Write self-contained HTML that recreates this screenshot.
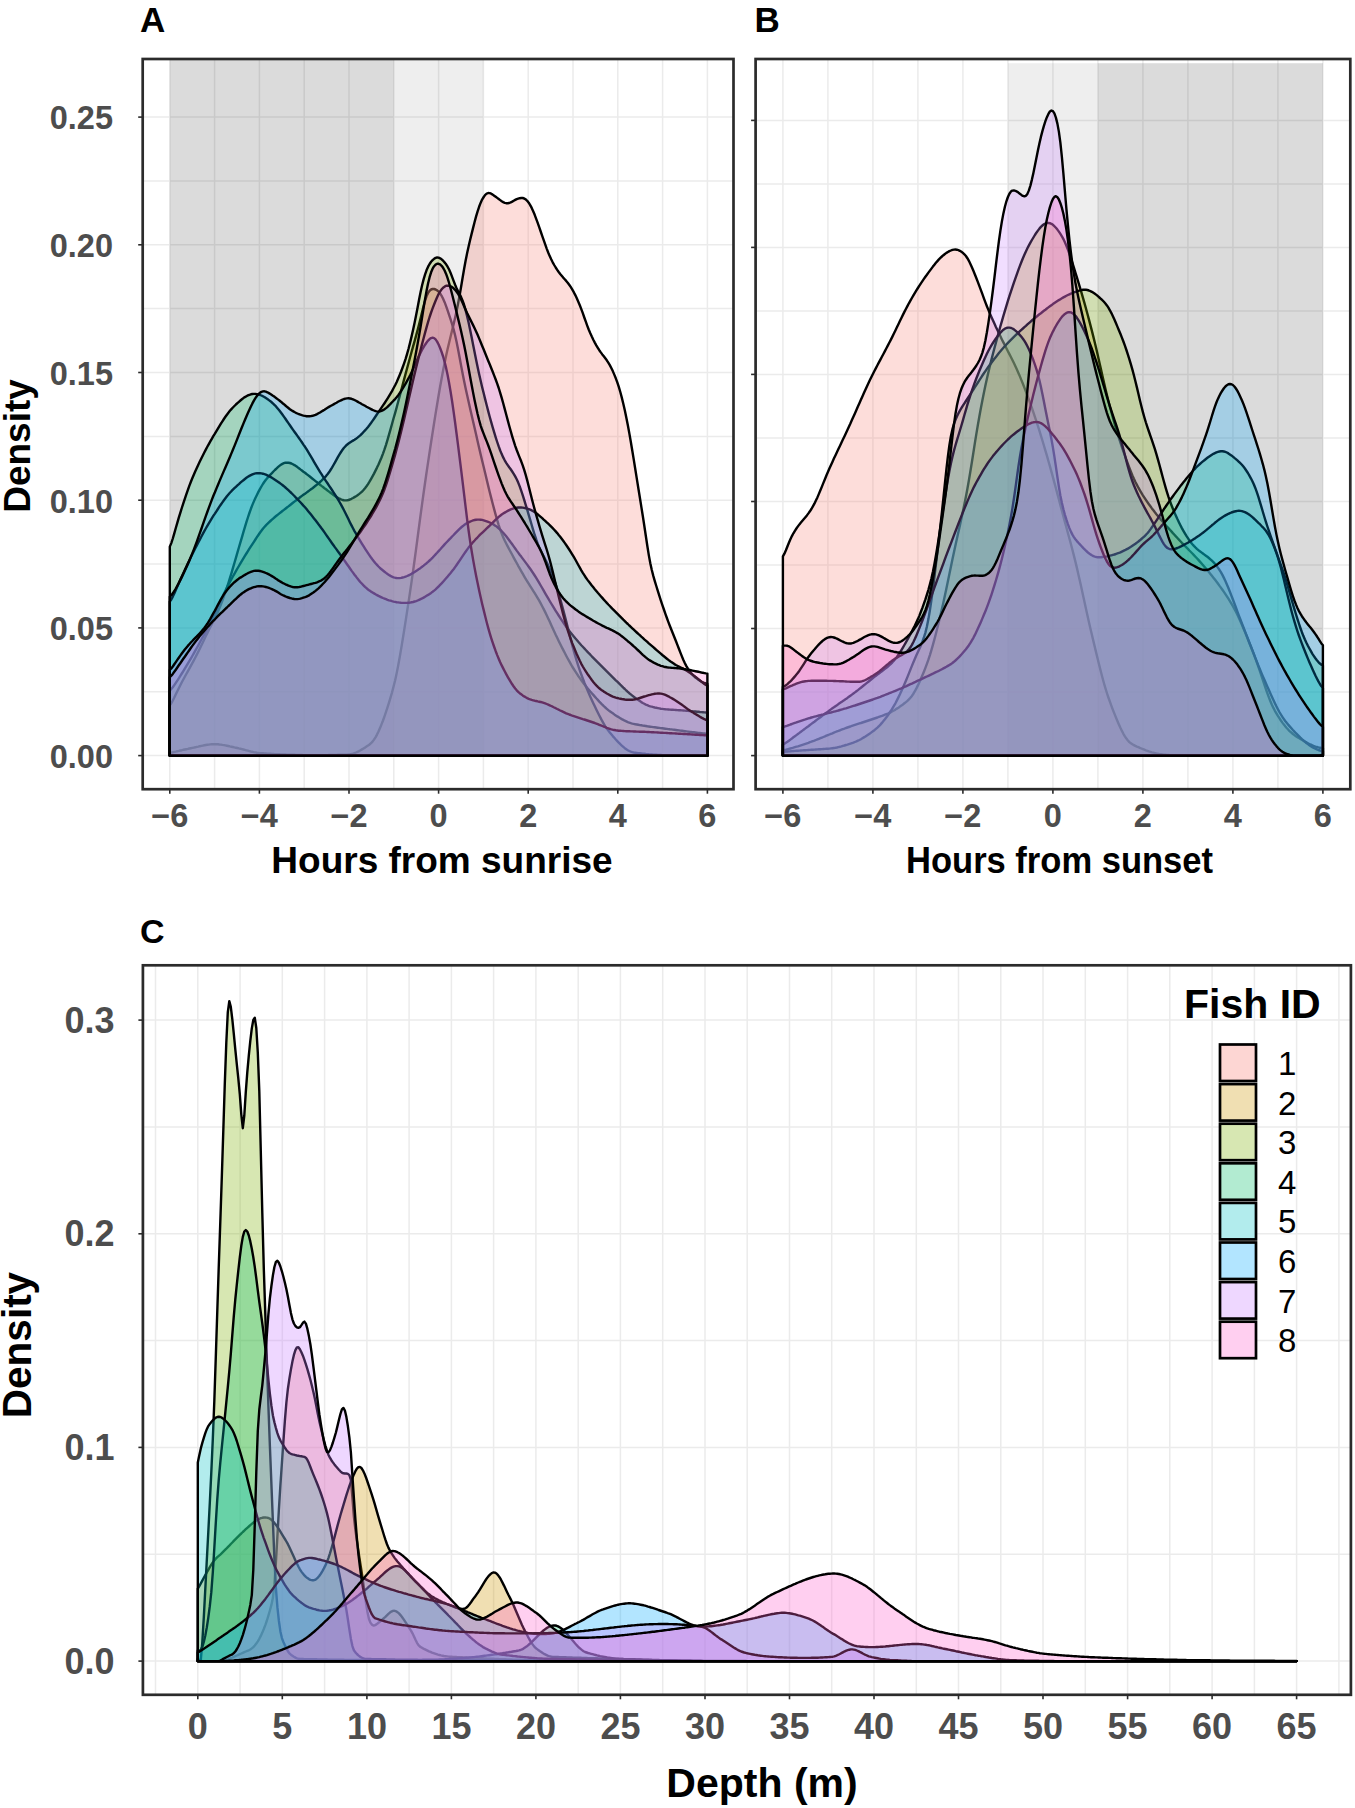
<!DOCTYPE html><html><head><meta charset="utf-8"><style>html,body{margin:0;padding:0;background:#fff;width:1355px;height:1808px;overflow:hidden}</style></head><body><svg xmlns="http://www.w3.org/2000/svg" width="1355" height="1808" viewBox="0 0 1355 1808" style="position:absolute;left:0;top:0">
<rect width="100%" height="100%" fill="#fff"/>
<g font-family='"Liberation Sans", sans-serif'>
<line x1="169.8" y1="59.0" x2="169.8" y2="789.2" stroke="#ebebeb" stroke-width="1.5"/>
<line x1="214.6" y1="59.0" x2="214.6" y2="789.2" stroke="#ebebeb" stroke-width="1.5"/>
<line x1="259.4" y1="59.0" x2="259.4" y2="789.2" stroke="#ebebeb" stroke-width="1.5"/>
<line x1="304.2" y1="59.0" x2="304.2" y2="789.2" stroke="#ebebeb" stroke-width="1.5"/>
<line x1="349.0" y1="59.0" x2="349.0" y2="789.2" stroke="#ebebeb" stroke-width="1.5"/>
<line x1="393.8" y1="59.0" x2="393.8" y2="789.2" stroke="#ebebeb" stroke-width="1.5"/>
<line x1="438.6" y1="59.0" x2="438.6" y2="789.2" stroke="#ebebeb" stroke-width="1.5"/>
<line x1="483.4" y1="59.0" x2="483.4" y2="789.2" stroke="#ebebeb" stroke-width="1.5"/>
<line x1="528.2" y1="59.0" x2="528.2" y2="789.2" stroke="#ebebeb" stroke-width="1.5"/>
<line x1="573.0" y1="59.0" x2="573.0" y2="789.2" stroke="#ebebeb" stroke-width="1.5"/>
<line x1="617.8" y1="59.0" x2="617.8" y2="789.2" stroke="#ebebeb" stroke-width="1.5"/>
<line x1="662.6" y1="59.0" x2="662.6" y2="789.2" stroke="#ebebeb" stroke-width="1.5"/>
<line x1="707.4" y1="59.0" x2="707.4" y2="789.2" stroke="#ebebeb" stroke-width="1.5"/>
<line x1="142.7" y1="755.6" x2="733.4" y2="755.6" stroke="#ebebeb" stroke-width="1.5"/>
<line x1="142.7" y1="691.8" x2="733.4" y2="691.8" stroke="#ebebeb" stroke-width="1.5"/>
<line x1="142.7" y1="627.9" x2="733.4" y2="627.9" stroke="#ebebeb" stroke-width="1.5"/>
<line x1="142.7" y1="564.0" x2="733.4" y2="564.0" stroke="#ebebeb" stroke-width="1.5"/>
<line x1="142.7" y1="500.2" x2="733.4" y2="500.2" stroke="#ebebeb" stroke-width="1.5"/>
<line x1="142.7" y1="436.4" x2="733.4" y2="436.4" stroke="#ebebeb" stroke-width="1.5"/>
<line x1="142.7" y1="372.5" x2="733.4" y2="372.5" stroke="#ebebeb" stroke-width="1.5"/>
<line x1="142.7" y1="308.6" x2="733.4" y2="308.6" stroke="#ebebeb" stroke-width="1.5"/>
<line x1="142.7" y1="244.8" x2="733.4" y2="244.8" stroke="#ebebeb" stroke-width="1.5"/>
<line x1="142.7" y1="181.0" x2="733.4" y2="181.0" stroke="#ebebeb" stroke-width="1.5"/>
<line x1="142.7" y1="117.1" x2="733.4" y2="117.1" stroke="#ebebeb" stroke-width="1.5"/>
<rect x="169.8" y="59.6" width="224.0" height="696.0" fill="#000" fill-opacity="0.140"/>
<rect x="393.8" y="59.6" width="89.6" height="696.0" fill="#000" fill-opacity="0.065"/>
<path d="M169.8,755.6 L169.8,752.8 L171.3,752.6 L172.8,752.3 L174.3,751.9 L175.8,751.6 L177.3,751.2 L178.8,750.9 L180.3,750.5 L181.8,750.2 L183.3,749.8 L184.8,749.5 L186.3,749.2 L187.8,748.9 L189.3,748.5 L190.8,748.2 L192.3,747.9 L193.8,747.6 L195.3,747.3 L196.8,746.9 L198.3,746.6 L199.8,746.2 L201.3,745.9 L202.8,745.6 L204.3,745.3 L205.8,745.0 L207.3,744.8 L208.8,744.6 L210.3,744.4 L211.8,744.3 L213.3,744.2 L214.9,744.2 L216.4,744.2 L217.9,744.3 L219.4,744.5 L220.9,744.6 L222.4,744.9 L223.9,745.1 L225.4,745.4 L226.9,745.7 L228.4,746.0 L229.9,746.4 L231.4,746.7 L232.9,747.0 L234.4,747.4 L235.9,747.7 L237.4,748.0 L238.9,748.4 L240.4,748.7 L241.9,749.1 L243.4,749.5 L244.9,749.9 L246.4,750.3 L247.9,750.7 L249.4,751.1 L250.9,751.5 L252.4,751.8 L253.9,752.2 L255.4,752.4 L256.9,752.7 L258.4,752.9 L259.9,753.1 L261.4,753.2 L262.9,753.3 L264.4,753.4 L265.9,753.5 L267.4,753.6 L268.9,753.7 L270.4,753.8 L271.9,753.9 L273.4,754.0 L274.9,754.1 L276.4,754.2 L277.9,754.2 L279.4,754.3 L280.9,754.4 L282.4,754.4 L283.9,754.5 L285.4,754.5 L286.9,754.6 L288.4,754.6 L289.9,754.7 L291.4,754.7 L292.9,754.8 L294.4,754.8 L295.9,754.9 L297.4,754.9 L298.9,754.9 L300.4,755.0 L301.9,755.0 L303.4,755.1 L305.0,755.1 L306.5,755.1 L308.0,755.2 L309.5,755.2 L311.0,755.2 L312.5,755.2 L314.0,755.2 L315.5,755.2 L317.0,755.2 L318.5,755.2 L320.0,755.2 L321.5,755.2 L323.0,755.2 L324.5,755.1 L326.0,755.1 L327.5,755.1 L329.0,755.0 L330.5,755.0 L332.0,755.0 L333.5,754.9 L335.0,754.9 L336.5,754.9 L338.0,754.8 L339.5,754.8 L341.0,754.8 L342.5,754.7 L344.0,754.7 L345.5,754.6 L347.0,754.6 L348.5,754.4 L350.0,754.3 L351.5,754.0 L353.0,753.6 L354.5,753.1 L356.0,752.5 L357.5,751.8 L359.0,751.1 L360.5,750.3 L362.0,749.4 L363.5,748.5 L365.0,747.6 L366.5,746.6 L368.0,745.6 L369.5,744.5 L371.0,743.2 L372.5,741.6 L374.0,739.6 L375.5,737.3 L377.0,734.6 L378.5,731.5 L380.0,728.1 L381.5,724.4 L383.0,720.5 L384.5,716.3 L386.0,711.9 L387.5,707.4 L389.0,702.6 L390.5,697.7 L392.0,692.5 L393.5,686.8 L395.1,680.5 L396.6,673.5 L398.1,665.9 L399.6,657.8 L401.1,649.1 L402.6,640.0 L404.1,630.7 L405.6,621.1 L407.1,611.4 L408.6,601.6 L410.1,591.6 L411.6,581.4 L413.1,570.8 L414.6,560.0 L416.1,548.8 L417.6,537.5 L419.1,526.2 L420.6,514.9 L422.1,503.8 L423.6,493.0 L425.1,482.5 L426.6,472.2 L428.1,462.1 L429.6,452.1 L431.1,442.3 L432.6,432.6 L434.1,423.0 L435.6,413.6 L437.1,404.5 L438.6,395.5 L440.1,386.8 L441.6,378.5 L443.1,370.5 L444.6,362.9 L446.1,355.8 L447.6,349.1 L449.1,342.7 L450.6,336.5 L452.1,330.4 L453.6,324.2 L455.1,317.8 L456.6,311.0 L458.1,303.6 L459.6,295.5 L461.1,286.8 L462.6,277.8 L464.1,269.0 L465.6,260.8 L467.1,253.3 L468.6,246.5 L470.1,240.0 L471.6,233.9 L473.1,227.9 L474.6,222.0 L476.1,216.4 L477.6,211.3 L479.1,206.8 L480.6,202.9 L482.1,199.6 L483.7,197.0 L485.2,194.9 L486.7,193.6 L488.2,193.0 L489.7,193.1 L491.2,193.7 L492.7,194.6 L494.2,195.7 L495.7,196.8 L497.2,197.9 L498.7,199.0 L500.2,200.1 L501.7,201.2 L503.2,202.1 L504.7,202.8 L506.2,203.2 L507.7,203.3 L509.2,203.0 L510.7,202.4 L512.2,201.6 L513.7,200.7 L515.2,199.9 L516.7,199.1 L518.2,198.6 L519.7,198.2 L521.2,198.0 L522.7,198.0 L524.2,198.5 L525.7,199.4 L527.2,200.8 L528.7,202.7 L530.2,205.1 L531.7,207.9 L533.2,211.2 L534.7,214.8 L536.2,218.8 L537.7,222.9 L539.2,227.2 L540.7,231.5 L542.2,235.8 L543.7,240.1 L545.2,244.4 L546.7,248.6 L548.2,252.5 L549.7,256.1 L551.2,259.3 L552.7,262.3 L554.2,265.0 L555.7,267.5 L557.2,269.8 L558.7,272.0 L560.2,274.0 L561.7,275.8 L563.2,277.6 L564.7,279.2 L566.2,280.9 L567.7,282.7 L569.2,284.7 L570.7,286.9 L572.2,289.4 L573.8,292.2 L575.3,295.1 L576.8,298.3 L578.3,301.7 L579.8,305.3 L581.3,309.1 L582.8,313.2 L584.3,317.5 L585.8,321.7 L587.3,325.8 L588.8,329.7 L590.3,333.3 L591.8,336.6 L593.3,339.7 L594.8,342.6 L596.3,345.3 L597.8,347.8 L599.3,350.2 L600.8,352.4 L602.3,354.4 L603.8,356.3 L605.3,358.3 L606.8,360.3 L608.3,362.6 L609.8,365.1 L611.3,368.0 L612.8,371.1 L614.3,374.6 L615.8,378.3 L617.3,382.4 L618.8,386.9 L620.3,392.0 L621.8,397.6 L623.3,403.7 L624.8,410.3 L626.3,417.4 L627.8,425.0 L629.3,433.1 L630.8,441.7 L632.3,450.7 L633.8,459.9 L635.3,469.3 L636.8,478.6 L638.3,488.0 L639.8,497.3 L641.3,506.6 L642.8,516.0 L644.3,525.7 L645.8,535.8 L647.3,545.8 L648.8,555.1 L650.3,563.2 L651.8,570.0 L653.3,575.9 L654.8,581.1 L656.3,586.0 L657.8,590.8 L659.3,595.6 L660.8,600.3 L662.3,604.9 L663.9,609.5 L665.4,613.8 L666.9,618.0 L668.4,622.1 L669.9,626.0 L671.4,629.8 L672.9,633.5 L674.4,637.3 L675.9,641.0 L677.4,644.9 L678.9,648.8 L680.4,652.6 L681.9,656.4 L683.4,660.0 L684.9,663.2 L686.4,666.1 L687.9,668.6 L689.4,670.8 L690.9,672.8 L692.4,674.6 L693.9,676.1 L695.4,677.5 L696.9,678.6 L698.4,679.7 L699.9,680.7 L701.4,681.6 L702.9,682.4 L704.4,683.0 L705.9,683.5 L707.4,683.8 L707.4,755.6Z" fill="#F8766D" fill-opacity="0.25" stroke="#000" stroke-width="2.4" stroke-linejoin="round"/>
<path d="M169.8,755.6 L169.8,705.2 L171.3,703.2 L172.8,700.5 L174.3,697.5 L175.8,694.3 L177.3,691.2 L178.8,688.2 L180.3,685.2 L181.8,682.3 L183.3,679.5 L184.8,676.7 L186.3,674.0 L187.8,671.3 L189.3,668.6 L190.8,665.9 L192.3,663.2 L193.8,660.4 L195.3,657.5 L196.8,654.6 L198.3,651.6 L199.8,648.6 L201.3,645.5 L202.8,642.4 L204.3,639.2 L205.8,636.1 L207.3,633.1 L208.8,630.0 L210.3,627.0 L211.8,624.1 L213.3,621.1 L214.9,618.1 L216.4,615.0 L217.9,611.7 L219.4,608.2 L220.9,604.5 L222.4,600.6 L223.9,596.4 L225.4,592.1 L226.9,587.6 L228.4,583.0 L229.9,578.2 L231.4,573.3 L232.9,568.2 L234.4,563.0 L235.9,557.8 L237.4,552.6 L238.9,547.5 L240.4,542.4 L241.9,537.3 L243.4,532.2 L244.9,527.2 L246.4,522.2 L247.9,517.5 L249.4,513.0 L250.9,508.8 L252.4,504.9 L253.9,501.4 L255.4,498.0 L256.9,494.9 L258.4,491.9 L259.9,489.1 L261.4,486.5 L262.9,484.0 L264.4,481.8 L265.9,479.7 L267.4,477.9 L268.9,476.2 L270.4,474.6 L271.9,473.1 L273.4,471.5 L274.9,470.0 L276.4,468.6 L277.9,467.2 L279.4,465.9 L280.9,464.8 L282.4,463.9 L283.9,463.2 L285.4,462.7 L286.9,462.6 L288.4,462.7 L289.9,463.0 L291.4,463.5 L292.9,464.3 L294.4,465.1 L295.9,466.1 L297.4,467.1 L298.9,468.2 L300.4,469.4 L301.9,470.5 L303.4,471.7 L305.0,472.8 L306.5,474.0 L308.0,475.1 L309.5,476.3 L311.0,477.5 L312.5,478.7 L314.0,479.9 L315.5,481.1 L317.0,482.3 L318.5,483.5 L320.0,484.7 L321.5,485.9 L323.0,487.0 L324.5,488.2 L326.0,489.3 L327.5,490.5 L329.0,491.6 L330.5,492.7 L332.0,493.9 L333.5,495.0 L335.0,496.0 L336.5,497.0 L338.0,497.9 L339.5,498.7 L341.0,499.4 L342.5,500.0 L344.0,500.3 L345.5,500.4 L347.0,500.3 L348.5,500.0 L350.0,499.5 L351.5,498.8 L353.0,498.0 L354.5,497.1 L356.0,496.2 L357.5,495.2 L359.0,494.1 L360.5,492.9 L362.0,491.6 L363.5,490.0 L365.0,488.2 L366.5,486.3 L368.0,484.1 L369.5,481.7 L371.0,479.1 L372.5,476.4 L374.0,473.6 L375.5,470.6 L377.0,467.6 L378.5,464.4 L380.0,461.0 L381.5,457.5 L383.0,453.6 L384.5,449.4 L386.0,444.8 L387.5,439.8 L389.0,434.7 L390.5,429.4 L392.0,424.0 L393.5,418.5 L395.1,413.1 L396.6,407.6 L398.1,402.0 L399.6,396.4 L401.1,390.7 L402.6,385.1 L404.1,379.4 L405.6,373.7 L407.1,368.2 L408.6,362.7 L410.1,357.2 L411.6,351.8 L413.1,346.4 L414.6,341.1 L416.1,335.6 L417.6,330.1 L419.1,324.3 L420.6,318.3 L422.1,312.1 L423.6,306.0 L425.1,300.6 L426.6,296.1 L428.1,292.9 L429.6,290.7 L431.1,289.5 L432.6,289.0 L434.1,289.0 L435.6,289.5 L437.1,290.4 L438.6,291.6 L440.1,293.4 L441.6,295.8 L443.1,298.7 L444.6,302.2 L446.1,306.2 L447.6,310.4 L449.1,314.9 L450.6,319.4 L452.1,324.2 L453.6,329.4 L455.1,335.3 L456.6,342.0 L458.1,349.5 L459.6,357.5 L461.1,365.6 L462.6,373.5 L464.1,381.0 L465.6,388.2 L467.1,395.1 L468.6,401.8 L470.1,408.4 L471.6,415.0 L473.1,421.5 L474.6,428.1 L476.1,434.6 L477.6,441.2 L479.1,447.7 L480.6,454.2 L482.1,460.6 L483.7,467.0 L485.2,473.3 L486.7,479.6 L488.2,485.9 L489.7,492.0 L491.2,497.9 L492.7,503.7 L494.2,509.4 L495.7,514.9 L497.2,520.2 L498.7,525.1 L500.2,529.6 L501.7,533.6 L503.2,537.2 L504.7,540.5 L506.2,543.5 L507.7,546.4 L509.2,549.2 L510.7,552.0 L512.2,554.8 L513.7,557.6 L515.2,560.3 L516.7,563.0 L518.2,565.8 L519.7,568.4 L521.2,571.1 L522.7,573.7 L524.2,576.3 L525.7,578.8 L527.2,581.3 L528.7,583.7 L530.2,586.1 L531.7,588.4 L533.2,590.8 L534.7,593.2 L536.2,595.6 L537.7,598.1 L539.2,600.7 L540.7,603.4 L542.2,606.2 L543.7,609.1 L545.2,612.1 L546.7,615.2 L548.2,618.4 L549.7,621.6 L551.2,624.9 L552.7,628.2 L554.2,631.4 L555.7,634.7 L557.2,637.8 L558.7,640.9 L560.2,644.0 L561.7,647.0 L563.2,649.9 L564.7,652.8 L566.2,655.7 L567.7,658.5 L569.2,661.2 L570.7,663.9 L572.2,666.5 L573.8,669.0 L575.3,671.4 L576.8,673.7 L578.3,676.0 L579.8,678.1 L581.3,680.2 L582.8,682.2 L584.3,684.2 L585.8,686.1 L587.3,687.9 L588.8,689.7 L590.3,691.5 L591.8,693.2 L593.3,694.9 L594.8,696.6 L596.3,698.3 L597.8,699.9 L599.3,701.6 L600.8,703.1 L602.3,704.7 L603.8,706.2 L605.3,707.5 L606.8,708.8 L608.3,710.1 L609.8,711.2 L611.3,712.3 L612.8,713.3 L614.3,714.4 L615.8,715.4 L617.3,716.4 L618.8,717.3 L620.3,718.2 L621.8,719.1 L623.3,719.9 L624.8,720.7 L626.3,721.4 L627.8,722.1 L629.3,722.7 L630.8,723.2 L632.3,723.6 L633.8,723.9 L635.3,724.3 L636.8,724.5 L638.3,724.8 L639.8,725.1 L641.3,725.3 L642.8,725.6 L644.3,725.8 L645.8,726.0 L647.3,726.3 L648.8,726.5 L650.3,726.7 L651.8,726.9 L653.3,727.1 L654.8,727.3 L656.3,727.5 L657.8,727.7 L659.3,727.9 L660.8,728.1 L662.3,728.3 L663.9,728.5 L665.4,728.7 L666.9,728.9 L668.4,729.1 L669.9,729.3 L671.4,729.4 L672.9,729.6 L674.4,729.8 L675.9,730.0 L677.4,730.2 L678.9,730.4 L680.4,730.6 L681.9,730.8 L683.4,731.0 L684.9,731.2 L686.4,731.4 L687.9,731.6 L689.4,731.8 L690.9,731.9 L692.4,732.1 L693.9,732.3 L695.4,732.5 L696.9,732.7 L698.4,732.9 L699.9,733.0 L701.4,733.2 L702.9,733.4 L704.4,733.5 L705.9,733.7 L707.4,733.8 L707.4,755.6Z" fill="#CD9600" fill-opacity="0.25" stroke="#000" stroke-width="2.4" stroke-linejoin="round"/>
<path d="M169.8,755.6 L169.8,690.4 L171.3,689.0 L172.8,687.2 L174.3,685.1 L175.8,682.9 L177.3,680.6 L178.8,678.3 L180.3,675.9 L181.8,673.5 L183.3,671.1 L184.8,668.6 L186.3,666.1 L187.8,663.6 L189.3,661.1 L190.8,658.6 L192.3,656.0 L193.8,653.4 L195.3,650.7 L196.8,648.0 L198.3,645.3 L199.8,642.5 L201.3,639.7 L202.8,636.9 L204.3,634.1 L205.8,631.2 L207.3,628.3 L208.8,625.4 L210.3,622.4 L211.8,619.4 L213.3,616.3 L214.9,613.1 L216.4,609.9 L217.9,606.6 L219.4,603.4 L220.9,600.1 L222.4,596.9 L223.9,593.7 L225.4,590.7 L226.9,587.7 L228.4,584.8 L229.9,582.0 L231.4,579.2 L232.9,576.5 L234.4,573.8 L235.9,571.2 L237.4,568.5 L238.9,566.0 L240.4,563.4 L241.9,560.9 L243.4,558.4 L244.9,555.9 L246.4,553.5 L247.9,551.1 L249.4,548.7 L250.9,546.4 L252.4,544.1 L253.9,541.8 L255.4,539.5 L256.9,537.2 L258.4,535.0 L259.9,532.8 L261.4,530.8 L262.9,528.8 L264.4,527.0 L265.9,525.4 L267.4,523.8 L268.9,522.4 L270.4,521.0 L271.9,519.6 L273.4,518.3 L274.9,517.0 L276.4,515.8 L277.9,514.6 L279.4,513.4 L280.9,512.2 L282.4,511.0 L283.9,509.9 L285.4,508.7 L286.9,507.5 L288.4,506.4 L289.9,505.2 L291.4,504.0 L292.9,502.8 L294.4,501.6 L295.9,500.5 L297.4,499.3 L298.9,498.2 L300.4,497.0 L301.9,495.9 L303.4,494.8 L305.0,493.7 L306.5,492.6 L308.0,491.5 L309.5,490.4 L311.0,489.3 L312.5,488.2 L314.0,487.0 L315.5,485.8 L317.0,484.6 L318.5,483.3 L320.0,482.0 L321.5,480.7 L323.0,479.2 L324.5,477.7 L326.0,476.1 L327.5,474.3 L329.0,472.3 L330.5,470.0 L332.0,467.6 L333.5,465.0 L335.0,462.3 L336.5,459.6 L338.0,456.9 L339.5,454.4 L341.0,452.0 L342.5,449.8 L344.0,447.8 L345.5,446.2 L347.0,444.7 L348.5,443.5 L350.0,442.5 L351.5,441.5 L353.0,440.6 L354.5,439.7 L356.0,438.7 L357.5,437.6 L359.0,436.4 L360.5,435.1 L362.0,433.6 L363.5,432.0 L365.0,430.4 L366.5,428.7 L368.0,426.9 L369.5,425.0 L371.0,423.0 L372.5,420.9 L374.0,418.7 L375.5,416.5 L377.0,414.3 L378.5,412.1 L380.0,409.8 L381.5,407.6 L383.0,405.4 L384.5,403.2 L386.0,400.9 L387.5,398.6 L389.0,396.2 L390.5,393.7 L392.0,391.1 L393.5,388.3 L395.1,385.3 L396.6,382.2 L398.1,378.8 L399.6,375.2 L401.1,371.5 L402.6,367.5 L404.1,363.3 L405.6,358.8 L407.1,353.8 L408.6,348.5 L410.1,342.6 L411.6,336.4 L413.1,329.7 L414.6,322.7 L416.1,315.2 L417.6,307.4 L419.1,299.6 L420.6,292.1 L422.1,285.3 L423.6,279.4 L425.1,274.4 L426.6,270.1 L428.1,266.7 L429.6,264.0 L431.1,261.8 L432.6,260.1 L434.1,258.8 L435.6,257.9 L437.1,257.5 L438.6,257.6 L440.1,258.3 L441.6,259.3 L443.1,260.7 L444.6,262.4 L446.1,264.3 L447.6,266.7 L449.1,269.5 L450.6,272.9 L452.1,276.9 L453.6,280.9 L455.1,284.8 L456.6,288.2 L458.1,291.2 L459.6,294.0 L461.1,297.1 L462.6,300.6 L464.1,305.0 L465.6,310.1 L467.1,316.1 L468.6,322.6 L470.1,329.7 L471.6,337.1 L473.1,344.7 L474.6,352.2 L476.1,359.7 L477.6,367.0 L479.1,373.9 L480.6,380.6 L482.1,387.0 L483.7,393.3 L485.2,399.4 L486.7,405.3 L488.2,411.1 L489.7,416.7 L491.2,422.1 L492.7,427.3 L494.2,432.4 L495.7,437.3 L497.2,442.0 L498.7,446.4 L500.2,450.5 L501.7,454.1 L503.2,457.4 L504.7,460.3 L506.2,462.8 L507.7,465.1 L509.2,467.3 L510.7,469.3 L512.2,471.5 L513.7,473.8 L515.2,476.4 L516.7,479.3 L518.2,482.6 L519.7,486.4 L521.2,490.6 L522.7,495.1 L524.2,499.9 L525.7,504.8 L527.2,509.7 L528.7,514.8 L530.2,519.9 L531.7,525.0 L533.2,530.1 L534.7,535.0 L536.2,539.5 L537.7,543.6 L539.2,547.2 L540.7,550.5 L542.2,553.5 L543.7,556.4 L545.2,559.3 L546.7,562.3 L548.2,565.5 L549.7,568.9 L551.2,572.4 L552.7,576.1 L554.2,580.1 L555.7,584.3 L557.2,588.9 L558.7,593.8 L560.2,598.9 L561.7,604.3 L563.2,609.8 L564.7,615.5 L566.2,621.3 L567.7,627.2 L569.2,633.3 L570.7,639.3 L572.2,645.2 L573.8,650.8 L575.3,656.2 L576.8,661.2 L578.3,665.8 L579.8,670.3 L581.3,674.5 L582.8,678.5 L584.3,682.5 L585.8,686.2 L587.3,689.8 L588.8,693.3 L590.3,696.7 L591.8,700.0 L593.3,703.2 L594.8,706.3 L596.3,709.4 L597.8,712.5 L599.3,715.5 L600.8,718.4 L602.3,721.2 L603.8,723.8 L605.3,726.3 L606.8,728.6 L608.3,730.6 L609.8,732.5 L611.3,734.3 L612.8,736.1 L614.3,737.8 L615.8,739.5 L617.3,741.1 L618.8,742.7 L620.3,744.2 L621.8,745.6 L623.3,746.9 L624.8,748.2 L626.3,749.3 L627.8,750.2 L629.3,751.0 L630.8,751.6 L632.3,752.1 L633.8,752.5 L635.3,752.7 L636.8,752.9 L638.3,753.1 L639.8,753.3 L641.3,753.5 L642.8,753.7 L644.3,753.8 L645.8,754.0 L647.3,754.1 L648.8,754.3 L650.3,754.4 L651.8,754.5 L653.3,754.6 L654.8,754.7 L656.3,754.8 L657.8,754.9 L659.3,755.0 L660.8,755.0 L662.3,755.1 L663.9,755.1 L665.4,755.1 L666.9,755.2 L668.4,755.2 L669.9,755.2 L671.4,755.3 L672.9,755.3 L674.4,755.3 L675.9,755.4 L677.4,755.4 L678.9,755.4 L680.4,755.5 L681.9,755.5 L683.4,755.5 L684.9,755.5 L686.4,755.6 L687.9,755.6 L689.4,755.6 L690.9,755.6 L692.4,755.6 L693.9,755.6 L695.4,755.6 L696.9,755.6 L698.4,755.6 L699.9,755.6 L701.4,755.6 L702.9,755.6 L704.4,755.6 L705.9,755.6 L707.4,755.6 L707.4,755.6Z" fill="#7CAE00" fill-opacity="0.25" stroke="#000" stroke-width="2.4" stroke-linejoin="round"/>
<path d="M169.8,755.6 L169.8,546.6 L171.3,543.1 L172.8,538.5 L174.3,533.3 L175.8,528.0 L177.3,522.8 L178.8,517.7 L180.3,512.8 L181.8,508.0 L183.3,503.3 L184.8,498.8 L186.3,494.4 L187.8,490.1 L189.3,485.9 L190.8,482.0 L192.3,478.3 L193.8,474.7 L195.3,471.3 L196.8,468.0 L198.3,464.7 L199.8,461.6 L201.3,458.5 L202.8,455.5 L204.3,452.5 L205.8,449.6 L207.3,446.8 L208.8,444.1 L210.3,441.4 L211.8,438.8 L213.3,436.2 L214.9,433.7 L216.4,431.2 L217.9,428.7 L219.4,426.2 L220.9,423.7 L222.4,421.4 L223.9,419.0 L225.4,416.8 L226.9,414.7 L228.4,412.7 L229.9,410.8 L231.4,409.1 L232.9,407.5 L234.4,406.0 L235.9,404.5 L237.4,403.1 L238.9,401.8 L240.4,400.5 L241.9,399.3 L243.4,398.1 L244.9,397.1 L246.4,396.2 L247.9,395.4 L249.4,394.8 L250.9,394.3 L252.4,394.0 L253.9,393.9 L255.4,393.9 L256.9,394.1 L258.4,394.5 L259.9,394.9 L261.4,395.5 L262.9,396.2 L264.4,397.0 L265.9,398.0 L267.4,399.0 L268.9,400.1 L270.4,401.2 L271.9,402.5 L273.4,403.8 L274.9,405.3 L276.4,406.9 L277.9,408.7 L279.4,410.5 L280.9,412.5 L282.4,414.5 L283.9,416.6 L285.4,418.8 L286.9,421.0 L288.4,423.1 L289.9,425.3 L291.4,427.5 L292.9,429.6 L294.4,431.7 L295.9,433.8 L297.4,435.9 L298.9,438.0 L300.4,440.1 L301.9,442.3 L303.4,444.6 L305.0,446.8 L306.5,449.2 L308.0,451.6 L309.5,454.1 L311.0,456.6 L312.5,459.2 L314.0,461.8 L315.5,464.4 L317.0,466.9 L318.5,469.4 L320.0,471.9 L321.5,474.2 L323.0,476.6 L324.5,478.9 L326.0,481.1 L327.5,483.3 L329.0,485.6 L330.5,487.8 L332.0,490.0 L333.5,492.3 L335.0,494.6 L336.5,497.0 L338.0,499.4 L339.5,502.0 L341.0,504.6 L342.5,507.4 L344.0,510.3 L345.5,513.2 L347.0,516.3 L348.5,519.3 L350.0,522.4 L351.5,525.4 L353.0,528.3 L354.5,531.1 L356.0,533.7 L357.5,536.3 L359.0,538.8 L360.5,541.3 L362.0,543.8 L363.5,546.2 L365.0,548.6 L366.5,550.9 L368.0,553.2 L369.5,555.4 L371.0,557.5 L372.5,559.5 L374.0,561.4 L375.5,563.3 L377.0,564.9 L378.5,566.5 L380.0,568.0 L381.5,569.3 L383.0,570.5 L384.5,571.7 L386.0,572.9 L387.5,574.0 L389.0,575.0 L390.5,575.9 L392.0,576.7 L393.5,577.3 L395.1,577.7 L396.6,578.0 L398.1,578.1 L399.6,578.1 L401.1,577.9 L402.6,577.5 L404.1,577.1 L405.6,576.6 L407.1,576.0 L408.6,575.3 L410.1,574.6 L411.6,573.8 L413.1,572.9 L414.6,572.0 L416.1,571.0 L417.6,570.0 L419.1,568.9 L420.6,567.9 L422.1,566.7 L423.6,565.6 L425.1,564.4 L426.6,563.2 L428.1,561.9 L429.6,560.5 L431.1,559.1 L432.6,557.6 L434.1,556.0 L435.6,554.4 L437.1,552.8 L438.6,551.1 L440.1,549.5 L441.6,547.8 L443.1,546.1 L444.6,544.4 L446.1,542.8 L447.6,541.2 L449.1,539.6 L450.6,538.1 L452.1,536.5 L453.6,535.0 L455.1,533.4 L456.6,531.9 L458.1,530.4 L459.6,528.9 L461.1,527.5 L462.6,526.3 L464.1,525.1 L465.6,524.1 L467.1,523.1 L468.6,522.3 L470.1,521.6 L471.6,521.0 L473.1,520.4 L474.6,520.0 L476.1,519.7 L477.6,519.6 L479.1,519.6 L480.6,519.7 L482.1,519.9 L483.7,520.3 L485.2,520.8 L486.7,521.3 L488.2,521.9 L489.7,522.5 L491.2,523.2 L492.7,524.0 L494.2,524.9 L495.7,525.9 L497.2,527.0 L498.7,528.3 L500.2,529.7 L501.7,531.2 L503.2,532.8 L504.7,534.5 L506.2,536.3 L507.7,538.2 L509.2,540.2 L510.7,542.3 L512.2,544.3 L513.7,546.4 L515.2,548.5 L516.7,550.6 L518.2,552.6 L519.7,554.7 L521.2,556.6 L522.7,558.6 L524.2,560.6 L525.7,562.6 L527.2,564.6 L528.7,566.7 L530.2,568.8 L531.7,571.0 L533.2,573.2 L534.7,575.5 L536.2,577.9 L537.7,580.4 L539.2,582.9 L540.7,585.5 L542.2,588.0 L543.7,590.7 L545.2,593.3 L546.7,595.9 L548.2,598.4 L549.7,601.0 L551.2,603.5 L552.7,605.9 L554.2,608.4 L555.7,610.8 L557.2,613.2 L558.7,615.5 L560.2,617.9 L561.7,620.2 L563.2,622.4 L564.7,624.6 L566.2,626.7 L567.7,628.8 L569.2,630.8 L570.7,632.7 L572.2,634.6 L573.8,636.5 L575.3,638.3 L576.8,640.0 L578.3,641.8 L579.8,643.5 L581.3,645.2 L582.8,646.8 L584.3,648.4 L585.8,650.0 L587.3,651.6 L588.8,653.2 L590.3,654.7 L591.8,656.3 L593.3,657.8 L594.8,659.3 L596.3,660.8 L597.8,662.3 L599.3,663.8 L600.8,665.3 L602.3,666.8 L603.8,668.3 L605.3,669.8 L606.8,671.3 L608.3,672.8 L609.8,674.3 L611.3,675.8 L612.8,677.3 L614.3,678.8 L615.8,680.3 L617.3,681.7 L618.8,683.2 L620.3,684.7 L621.8,686.1 L623.3,687.6 L624.8,689.0 L626.3,690.5 L627.8,691.8 L629.3,693.2 L630.8,694.4 L632.3,695.6 L633.8,696.8 L635.3,697.9 L636.8,699.0 L638.3,700.1 L639.8,701.1 L641.3,702.1 L642.8,703.0 L644.3,703.8 L645.8,704.6 L647.3,705.2 L648.8,705.8 L650.3,706.3 L651.8,706.7 L653.3,707.1 L654.8,707.5 L656.3,707.8 L657.8,708.1 L659.3,708.4 L660.8,708.7 L662.3,708.9 L663.9,709.1 L665.4,709.3 L666.9,709.4 L668.4,709.5 L669.9,709.6 L671.4,709.7 L672.9,709.8 L674.4,709.9 L675.9,710.0 L677.4,710.1 L678.9,710.2 L680.4,710.3 L681.9,710.4 L683.4,710.5 L684.9,710.6 L686.4,710.7 L687.9,710.9 L689.4,711.0 L690.9,711.1 L692.4,711.3 L693.9,711.4 L695.4,711.5 L696.9,711.7 L698.4,711.8 L699.9,712.0 L701.4,712.1 L702.9,712.2 L704.4,712.4 L705.9,712.5 L707.4,712.6 L707.4,755.6Z" fill="#00BE67" fill-opacity="0.25" stroke="#000" stroke-width="2.4" stroke-linejoin="round"/>
<path d="M169.8,755.6 L169.8,601.6 L171.3,599.5 L172.8,596.6 L174.3,593.4 L175.8,590.0 L177.3,586.6 L178.8,583.2 L180.3,579.8 L181.8,576.5 L183.3,573.2 L184.8,569.9 L186.3,566.7 L187.8,563.5 L189.3,560.4 L190.8,557.3 L192.3,554.3 L193.8,551.3 L195.3,548.3 L196.8,545.4 L198.3,542.5 L199.8,539.6 L201.3,536.7 L202.8,533.9 L204.3,531.2 L205.8,528.5 L207.3,525.9 L208.8,523.3 L210.3,520.8 L211.8,518.3 L213.3,515.9 L214.9,513.6 L216.4,511.3 L217.9,509.0 L219.4,506.7 L220.9,504.5 L222.4,502.4 L223.9,500.3 L225.4,498.3 L226.9,496.3 L228.4,494.5 L229.9,492.8 L231.4,491.2 L232.9,489.7 L234.4,488.2 L235.9,486.8 L237.4,485.4 L238.9,484.1 L240.4,482.7 L241.9,481.4 L243.4,480.2 L244.9,479.0 L246.4,477.8 L247.9,476.8 L249.4,475.9 L250.9,475.1 L252.4,474.4 L253.9,473.8 L255.4,473.4 L256.9,473.2 L258.4,473.1 L259.9,473.2 L261.4,473.4 L262.9,473.7 L264.4,474.2 L265.9,474.7 L267.4,475.4 L268.9,476.1 L270.4,476.9 L271.9,477.8 L273.4,478.7 L274.9,479.7 L276.4,480.7 L277.9,481.7 L279.4,482.8 L280.9,483.9 L282.4,485.0 L283.9,486.2 L285.4,487.5 L286.9,488.8 L288.4,490.2 L289.9,491.6 L291.4,493.0 L292.9,494.5 L294.4,496.0 L295.9,497.6 L297.4,499.1 L298.9,500.7 L300.4,502.3 L301.9,503.9 L303.4,505.6 L305.0,507.3 L306.5,509.1 L308.0,510.9 L309.5,512.7 L311.0,514.6 L312.5,516.5 L314.0,518.4 L315.5,520.3 L317.0,522.3 L318.5,524.3 L320.0,526.2 L321.5,528.3 L323.0,530.3 L324.5,532.4 L326.0,534.6 L327.5,536.7 L329.0,538.9 L330.5,541.0 L332.0,543.2 L333.5,545.3 L335.0,547.4 L336.5,549.4 L338.0,551.5 L339.5,553.5 L341.0,555.6 L342.5,557.7 L344.0,559.9 L345.5,562.0 L347.0,564.2 L348.5,566.3 L350.0,568.5 L351.5,570.6 L353.0,572.6 L354.5,574.7 L356.0,576.6 L357.5,578.6 L359.0,580.4 L360.5,582.2 L362.0,583.8 L363.5,585.4 L365.0,586.9 L366.5,588.2 L368.0,589.5 L369.5,590.6 L371.0,591.6 L372.5,592.5 L374.0,593.4 L375.5,594.3 L377.0,595.1 L378.5,595.9 L380.0,596.6 L381.5,597.3 L383.0,598.0 L384.5,598.6 L386.0,599.2 L387.5,599.8 L389.0,600.3 L390.5,600.7 L392.0,601.2 L393.5,601.6 L395.1,601.9 L396.6,602.2 L398.1,602.4 L399.6,602.6 L401.1,602.8 L402.6,602.9 L404.1,602.9 L405.6,602.9 L407.1,602.9 L408.6,602.7 L410.1,602.6 L411.6,602.3 L413.1,602.0 L414.6,601.5 L416.1,601.1 L417.6,600.5 L419.1,599.8 L420.6,599.1 L422.1,598.4 L423.6,597.6 L425.1,596.7 L426.6,595.8 L428.1,594.9 L429.6,593.9 L431.1,592.9 L432.6,591.8 L434.1,590.6 L435.6,589.3 L437.1,587.9 L438.6,586.5 L440.1,584.9 L441.6,583.4 L443.1,581.7 L444.6,580.0 L446.1,578.3 L447.6,576.6 L449.1,574.8 L450.6,573.0 L452.1,571.1 L453.6,569.2 L455.1,567.1 L456.6,565.0 L458.1,562.8 L459.6,560.6 L461.1,558.3 L462.6,556.1 L464.1,553.9 L465.6,551.7 L467.1,549.6 L468.6,547.6 L470.1,545.7 L471.6,543.9 L473.1,542.1 L474.6,540.5 L476.1,538.8 L477.6,537.3 L479.1,535.7 L480.6,534.2 L482.1,532.8 L483.7,531.3 L485.2,529.9 L486.7,528.4 L488.2,527.0 L489.7,525.6 L491.2,524.1 L492.7,522.7 L494.2,521.2 L495.7,519.7 L497.2,518.3 L498.7,516.9 L500.2,515.7 L501.7,514.5 L503.2,513.5 L504.7,512.6 L506.2,511.7 L507.7,510.9 L509.2,510.1 L510.7,509.4 L512.2,508.8 L513.7,508.3 L515.2,508.0 L516.7,507.7 L518.2,507.5 L519.7,507.4 L521.2,507.5 L522.7,507.6 L524.2,507.9 L525.7,508.2 L527.2,508.6 L528.7,509.1 L530.2,509.7 L531.7,510.4 L533.2,511.2 L534.7,512.1 L536.2,513.1 L537.7,514.3 L539.2,515.6 L540.7,516.9 L542.2,518.2 L543.7,519.6 L545.2,520.9 L546.7,522.3 L548.2,523.7 L549.7,525.1 L551.2,526.6 L552.7,528.1 L554.2,529.7 L555.7,531.4 L557.2,533.1 L558.7,535.0 L560.2,536.8 L561.7,538.8 L563.2,540.8 L564.7,542.9 L566.2,545.0 L567.7,547.2 L569.2,549.5 L570.7,551.8 L572.2,554.3 L573.8,556.9 L575.3,559.5 L576.8,562.3 L578.3,565.0 L579.8,567.7 L581.3,570.4 L582.8,572.9 L584.3,575.2 L585.8,577.5 L587.3,579.6 L588.8,581.6 L590.3,583.5 L591.8,585.5 L593.3,587.3 L594.8,589.2 L596.3,591.0 L597.8,592.8 L599.3,594.5 L600.8,596.2 L602.3,597.9 L603.8,599.6 L605.3,601.2 L606.8,602.9 L608.3,604.5 L609.8,606.0 L611.3,607.6 L612.8,609.2 L614.3,610.7 L615.8,612.2 L617.3,613.7 L618.8,615.2 L620.3,616.7 L621.8,618.2 L623.3,619.7 L624.8,621.1 L626.3,622.6 L627.8,624.0 L629.3,625.5 L630.8,626.9 L632.3,628.3 L633.8,629.7 L635.3,631.1 L636.8,632.5 L638.3,633.9 L639.8,635.2 L641.3,636.6 L642.8,637.9 L644.3,639.3 L645.8,640.6 L647.3,641.9 L648.8,643.3 L650.3,644.6 L651.8,645.9 L653.3,647.2 L654.8,648.5 L656.3,649.8 L657.8,651.1 L659.3,652.4 L660.8,653.7 L662.3,655.0 L663.9,656.3 L665.4,657.5 L666.9,658.7 L668.4,659.9 L669.9,661.0 L671.4,662.1 L672.9,663.1 L674.4,664.1 L675.9,665.0 L677.4,665.8 L678.9,666.5 L680.4,667.3 L681.9,668.0 L683.4,668.7 L684.9,669.6 L686.4,670.5 L687.9,671.4 L689.4,672.4 L690.9,673.5 L692.4,674.5 L693.9,675.6 L695.4,676.8 L696.9,677.9 L698.4,679.1 L699.9,680.3 L701.4,681.6 L702.9,682.8 L704.4,684.0 L705.9,685.0 L707.4,685.8 L707.4,755.6Z" fill="#00BFC4" fill-opacity="0.25" stroke="#000" stroke-width="2.4" stroke-linejoin="round"/>
<path d="M169.8,755.6 L169.8,596.6 L171.3,595.2 L172.8,593.3 L174.3,591.0 L175.8,588.5 L177.3,585.8 L178.8,583.0 L180.3,580.1 L181.8,577.1 L183.3,574.0 L184.8,570.8 L186.3,567.5 L187.8,564.2 L189.3,560.7 L190.8,557.1 L192.3,553.4 L193.8,549.6 L195.3,545.6 L196.8,541.6 L198.3,537.4 L199.8,533.2 L201.3,529.0 L202.8,524.7 L204.3,520.4 L205.8,516.2 L207.3,512.0 L208.8,507.9 L210.3,503.8 L211.8,499.9 L213.3,496.0 L214.9,492.3 L216.4,488.6 L217.9,485.0 L219.4,481.4 L220.9,477.9 L222.4,474.4 L223.9,470.9 L225.4,467.5 L226.9,464.0 L228.4,460.5 L229.9,457.0 L231.4,453.4 L232.9,449.8 L234.4,446.1 L235.9,442.4 L237.4,438.6 L238.9,434.8 L240.4,431.0 L241.9,427.3 L243.4,423.6 L244.9,420.0 L246.4,416.5 L247.9,413.1 L249.4,409.8 L250.9,406.5 L252.4,403.4 L253.9,400.6 L255.4,398.1 L256.9,396.0 L258.4,394.2 L259.9,392.8 L261.4,391.9 L262.9,391.4 L264.4,391.3 L265.9,391.7 L267.4,392.3 L268.9,393.1 L270.4,394.0 L271.9,395.0 L273.4,396.1 L274.9,397.1 L276.4,398.3 L277.9,399.4 L279.4,400.5 L280.9,401.7 L282.4,403.0 L283.9,404.2 L285.4,405.5 L286.9,406.8 L288.4,408.0 L289.9,409.2 L291.4,410.2 L292.9,411.1 L294.4,412.0 L295.9,412.8 L297.4,413.5 L298.9,414.1 L300.4,414.7 L301.9,415.2 L303.4,415.6 L305.0,415.9 L306.5,416.2 L308.0,416.3 L309.5,416.2 L311.0,416.1 L312.5,415.8 L314.0,415.3 L315.5,414.8 L317.0,414.1 L318.5,413.3 L320.0,412.5 L321.5,411.5 L323.0,410.6 L324.5,409.7 L326.0,408.7 L327.5,407.8 L329.0,406.9 L330.5,406.0 L332.0,405.2 L333.5,404.4 L335.0,403.5 L336.5,402.7 L338.0,401.8 L339.5,401.0 L341.0,400.3 L342.5,399.6 L344.0,399.0 L345.5,398.6 L347.0,398.4 L348.5,398.3 L350.0,398.5 L351.5,398.8 L353.0,399.3 L354.5,400.0 L356.0,400.8 L357.5,401.6 L359.0,402.5 L360.5,403.3 L362.0,404.2 L363.5,405.0 L365.0,405.8 L366.5,406.7 L368.0,407.5 L369.5,408.3 L371.0,409.1 L372.5,409.9 L374.0,410.5 L375.5,411.1 L377.0,411.4 L378.5,411.6 L380.0,411.4 L381.5,410.9 L383.0,410.2 L384.5,409.2 L386.0,408.1 L387.5,406.8 L389.0,405.3 L390.5,403.9 L392.0,402.3 L393.5,400.7 L395.1,399.1 L396.6,397.3 L398.1,395.4 L399.6,393.3 L401.1,391.0 L402.6,388.7 L404.1,386.2 L405.6,383.6 L407.1,380.9 L408.6,378.2 L410.1,375.3 L411.6,372.2 L413.1,369.0 L414.6,365.6 L416.1,362.2 L417.6,358.8 L419.1,355.6 L420.6,352.6 L422.1,349.8 L423.6,347.1 L425.1,344.7 L426.6,342.5 L428.1,340.6 L429.6,339.1 L431.1,338.1 L432.6,337.7 L434.1,338.1 L435.6,339.4 L437.1,341.6 L438.6,344.5 L440.1,348.0 L441.6,352.0 L443.1,356.5 L444.6,361.8 L446.1,367.9 L447.6,375.0 L449.1,383.0 L450.6,391.8 L452.1,401.3 L453.6,411.6 L455.1,422.5 L456.6,434.0 L458.1,445.7 L459.6,457.6 L461.1,469.6 L462.6,481.8 L464.1,494.3 L465.6,506.8 L467.1,519.1 L468.6,530.5 L470.1,541.1 L471.6,550.7 L473.1,559.6 L474.6,567.9 L476.1,575.7 L477.6,583.1 L479.1,590.3 L480.6,597.1 L482.1,603.7 L483.7,610.1 L485.2,616.3 L486.7,622.2 L488.2,627.9 L489.7,633.2 L491.2,638.1 L492.7,642.7 L494.2,647.0 L495.7,651.2 L497.2,655.1 L498.7,658.7 L500.2,662.2 L501.7,665.4 L503.2,668.4 L504.7,671.3 L506.2,674.1 L507.7,676.8 L509.2,679.4 L510.7,681.9 L512.2,684.3 L513.7,686.5 L515.2,688.5 L516.7,690.3 L518.2,691.8 L519.7,693.2 L521.2,694.3 L522.7,695.4 L524.2,696.4 L525.7,697.3 L527.2,698.1 L528.7,698.8 L530.2,699.4 L531.7,699.9 L533.2,700.3 L534.7,700.7 L536.2,701.0 L537.7,701.4 L539.2,701.7 L540.7,702.0 L542.2,702.4 L543.7,702.9 L545.2,703.4 L546.7,704.0 L548.2,704.6 L549.7,705.3 L551.2,706.0 L552.7,706.7 L554.2,707.5 L555.7,708.2 L557.2,709.0 L558.7,709.7 L560.2,710.5 L561.7,711.2 L563.2,711.9 L564.7,712.6 L566.2,713.3 L567.7,713.9 L569.2,714.5 L570.7,715.0 L572.2,715.6 L573.8,716.1 L575.3,716.6 L576.8,717.1 L578.3,717.6 L579.8,718.1 L581.3,718.6 L582.8,719.1 L584.3,719.5 L585.8,720.0 L587.3,720.5 L588.8,721.0 L590.3,721.5 L591.8,722.0 L593.3,722.5 L594.8,723.0 L596.3,723.6 L597.8,724.2 L599.3,724.8 L600.8,725.4 L602.3,726.0 L603.8,726.6 L605.3,727.2 L606.8,727.8 L608.3,728.3 L609.8,728.8 L611.3,729.3 L612.8,729.7 L614.3,730.0 L615.8,730.3 L617.3,730.5 L618.8,730.7 L620.3,730.8 L621.8,730.9 L623.3,731.0 L624.8,731.1 L626.3,731.2 L627.8,731.2 L629.3,731.3 L630.8,731.4 L632.3,731.4 L633.8,731.5 L635.3,731.5 L636.8,731.6 L638.3,731.6 L639.8,731.7 L641.3,731.7 L642.8,731.8 L644.3,731.8 L645.8,731.9 L647.3,732.0 L648.8,732.0 L650.3,732.1 L651.8,732.2 L653.3,732.3 L654.8,732.4 L656.3,732.4 L657.8,732.5 L659.3,732.6 L660.8,732.7 L662.3,732.8 L663.9,732.9 L665.4,732.9 L666.9,733.0 L668.4,733.1 L669.9,733.2 L671.4,733.3 L672.9,733.4 L674.4,733.4 L675.9,733.5 L677.4,733.6 L678.9,733.7 L680.4,733.8 L681.9,733.9 L683.4,734.0 L684.9,734.0 L686.4,734.1 L687.9,734.2 L689.4,734.3 L690.9,734.4 L692.4,734.5 L693.9,734.6 L695.4,734.7 L696.9,734.8 L698.4,734.9 L699.9,735.0 L701.4,735.0 L702.9,735.1 L704.4,735.2 L705.9,735.3 L707.4,735.4 L707.4,755.6Z" fill="#00A9FF" fill-opacity="0.25" stroke="#000" stroke-width="2.4" stroke-linejoin="round"/>
<path d="M169.8,755.6 L169.8,669.8 L171.3,668.4 L172.8,666.5 L174.3,664.3 L175.8,662.1 L177.3,659.9 L178.8,657.7 L180.3,655.6 L181.8,653.5 L183.3,651.5 L184.8,649.5 L186.3,647.7 L187.8,645.9 L189.3,644.2 L190.8,642.5 L192.3,641.0 L193.8,639.4 L195.3,637.9 L196.8,636.4 L198.3,634.8 L199.8,633.2 L201.3,631.6 L202.8,629.8 L204.3,628.0 L205.8,625.9 L207.3,623.8 L208.8,621.4 L210.3,618.9 L211.8,616.2 L213.3,613.4 L214.9,610.6 L216.4,607.7 L217.9,604.9 L219.4,602.1 L220.9,599.4 L222.4,596.8 L223.9,594.4 L225.4,592.2 L226.9,590.2 L228.4,588.4 L229.9,586.7 L231.4,585.1 L232.9,583.6 L234.4,582.2 L235.9,581.0 L237.4,579.8 L238.9,578.6 L240.4,577.6 L241.9,576.7 L243.4,575.7 L244.9,574.9 L246.4,574.0 L247.9,573.2 L249.4,572.5 L250.9,571.8 L252.4,571.3 L253.9,570.9 L255.4,570.7 L256.9,570.7 L258.4,570.8 L259.9,571.0 L261.4,571.4 L262.9,571.9 L264.4,572.4 L265.9,573.0 L267.4,573.7 L268.9,574.4 L270.4,575.2 L271.9,576.1 L273.4,577.0 L274.9,578.0 L276.4,579.1 L277.9,580.1 L279.4,581.0 L280.9,581.9 L282.4,582.8 L283.9,583.5 L285.4,584.3 L286.9,584.9 L288.4,585.6 L289.9,586.1 L291.4,586.6 L292.9,587.0 L294.4,587.2 L295.9,587.3 L297.4,587.3 L298.9,587.1 L300.4,586.8 L301.9,586.4 L303.4,586.0 L305.0,585.6 L306.5,585.2 L308.0,584.8 L309.5,584.4 L311.0,584.0 L312.5,583.6 L314.0,583.2 L315.5,582.8 L317.0,582.3 L318.5,581.7 L320.0,581.0 L321.5,580.3 L323.0,579.3 L324.5,578.2 L326.0,576.8 L327.5,575.2 L329.0,573.4 L330.5,571.5 L332.0,569.5 L333.5,567.4 L335.0,565.3 L336.5,563.1 L338.0,561.0 L339.5,559.0 L341.0,557.0 L342.5,555.0 L344.0,553.1 L345.5,551.3 L347.0,549.4 L348.5,547.5 L350.0,545.6 L351.5,543.7 L353.0,541.7 L354.5,539.8 L356.0,537.8 L357.5,535.8 L359.0,533.8 L360.5,531.7 L362.0,529.6 L363.5,527.4 L365.0,525.3 L366.5,523.0 L368.0,520.7 L369.5,518.4 L371.0,516.0 L372.5,513.5 L374.0,511.0 L375.5,508.4 L377.0,505.6 L378.5,502.8 L380.0,499.8 L381.5,496.6 L383.0,493.1 L384.5,489.2 L386.0,485.0 L387.5,480.5 L389.0,475.7 L390.5,470.7 L392.0,465.6 L393.5,460.4 L395.1,455.0 L396.6,449.3 L398.1,443.6 L399.6,437.6 L401.1,431.6 L402.6,425.4 L404.1,419.2 L405.6,412.8 L407.1,406.3 L408.6,399.8 L410.1,393.2 L411.6,386.7 L413.1,380.2 L414.6,373.9 L416.1,367.7 L417.6,361.6 L419.1,355.6 L420.6,349.7 L422.1,343.9 L423.6,338.2 L425.1,332.6 L426.6,327.1 L428.1,321.9 L429.6,317.0 L431.1,312.5 L432.6,308.4 L434.1,304.5 L435.6,300.8 L437.1,297.3 L438.6,294.1 L440.1,291.5 L441.6,289.4 L443.1,287.8 L444.6,286.6 L446.1,285.8 L447.6,285.6 L449.1,285.7 L450.6,286.2 L452.1,287.1 L453.6,288.3 L455.1,289.8 L456.6,291.7 L458.1,293.9 L459.6,296.5 L461.1,299.4 L462.6,302.7 L464.1,306.2 L465.6,309.7 L467.1,313.0 L468.6,316.1 L470.1,319.1 L471.6,322.1 L473.1,325.1 L474.6,328.2 L476.1,331.4 L477.6,334.8 L479.1,338.4 L480.6,342.0 L482.1,345.7 L483.7,349.5 L485.2,353.2 L486.7,357.0 L488.2,360.7 L489.7,364.3 L491.2,368.0 L492.7,371.7 L494.2,375.6 L495.7,379.5 L497.2,383.6 L498.7,388.0 L500.2,392.8 L501.7,397.9 L503.2,403.3 L504.7,408.9 L506.2,414.5 L507.7,420.1 L509.2,425.7 L510.7,431.0 L512.2,436.3 L513.7,441.2 L515.2,445.8 L516.7,450.0 L518.2,453.9 L519.7,457.6 L521.2,461.3 L522.7,465.3 L524.2,469.8 L525.7,474.9 L527.2,480.4 L528.7,486.2 L530.2,492.2 L531.7,498.2 L533.2,504.0 L534.7,509.6 L536.2,515.0 L537.7,520.2 L539.2,525.4 L540.7,530.4 L542.2,535.3 L543.7,540.1 L545.2,544.8 L546.7,549.5 L548.2,554.5 L549.7,559.8 L551.2,565.6 L552.7,571.6 L554.2,577.8 L555.7,584.0 L557.2,590.2 L558.7,596.4 L560.2,602.5 L561.7,608.5 L563.2,614.4 L564.7,620.0 L566.2,625.2 L567.7,630.1 L569.2,634.7 L570.7,639.0 L572.2,643.1 L573.8,647.0 L575.3,650.7 L576.8,654.3 L578.3,657.6 L579.8,660.8 L581.3,663.8 L582.8,666.5 L584.3,669.0 L585.8,671.4 L587.3,673.7 L588.8,675.8 L590.3,677.9 L591.8,680.0 L593.3,681.9 L594.8,683.7 L596.3,685.4 L597.8,686.9 L599.3,688.3 L600.8,689.5 L602.3,690.6 L603.8,691.6 L605.3,692.5 L606.8,693.5 L608.3,694.3 L609.8,695.1 L611.3,695.9 L612.8,696.6 L614.3,697.1 L615.8,697.6 L617.3,698.0 L618.8,698.4 L620.3,698.7 L621.8,699.0 L623.3,699.2 L624.8,699.5 L626.3,699.7 L627.8,699.8 L629.3,699.8 L630.8,699.8 L632.3,699.7 L633.8,699.5 L635.3,699.2 L636.8,698.9 L638.3,698.5 L639.8,698.0 L641.3,697.5 L642.8,697.0 L644.3,696.5 L645.8,696.1 L647.3,695.6 L648.8,695.2 L650.3,694.8 L651.8,694.4 L653.3,694.1 L654.8,693.8 L656.3,693.6 L657.8,693.5 L659.3,693.5 L660.8,693.6 L662.3,693.9 L663.9,694.3 L665.4,694.9 L666.9,695.6 L668.4,696.3 L669.9,697.2 L671.4,698.0 L672.9,698.9 L674.4,699.8 L675.9,700.7 L677.4,701.7 L678.9,702.7 L680.4,703.7 L681.9,704.8 L683.4,705.9 L684.9,707.0 L686.4,708.1 L687.9,709.2 L689.4,710.2 L690.9,711.2 L692.4,712.1 L693.9,713.1 L695.4,714.0 L696.9,714.9 L698.4,715.8 L699.9,716.7 L701.4,717.6 L702.9,718.4 L704.4,719.2 L705.9,719.8 L707.4,720.3 L707.4,755.6Z" fill="#C77CFF" fill-opacity="0.25" stroke="#000" stroke-width="2.4" stroke-linejoin="round"/>
<path d="M169.8,755.6 L169.8,677.1 L171.3,675.7 L172.8,673.9 L174.3,671.8 L175.8,669.7 L177.3,667.5 L178.8,665.3 L180.3,663.2 L181.8,661.0 L183.3,658.8 L184.8,656.7 L186.3,654.5 L187.8,652.4 L189.3,650.2 L190.8,648.0 L192.3,645.9 L193.8,643.9 L195.3,641.9 L196.8,639.9 L198.3,638.0 L199.8,636.1 L201.3,634.3 L202.8,632.5 L204.3,630.8 L205.8,629.0 L207.3,627.3 L208.8,625.7 L210.3,624.0 L211.8,622.4 L213.3,620.8 L214.9,619.3 L216.4,617.7 L217.9,616.2 L219.4,614.7 L220.9,613.2 L222.4,611.8 L223.9,610.3 L225.4,608.9 L226.9,607.5 L228.4,606.0 L229.9,604.6 L231.4,603.1 L232.9,601.7 L234.4,600.2 L235.9,598.8 L237.4,597.4 L238.9,596.0 L240.4,594.7 L241.9,593.5 L243.4,592.4 L244.9,591.4 L246.4,590.5 L247.9,589.6 L249.4,588.9 L250.9,588.3 L252.4,587.7 L253.9,587.2 L255.4,586.8 L256.9,586.4 L258.4,586.2 L259.9,586.2 L261.4,586.2 L262.9,586.4 L264.4,586.6 L265.9,587.0 L267.4,587.4 L268.9,587.9 L270.4,588.5 L271.9,589.1 L273.4,589.8 L274.9,590.6 L276.4,591.4 L277.9,592.3 L279.4,593.3 L280.9,594.2 L282.4,595.0 L283.9,595.7 L285.4,596.4 L286.9,597.0 L288.4,597.5 L289.9,598.0 L291.4,598.4 L292.9,598.8 L294.4,599.0 L295.9,599.1 L297.4,599.1 L298.9,598.9 L300.4,598.6 L301.9,598.2 L303.4,597.7 L305.0,597.2 L306.5,596.6 L308.0,595.9 L309.5,595.1 L311.0,594.1 L312.5,593.1 L314.0,592.0 L315.5,590.9 L317.0,589.6 L318.5,588.3 L320.0,586.9 L321.5,585.4 L323.0,583.8 L324.5,582.2 L326.0,580.4 L327.5,578.7 L329.0,576.9 L330.5,575.0 L332.0,573.1 L333.5,571.1 L335.0,569.1 L336.5,567.1 L338.0,565.1 L339.5,563.0 L341.0,561.0 L342.5,558.8 L344.0,556.6 L345.5,554.4 L347.0,552.0 L348.5,549.6 L350.0,547.2 L351.5,544.7 L353.0,542.2 L354.5,539.7 L356.0,537.1 L357.5,534.6 L359.0,532.1 L360.5,529.7 L362.0,527.3 L363.5,524.9 L365.0,522.5 L366.5,520.1 L368.0,517.8 L369.5,515.3 L371.0,512.9 L372.5,510.4 L374.0,507.8 L375.5,505.1 L377.0,502.3 L378.5,499.4 L380.0,496.3 L381.5,492.9 L383.0,489.1 L384.5,485.0 L386.0,480.4 L387.5,475.6 L389.0,470.5 L390.5,465.3 L392.0,459.9 L393.5,454.5 L395.1,449.0 L396.6,443.3 L398.1,437.5 L399.6,431.5 L401.1,425.3 L402.6,418.8 L404.1,412.2 L405.6,405.2 L407.1,398.0 L408.6,390.6 L410.1,383.0 L411.6,375.3 L413.1,367.6 L414.6,359.9 L416.1,352.0 L417.6,343.9 L419.1,335.4 L420.6,326.5 L422.1,317.2 L423.6,307.9 L425.1,298.9 L426.6,290.6 L428.1,283.3 L429.6,277.2 L431.1,272.3 L432.6,268.7 L434.1,266.2 L435.6,264.6 L437.1,263.8 L438.6,263.8 L440.1,264.4 L441.6,265.8 L443.1,267.8 L444.6,270.5 L446.1,273.9 L447.6,278.2 L449.1,283.0 L450.6,288.5 L452.1,294.2 L453.6,300.2 L455.1,306.3 L456.6,312.4 L458.1,318.6 L459.6,324.8 L461.1,331.2 L462.6,337.9 L464.1,345.1 L465.6,352.6 L467.1,360.5 L468.6,368.5 L470.1,376.7 L471.6,384.7 L473.1,392.6 L474.6,400.2 L476.1,407.3 L477.6,414.0 L479.1,420.0 L480.6,425.3 L482.1,429.8 L483.7,433.9 L485.2,437.7 L486.7,441.4 L488.2,445.3 L489.7,449.4 L491.2,453.7 L492.7,458.2 L494.2,462.6 L495.7,467.0 L497.2,471.4 L498.7,475.6 L500.2,479.6 L501.7,483.6 L503.2,487.3 L504.7,490.7 L506.2,493.8 L507.7,496.6 L509.2,499.0 L510.7,501.3 L512.2,503.5 L513.7,505.7 L515.2,507.9 L516.7,510.2 L518.2,512.5 L519.7,514.8 L521.2,517.2 L522.7,519.6 L524.2,522.0 L525.7,524.5 L527.2,526.9 L528.7,529.5 L530.2,532.0 L531.7,534.5 L533.2,537.1 L534.7,539.6 L536.2,542.2 L537.7,544.8 L539.2,547.5 L540.7,550.5 L542.2,553.7 L543.7,557.3 L545.2,561.2 L546.7,565.4 L548.2,569.6 L549.7,573.7 L551.2,577.4 L552.7,580.8 L554.2,583.9 L555.7,586.8 L557.2,589.4 L558.7,591.9 L560.2,594.2 L561.7,596.3 L563.2,598.2 L564.7,599.9 L566.2,601.5 L567.7,602.9 L569.2,604.3 L570.7,605.6 L572.2,606.8 L573.8,608.0 L575.3,609.2 L576.8,610.3 L578.3,611.4 L579.8,612.4 L581.3,613.4 L582.8,614.4 L584.3,615.3 L585.8,616.2 L587.3,617.1 L588.8,618.0 L590.3,618.9 L591.8,619.8 L593.3,620.7 L594.8,621.5 L596.3,622.4 L597.8,623.2 L599.3,624.0 L600.8,624.8 L602.3,625.6 L603.8,626.3 L605.3,627.1 L606.8,627.8 L608.3,628.4 L609.8,629.1 L611.3,629.8 L612.8,630.6 L614.3,631.4 L615.8,632.2 L617.3,633.1 L618.8,634.1 L620.3,635.1 L621.8,636.2 L623.3,637.4 L624.8,638.6 L626.3,639.9 L627.8,641.2 L629.3,642.4 L630.8,643.7 L632.3,645.0 L633.8,646.4 L635.3,647.7 L636.8,649.1 L638.3,650.5 L639.8,651.9 L641.3,653.4 L642.8,654.8 L644.3,656.1 L645.8,657.4 L647.3,658.6 L648.8,659.7 L650.3,660.6 L651.8,661.5 L653.3,662.4 L654.8,663.2 L656.3,663.9 L657.8,664.6 L659.3,665.2 L660.8,665.8 L662.3,666.2 L663.9,666.7 L665.4,667.0 L666.9,667.3 L668.4,667.5 L669.9,667.6 L671.4,667.8 L672.9,667.9 L674.4,668.0 L675.9,668.1 L677.4,668.2 L678.9,668.4 L680.4,668.5 L681.9,668.7 L683.4,669.0 L684.9,669.2 L686.4,669.5 L687.9,669.7 L689.4,670.0 L690.9,670.3 L692.4,670.6 L693.9,670.9 L695.4,671.2 L696.9,671.5 L698.4,671.8 L699.9,672.1 L701.4,672.5 L702.9,672.8 L704.4,673.1 L705.9,673.4 L707.4,673.6 L707.4,755.6Z" fill="#FF61CC" fill-opacity="0.25" stroke="#000" stroke-width="2.4" stroke-linejoin="round"/>
<rect x="142.7" y="59.0" width="590.8" height="730.2" fill="none" stroke="#2b2b2b" stroke-width="2.7"/>
<line x1="169.8" y1="789.2" x2="169.8" y2="793.7" stroke="#2b2b2b" stroke-width="1.6"/>
<text x="169.8" y="826.7" text-anchor="middle" font-size="32.5" font-weight="bold" fill="#4d4d4d">−6</text>
<line x1="259.4" y1="789.2" x2="259.4" y2="793.7" stroke="#2b2b2b" stroke-width="1.6"/>
<text x="259.4" y="826.7" text-anchor="middle" font-size="32.5" font-weight="bold" fill="#4d4d4d">−4</text>
<line x1="349.0" y1="789.2" x2="349.0" y2="793.7" stroke="#2b2b2b" stroke-width="1.6"/>
<text x="349.0" y="826.7" text-anchor="middle" font-size="32.5" font-weight="bold" fill="#4d4d4d">−2</text>
<line x1="438.6" y1="789.2" x2="438.6" y2="793.7" stroke="#2b2b2b" stroke-width="1.6"/>
<text x="438.6" y="826.7" text-anchor="middle" font-size="32.5" font-weight="bold" fill="#4d4d4d">0</text>
<line x1="528.2" y1="789.2" x2="528.2" y2="793.7" stroke="#2b2b2b" stroke-width="1.6"/>
<text x="528.2" y="826.7" text-anchor="middle" font-size="32.5" font-weight="bold" fill="#4d4d4d">2</text>
<line x1="617.8" y1="789.2" x2="617.8" y2="793.7" stroke="#2b2b2b" stroke-width="1.6"/>
<text x="617.8" y="826.7" text-anchor="middle" font-size="32.5" font-weight="bold" fill="#4d4d4d">4</text>
<line x1="707.4" y1="789.2" x2="707.4" y2="793.7" stroke="#2b2b2b" stroke-width="1.6"/>
<text x="707.4" y="826.7" text-anchor="middle" font-size="32.5" font-weight="bold" fill="#4d4d4d">6</text>
<line x1="138.2" y1="755.6" x2="142.7" y2="755.6" stroke="#2b2b2b" stroke-width="1.6"/>
<text x="113.0" y="767.9" text-anchor="end" font-size="32.5" font-weight="bold" fill="#4d4d4d">0.00</text>
<line x1="138.2" y1="627.9" x2="142.7" y2="627.9" stroke="#2b2b2b" stroke-width="1.6"/>
<text x="113.0" y="640.2" text-anchor="end" font-size="32.5" font-weight="bold" fill="#4d4d4d">0.05</text>
<line x1="138.2" y1="500.2" x2="142.7" y2="500.2" stroke="#2b2b2b" stroke-width="1.6"/>
<text x="113.0" y="512.5" text-anchor="end" font-size="32.5" font-weight="bold" fill="#4d4d4d">0.10</text>
<line x1="138.2" y1="372.5" x2="142.7" y2="372.5" stroke="#2b2b2b" stroke-width="1.6"/>
<text x="113.0" y="384.8" text-anchor="end" font-size="32.5" font-weight="bold" fill="#4d4d4d">0.15</text>
<line x1="138.2" y1="244.8" x2="142.7" y2="244.8" stroke="#2b2b2b" stroke-width="1.6"/>
<text x="113.0" y="257.1" text-anchor="end" font-size="32.5" font-weight="bold" fill="#4d4d4d">0.20</text>
<line x1="138.2" y1="117.1" x2="142.7" y2="117.1" stroke="#2b2b2b" stroke-width="1.6"/>
<text x="113.0" y="129.4" text-anchor="end" font-size="32.5" font-weight="bold" fill="#4d4d4d">0.25</text>
<line x1="782.9" y1="59.0" x2="782.9" y2="789.2" stroke="#ebebeb" stroke-width="1.5"/>
<line x1="827.9" y1="59.0" x2="827.9" y2="789.2" stroke="#ebebeb" stroke-width="1.5"/>
<line x1="872.9" y1="59.0" x2="872.9" y2="789.2" stroke="#ebebeb" stroke-width="1.5"/>
<line x1="917.9" y1="59.0" x2="917.9" y2="789.2" stroke="#ebebeb" stroke-width="1.5"/>
<line x1="962.9" y1="59.0" x2="962.9" y2="789.2" stroke="#ebebeb" stroke-width="1.5"/>
<line x1="1007.9" y1="59.0" x2="1007.9" y2="789.2" stroke="#ebebeb" stroke-width="1.5"/>
<line x1="1052.9" y1="59.0" x2="1052.9" y2="789.2" stroke="#ebebeb" stroke-width="1.5"/>
<line x1="1097.9" y1="59.0" x2="1097.9" y2="789.2" stroke="#ebebeb" stroke-width="1.5"/>
<line x1="1142.9" y1="59.0" x2="1142.9" y2="789.2" stroke="#ebebeb" stroke-width="1.5"/>
<line x1="1187.9" y1="59.0" x2="1187.9" y2="789.2" stroke="#ebebeb" stroke-width="1.5"/>
<line x1="1232.9" y1="59.0" x2="1232.9" y2="789.2" stroke="#ebebeb" stroke-width="1.5"/>
<line x1="1277.9" y1="59.0" x2="1277.9" y2="789.2" stroke="#ebebeb" stroke-width="1.5"/>
<line x1="1322.9" y1="59.0" x2="1322.9" y2="789.2" stroke="#ebebeb" stroke-width="1.5"/>
<line x1="755.6" y1="755.6" x2="1350.3" y2="755.6" stroke="#ebebeb" stroke-width="1.5"/>
<line x1="755.6" y1="692.1" x2="1350.3" y2="692.1" stroke="#ebebeb" stroke-width="1.5"/>
<line x1="755.6" y1="628.5" x2="1350.3" y2="628.5" stroke="#ebebeb" stroke-width="1.5"/>
<line x1="755.6" y1="565.0" x2="1350.3" y2="565.0" stroke="#ebebeb" stroke-width="1.5"/>
<line x1="755.6" y1="501.5" x2="1350.3" y2="501.5" stroke="#ebebeb" stroke-width="1.5"/>
<line x1="755.6" y1="438.0" x2="1350.3" y2="438.0" stroke="#ebebeb" stroke-width="1.5"/>
<line x1="755.6" y1="374.4" x2="1350.3" y2="374.4" stroke="#ebebeb" stroke-width="1.5"/>
<line x1="755.6" y1="310.9" x2="1350.3" y2="310.9" stroke="#ebebeb" stroke-width="1.5"/>
<line x1="755.6" y1="247.4" x2="1350.3" y2="247.4" stroke="#ebebeb" stroke-width="1.5"/>
<line x1="755.6" y1="183.9" x2="1350.3" y2="183.9" stroke="#ebebeb" stroke-width="1.5"/>
<line x1="755.6" y1="120.4" x2="1350.3" y2="120.4" stroke="#ebebeb" stroke-width="1.5"/>
<rect x="1007.9" y="63.2" width="90.0" height="692.4" fill="#000" fill-opacity="0.065"/>
<rect x="1097.9" y="63.2" width="225.0" height="692.4" fill="#000" fill-opacity="0.140"/>
<path d="M782.9,755.6 L782.9,556.4 L784.4,553.7 L785.9,550.3 L787.4,546.5 L788.9,542.8 L790.4,539.3 L791.9,536.1 L793.4,533.3 L794.9,530.8 L796.4,528.5 L797.9,526.4 L799.4,524.4 L800.9,522.6 L802.4,520.8 L803.9,519.0 L805.4,517.2 L806.9,515.4 L808.4,513.4 L809.9,511.3 L811.4,509.0 L812.9,506.4 L814.4,503.7 L815.9,500.6 L817.4,497.4 L818.9,493.9 L820.4,490.3 L821.9,486.6 L823.4,482.9 L824.9,479.2 L826.4,475.5 L827.9,472.0 L829.4,468.5 L830.9,465.2 L832.4,461.9 L833.9,458.6 L835.4,455.4 L836.9,452.2 L838.4,449.0 L839.9,445.9 L841.4,442.7 L842.9,439.6 L844.4,436.4 L845.9,433.2 L847.4,430.0 L848.9,426.7 L850.4,423.5 L851.9,420.1 L853.4,416.8 L854.9,413.4 L856.4,410.0 L857.9,406.6 L859.4,403.2 L860.9,399.7 L862.4,396.4 L863.9,393.0 L865.4,389.7 L866.9,386.4 L868.4,383.2 L869.9,380.1 L871.4,377.0 L872.9,374.0 L874.4,371.0 L875.9,368.1 L877.4,365.3 L878.9,362.4 L880.4,359.6 L881.9,356.8 L883.4,354.0 L884.9,351.1 L886.4,348.3 L887.9,345.4 L889.4,342.5 L890.9,339.6 L892.4,336.6 L893.9,333.5 L895.4,330.4 L896.9,327.3 L898.4,324.2 L899.9,321.0 L901.4,317.9 L902.9,314.9 L904.4,311.9 L905.9,309.0 L907.4,306.1 L908.9,303.3 L910.4,300.7 L911.9,298.0 L913.4,295.4 L914.9,292.9 L916.4,290.4 L917.9,288.0 L919.4,285.6 L920.9,283.3 L922.4,281.1 L923.9,278.9 L925.4,276.7 L926.9,274.7 L928.4,272.6 L929.9,270.6 L931.4,268.6 L932.9,266.6 L934.4,264.7 L935.9,262.8 L937.4,261.1 L938.9,259.4 L940.4,257.9 L941.9,256.5 L943.4,255.2 L944.9,254.0 L946.4,252.9 L947.9,252.0 L949.4,251.1 L950.9,250.5 L952.4,249.9 L953.9,249.6 L955.4,249.5 L956.9,249.7 L958.4,250.1 L959.9,250.8 L961.4,251.7 L962.9,252.9 L964.4,254.3 L965.9,256.0 L967.4,258.2 L968.9,260.8 L970.4,263.9 L971.9,267.3 L973.4,270.8 L974.9,274.5 L976.4,278.2 L977.9,282.1 L979.4,286.1 L980.9,290.1 L982.4,294.2 L983.9,298.3 L985.4,302.3 L986.9,306.2 L988.4,309.9 L989.9,313.5 L991.4,316.9 L992.9,320.3 L994.4,323.6 L995.9,326.9 L997.4,330.0 L998.9,333.2 L1000.4,336.3 L1001.9,339.4 L1003.4,342.4 L1004.9,345.3 L1006.4,348.3 L1007.9,351.2 L1009.4,354.1 L1010.9,357.0 L1012.4,360.0 L1013.9,363.1 L1015.4,366.3 L1016.9,369.5 L1018.4,372.9 L1019.9,376.4 L1021.4,380.1 L1022.9,383.8 L1024.4,387.6 L1025.9,391.5 L1027.4,395.5 L1028.9,399.6 L1030.4,403.8 L1031.9,408.0 L1033.4,412.3 L1034.9,416.8 L1036.4,421.3 L1037.9,426.0 L1039.4,430.7 L1040.9,435.6 L1042.4,440.5 L1043.9,445.5 L1045.4,450.6 L1046.9,455.7 L1048.4,461.0 L1049.9,466.2 L1051.4,471.6 L1052.9,477.1 L1054.4,482.6 L1055.9,488.2 L1057.4,493.9 L1058.9,499.5 L1060.4,505.2 L1061.9,510.8 L1063.4,516.4 L1064.9,522.0 L1066.4,527.5 L1067.9,533.0 L1069.4,538.5 L1070.9,544.0 L1072.4,549.7 L1073.9,555.6 L1075.4,561.6 L1076.9,567.9 L1078.4,574.4 L1079.9,581.0 L1081.4,587.8 L1082.9,594.7 L1084.4,601.6 L1085.9,608.4 L1087.4,615.2 L1088.9,621.9 L1090.4,628.4 L1091.9,634.8 L1093.4,641.1 L1094.9,647.4 L1096.4,653.6 L1097.9,659.8 L1099.4,665.9 L1100.9,671.8 L1102.4,677.5 L1103.9,683.0 L1105.4,688.2 L1106.9,693.0 L1108.4,697.5 L1109.9,701.7 L1111.4,705.8 L1112.9,709.8 L1114.4,713.6 L1115.9,717.4 L1117.4,721.0 L1118.9,724.5 L1120.4,727.8 L1121.9,730.9 L1123.4,733.8 L1124.9,736.4 L1126.4,738.6 L1127.9,740.5 L1129.4,742.1 L1130.9,743.3 L1132.4,744.3 L1133.9,745.1 L1135.4,745.9 L1136.9,746.6 L1138.4,747.2 L1139.9,747.9 L1141.4,748.5 L1142.9,749.1 L1144.4,749.7 L1145.9,750.3 L1147.4,750.8 L1148.9,751.4 L1150.4,751.8 L1151.9,752.3 L1153.4,752.7 L1154.9,753.1 L1156.4,753.5 L1157.9,753.8 L1159.4,754.1 L1160.9,754.3 L1162.4,754.5 L1163.9,754.7 L1165.4,754.8 L1166.9,754.9 L1168.4,755.0 L1169.9,755.1 L1171.4,755.1 L1172.9,755.2 L1174.4,755.3 L1175.9,755.4 L1177.4,755.4 L1178.9,755.5 L1180.4,755.6 L1181.9,755.6 L1183.4,755.6 L1184.9,755.6 L1186.4,755.6 L1187.9,755.6 L1189.4,755.6 L1190.9,755.6 L1192.4,755.6 L1193.9,755.6 L1195.4,755.6 L1196.9,755.6 L1198.4,755.6 L1199.9,755.6 L1201.4,755.6 L1202.9,755.6 L1204.4,755.6 L1205.9,755.6 L1207.4,755.6 L1208.9,755.6 L1210.4,755.6 L1211.9,755.6 L1213.4,755.6 L1214.9,755.6 L1216.4,755.6 L1217.9,755.6 L1219.4,755.6 L1220.9,755.6 L1222.4,755.6 L1223.9,755.6 L1225.4,755.6 L1226.9,755.6 L1228.4,755.6 L1229.9,755.6 L1231.4,755.6 L1232.9,755.6 L1234.4,755.6 L1235.9,755.6 L1237.4,755.6 L1238.9,755.6 L1240.4,755.6 L1241.9,755.6 L1243.4,755.6 L1244.9,755.6 L1246.4,755.6 L1247.9,755.6 L1249.4,755.6 L1250.9,755.6 L1252.4,755.6 L1253.9,755.6 L1255.4,755.6 L1256.9,755.6 L1258.4,755.6 L1259.9,755.6 L1261.4,755.6 L1262.9,755.6 L1264.4,755.6 L1265.9,755.6 L1267.4,755.6 L1268.9,755.6 L1270.4,755.6 L1271.9,755.6 L1273.4,755.6 L1274.9,755.6 L1276.4,755.6 L1277.9,755.6 L1279.4,755.6 L1280.9,755.6 L1282.4,755.6 L1283.9,755.6 L1285.4,755.6 L1286.9,755.6 L1288.4,755.6 L1289.9,755.6 L1291.4,755.6 L1292.9,755.6 L1294.4,755.6 L1295.9,755.6 L1297.4,755.6 L1298.9,755.6 L1300.4,755.6 L1301.9,755.6 L1303.4,755.6 L1304.9,755.6 L1306.4,755.6 L1307.9,755.6 L1309.4,755.6 L1310.9,755.6 L1312.4,755.6 L1313.9,755.6 L1315.4,755.6 L1316.9,755.6 L1318.4,755.6 L1319.9,755.6 L1321.4,755.6 L1322.9,755.6 L1322.9,755.6Z" fill="#F8766D" fill-opacity="0.25" stroke="#000" stroke-width="2.4" stroke-linejoin="round"/>
<path d="M782.9,755.6 L782.9,750.3 L784.4,750.0 L785.9,749.7 L787.4,749.3 L788.9,748.9 L790.4,748.5 L791.9,748.1 L793.4,747.7 L794.9,747.2 L796.4,746.7 L797.9,746.3 L799.4,745.8 L800.9,745.3 L802.4,744.8 L803.9,744.3 L805.4,743.8 L806.9,743.3 L808.4,742.8 L809.9,742.2 L811.4,741.7 L812.9,741.1 L814.4,740.6 L815.9,740.0 L817.4,739.4 L818.9,738.8 L820.4,738.2 L821.9,737.6 L823.4,737.0 L824.9,736.4 L826.4,735.7 L827.9,735.1 L829.4,734.5 L830.9,733.9 L832.4,733.3 L833.9,732.6 L835.4,732.0 L836.9,731.4 L838.4,730.9 L839.9,730.3 L841.4,729.7 L842.9,729.1 L844.4,728.6 L845.9,728.0 L847.4,727.5 L848.9,727.0 L850.4,726.5 L851.9,725.9 L853.4,725.4 L854.9,724.9 L856.4,724.4 L857.9,723.9 L859.4,723.4 L860.9,723.0 L862.4,722.5 L863.9,722.0 L865.4,721.5 L866.9,721.0 L868.4,720.5 L869.9,720.0 L871.4,719.5 L872.9,719.0 L874.4,718.5 L875.9,718.0 L877.4,717.5 L878.9,716.9 L880.4,716.4 L881.9,715.9 L883.4,715.3 L884.9,714.7 L886.4,714.1 L887.9,713.5 L889.4,712.8 L890.9,712.1 L892.4,711.3 L893.9,710.5 L895.4,709.6 L896.9,708.6 L898.4,707.7 L899.9,706.6 L901.4,705.6 L902.9,704.5 L904.4,703.3 L905.9,702.1 L907.4,700.8 L908.9,699.4 L910.4,697.8 L911.9,695.9 L913.4,693.7 L914.9,691.2 L916.4,688.4 L917.9,685.4 L919.4,682.2 L920.9,678.8 L922.4,675.3 L923.9,671.7 L925.4,667.9 L926.9,663.9 L928.4,659.7 L929.9,655.1 L931.4,650.1 L932.9,644.9 L934.4,639.4 L935.9,633.7 L937.4,627.8 L938.9,621.8 L940.4,615.6 L941.9,609.1 L943.4,602.5 L944.9,595.6 L946.4,588.5 L947.9,581.3 L949.4,574.0 L950.9,566.8 L952.4,559.6 L953.9,552.6 L955.4,545.6 L956.9,538.8 L958.4,532.1 L959.9,525.4 L961.4,518.6 L962.9,511.6 L964.4,504.3 L965.9,496.8 L967.4,488.7 L968.9,480.3 L970.4,471.3 L971.9,462.0 L973.4,452.5 L974.9,442.9 L976.4,433.6 L977.9,424.7 L979.4,416.2 L980.9,408.0 L982.4,400.2 L983.9,392.7 L985.4,385.6 L986.9,378.8 L988.4,372.3 L989.9,366.0 L991.4,359.9 L992.9,354.0 L994.4,348.2 L995.9,342.6 L997.4,337.1 L998.9,331.7 L1000.4,326.3 L1001.9,321.1 L1003.4,315.9 L1004.9,310.8 L1006.4,305.8 L1007.9,300.9 L1009.4,296.2 L1010.9,291.6 L1012.4,287.1 L1013.9,282.7 L1015.4,278.4 L1016.9,274.1 L1018.4,269.9 L1019.9,265.9 L1021.4,262.0 L1022.9,258.2 L1024.4,254.7 L1025.9,251.4 L1027.4,248.3 L1028.9,245.4 L1030.4,242.7 L1031.9,240.0 L1033.4,237.5 L1034.9,235.0 L1036.4,232.7 L1037.9,230.6 L1039.4,228.6 L1040.9,226.9 L1042.4,225.5 L1043.9,224.3 L1045.4,223.5 L1046.9,223.0 L1048.4,222.9 L1049.9,223.2 L1051.4,223.8 L1052.9,224.8 L1054.4,226.2 L1055.9,227.8 L1057.4,229.6 L1058.9,231.6 L1060.4,233.9 L1061.9,236.3 L1063.4,239.1 L1064.9,242.2 L1066.4,245.7 L1067.9,249.6 L1069.4,253.8 L1070.9,258.3 L1072.4,262.9 L1073.9,267.7 L1075.4,272.5 L1076.9,277.4 L1078.4,282.3 L1079.9,287.3 L1081.4,292.4 L1082.9,297.6 L1084.4,302.9 L1085.9,308.3 L1087.4,313.8 L1088.9,319.4 L1090.4,325.1 L1091.9,330.9 L1093.4,336.9 L1094.9,343.0 L1096.4,349.3 L1097.9,355.8 L1099.4,362.4 L1100.9,369.1 L1102.4,375.7 L1103.9,382.3 L1105.4,388.7 L1106.9,395.0 L1108.4,401.0 L1109.9,406.7 L1111.4,412.3 L1112.9,417.7 L1114.4,423.0 L1115.9,428.1 L1117.4,433.1 L1118.9,437.9 L1120.4,442.5 L1121.9,447.0 L1123.4,451.4 L1124.9,455.7 L1126.4,459.8 L1127.9,463.9 L1129.4,467.9 L1130.9,471.7 L1132.4,475.4 L1133.9,478.8 L1135.4,482.0 L1136.9,484.9 L1138.4,487.7 L1139.9,490.3 L1141.4,492.8 L1142.9,495.3 L1144.4,497.6 L1145.9,499.9 L1147.4,502.1 L1148.9,504.3 L1150.4,506.3 L1151.9,508.4 L1153.4,510.3 L1154.9,512.3 L1156.4,514.2 L1157.9,516.0 L1159.4,517.8 L1160.9,519.6 L1162.4,521.3 L1163.9,523.1 L1165.4,524.8 L1166.9,526.5 L1168.4,528.1 L1169.9,529.8 L1171.4,531.4 L1172.9,533.1 L1174.4,534.7 L1175.9,536.4 L1177.4,538.0 L1178.9,539.6 L1180.4,541.2 L1181.9,542.8 L1183.4,544.3 L1184.9,545.9 L1186.4,547.4 L1187.9,548.9 L1189.4,550.5 L1190.9,552.0 L1192.4,553.5 L1193.9,555.1 L1195.4,556.7 L1196.9,558.3 L1198.4,559.9 L1199.9,561.6 L1201.4,563.3 L1202.9,565.0 L1204.4,566.7 L1205.9,568.5 L1207.4,570.3 L1208.9,572.1 L1210.4,573.9 L1211.9,575.8 L1213.4,577.7 L1214.9,579.6 L1216.4,581.5 L1217.9,583.5 L1219.4,585.6 L1220.9,587.6 L1222.4,589.8 L1223.9,591.9 L1225.4,594.1 L1226.9,596.4 L1228.4,598.7 L1229.9,601.1 L1231.4,603.6 L1232.9,606.2 L1234.4,608.9 L1235.9,611.8 L1237.4,614.8 L1238.9,618.0 L1240.4,621.3 L1241.9,624.7 L1243.4,628.3 L1244.9,631.9 L1246.4,635.5 L1247.9,639.2 L1249.4,643.0 L1250.9,646.7 L1252.4,650.5 L1253.9,654.4 L1255.4,658.4 L1256.9,662.5 L1258.4,666.8 L1259.9,671.2 L1261.4,675.7 L1262.9,680.2 L1264.4,684.7 L1265.9,689.1 L1267.4,693.3 L1268.9,697.4 L1270.4,701.2 L1271.9,704.7 L1273.4,707.9 L1274.9,710.8 L1276.4,713.4 L1277.9,715.9 L1279.4,718.2 L1280.9,720.5 L1282.4,722.6 L1283.9,724.6 L1285.4,726.4 L1286.9,728.2 L1288.4,729.8 L1289.9,731.3 L1291.4,732.7 L1292.9,734.0 L1294.4,735.1 L1295.9,736.2 L1297.4,737.1 L1298.9,738.0 L1300.4,738.9 L1301.9,739.8 L1303.4,740.7 L1304.9,741.6 L1306.4,742.4 L1307.9,743.2 L1309.4,744.0 L1310.9,744.7 L1312.4,745.4 L1313.9,746.0 L1315.4,746.6 L1316.9,747.0 L1318.4,747.4 L1319.9,747.7 L1321.4,748.0 L1322.9,748.1 L1322.9,755.6Z" fill="#CD9600" fill-opacity="0.25" stroke="#000" stroke-width="2.4" stroke-linejoin="round"/>
<path d="M782.9,755.6 L782.9,751.7 L784.4,751.7 L785.9,751.6 L787.4,751.5 L788.9,751.4 L790.4,751.3 L791.9,751.1 L793.4,751.0 L794.9,750.9 L796.4,750.8 L797.9,750.7 L799.4,750.6 L800.9,750.5 L802.4,750.4 L803.9,750.3 L805.4,750.2 L806.9,750.1 L808.4,750.0 L809.9,749.9 L811.4,749.8 L812.9,749.7 L814.4,749.6 L815.9,749.5 L817.4,749.4 L818.9,749.3 L820.4,749.2 L821.9,749.1 L823.4,749.0 L824.9,748.9 L826.4,748.8 L827.9,748.7 L829.4,748.6 L830.9,748.4 L832.4,748.2 L833.9,748.0 L835.4,747.8 L836.9,747.5 L838.4,747.1 L839.9,746.8 L841.4,746.4 L842.9,745.9 L844.4,745.5 L845.9,745.0 L847.4,744.6 L848.9,744.1 L850.4,743.6 L851.9,743.1 L853.4,742.6 L854.9,742.0 L856.4,741.4 L857.9,740.7 L859.4,740.0 L860.9,739.2 L862.4,738.3 L863.9,737.4 L865.4,736.5 L866.9,735.5 L868.4,734.5 L869.9,733.5 L871.4,732.4 L872.9,731.3 L874.4,730.2 L875.9,728.9 L877.4,727.6 L878.9,726.2 L880.4,724.6 L881.9,722.9 L883.4,721.1 L884.9,719.2 L886.4,717.2 L887.9,715.2 L889.4,713.0 L890.9,710.8 L892.4,708.4 L893.9,705.9 L895.4,703.3 L896.9,700.4 L898.4,697.4 L899.9,694.3 L901.4,691.0 L902.9,687.7 L904.4,684.3 L905.9,680.7 L907.4,677.1 L908.9,673.4 L910.4,669.6 L911.9,665.9 L913.4,662.2 L914.9,658.7 L916.4,655.3 L917.9,652.0 L919.4,648.8 L920.9,645.4 L922.4,641.7 L923.9,637.5 L925.4,632.6 L926.9,626.5 L928.4,619.1 L929.9,610.2 L931.4,600.1 L932.9,589.0 L934.4,577.0 L935.9,564.6 L937.4,551.9 L938.9,539.1 L940.4,526.0 L941.9,512.3 L943.4,498.1 L944.9,483.5 L946.4,469.4 L947.9,456.3 L949.4,445.2 L950.9,436.2 L952.4,429.4 L953.9,424.2 L955.4,420.1 L956.9,416.5 L958.4,413.4 L959.9,410.6 L961.4,408.0 L962.9,405.6 L964.4,403.3 L965.9,401.0 L967.4,398.8 L968.9,396.5 L970.4,394.2 L971.9,391.9 L973.4,389.5 L974.9,387.2 L976.4,384.8 L977.9,382.5 L979.4,380.1 L980.9,377.8 L982.4,375.5 L983.9,373.3 L985.4,371.1 L986.9,368.9 L988.4,366.8 L989.9,364.8 L991.4,362.8 L992.9,360.8 L994.4,358.8 L995.9,356.9 L997.4,355.0 L998.9,353.1 L1000.4,351.3 L1001.9,349.5 L1003.4,347.8 L1004.9,346.1 L1006.4,344.5 L1007.9,342.9 L1009.4,341.4 L1010.9,339.9 L1012.4,338.4 L1013.9,336.9 L1015.4,335.4 L1016.9,334.0 L1018.4,332.6 L1019.9,331.2 L1021.4,329.8 L1022.9,328.5 L1024.4,327.1 L1025.9,325.8 L1027.4,324.4 L1028.9,323.1 L1030.4,321.8 L1031.9,320.5 L1033.4,319.2 L1034.9,318.0 L1036.4,316.8 L1037.9,315.5 L1039.4,314.3 L1040.9,313.2 L1042.4,312.0 L1043.9,310.8 L1045.4,309.7 L1046.9,308.5 L1048.4,307.4 L1049.9,306.3 L1051.4,305.2 L1052.9,304.1 L1054.4,303.1 L1055.9,302.1 L1057.4,301.1 L1058.9,300.1 L1060.4,299.2 L1061.9,298.3 L1063.4,297.4 L1064.9,296.6 L1066.4,295.8 L1067.9,295.0 L1069.4,294.3 L1070.9,293.6 L1072.4,293.0 L1073.9,292.3 L1075.4,291.8 L1076.9,291.3 L1078.4,290.8 L1079.9,290.4 L1081.4,290.1 L1082.9,289.8 L1084.4,289.7 L1085.9,289.8 L1087.4,290.0 L1088.9,290.5 L1090.4,291.1 L1091.9,291.8 L1093.4,292.8 L1094.9,293.8 L1096.4,294.9 L1097.9,296.2 L1099.4,297.5 L1100.9,298.8 L1102.4,300.2 L1103.9,301.8 L1105.4,303.5 L1106.9,305.4 L1108.4,307.7 L1109.9,310.3 L1111.4,313.1 L1112.9,316.3 L1114.4,319.6 L1115.9,323.0 L1117.4,326.6 L1118.9,330.2 L1120.4,333.8 L1121.9,337.6 L1123.4,341.5 L1124.9,345.7 L1126.4,350.0 L1127.9,354.6 L1129.4,359.3 L1130.9,364.3 L1132.4,369.6 L1133.9,375.2 L1135.4,381.2 L1136.9,387.4 L1138.4,393.8 L1139.9,400.2 L1141.4,406.3 L1142.9,412.1 L1144.4,417.5 L1145.9,422.5 L1147.4,427.1 L1148.9,431.5 L1150.4,435.8 L1151.9,440.1 L1153.4,444.6 L1154.9,449.2 L1156.4,454.1 L1157.9,459.4 L1159.4,464.8 L1160.9,470.4 L1162.4,476.0 L1163.9,481.5 L1165.4,486.9 L1166.9,491.9 L1168.4,496.7 L1169.9,501.0 L1171.4,505.0 L1172.9,508.8 L1174.4,512.4 L1175.9,515.8 L1177.4,519.1 L1178.9,522.2 L1180.4,525.2 L1181.9,528.1 L1183.4,530.8 L1184.9,533.4 L1186.4,535.9 L1187.9,538.2 L1189.4,540.4 L1190.9,542.4 L1192.4,544.2 L1193.9,545.9 L1195.4,547.4 L1196.9,548.8 L1198.4,550.1 L1199.9,551.3 L1201.4,552.4 L1202.9,553.5 L1204.4,554.6 L1205.9,555.7 L1207.4,556.8 L1208.9,558.0 L1210.4,559.3 L1211.9,560.7 L1213.4,562.1 L1214.9,563.8 L1216.4,565.6 L1217.9,567.6 L1219.4,569.8 L1220.9,572.2 L1222.4,574.9 L1223.9,577.9 L1225.4,581.0 L1226.9,584.4 L1228.4,588.0 L1229.9,591.7 L1231.4,595.6 L1232.9,599.5 L1234.4,603.5 L1235.9,607.5 L1237.4,611.6 L1238.9,615.6 L1240.4,619.5 L1241.9,623.4 L1243.4,627.2 L1244.9,631.1 L1246.4,634.9 L1247.9,638.8 L1249.4,642.7 L1250.9,646.5 L1252.4,650.4 L1253.9,654.3 L1255.4,658.1 L1256.9,661.9 L1258.4,665.6 L1259.9,669.3 L1261.4,672.9 L1262.9,676.4 L1264.4,679.8 L1265.9,683.3 L1267.4,686.7 L1268.9,690.1 L1270.4,693.5 L1271.9,696.8 L1273.4,700.0 L1274.9,703.2 L1276.4,706.3 L1277.9,709.2 L1279.4,712.0 L1280.9,714.5 L1282.4,716.9 L1283.9,719.1 L1285.4,721.2 L1286.9,723.1 L1288.4,724.9 L1289.9,726.6 L1291.4,728.3 L1292.9,730.0 L1294.4,731.6 L1295.9,733.2 L1297.4,734.7 L1298.9,736.2 L1300.4,737.7 L1301.9,739.1 L1303.4,740.4 L1304.9,741.7 L1306.4,743.0 L1307.9,744.1 L1309.4,745.2 L1310.9,746.2 L1312.4,747.1 L1313.9,748.0 L1315.4,748.7 L1316.9,749.4 L1318.4,750.0 L1319.9,750.5 L1321.4,750.8 L1322.9,751.1 L1322.9,755.6Z" fill="#7CAE00" fill-opacity="0.25" stroke="#000" stroke-width="2.4" stroke-linejoin="round"/>
<path d="M782.9,755.6 L782.9,744.5 L784.4,743.8 L785.9,742.8 L787.4,741.8 L788.9,740.7 L790.4,739.6 L791.9,738.5 L793.4,737.3 L794.9,736.2 L796.4,735.1 L797.9,734.0 L799.4,732.9 L800.9,731.7 L802.4,730.6 L803.9,729.5 L805.4,728.4 L806.9,727.3 L808.4,726.2 L809.9,725.0 L811.4,723.9 L812.9,722.8 L814.4,721.7 L815.9,720.5 L817.4,719.4 L818.9,718.3 L820.4,717.2 L821.9,716.0 L823.4,714.9 L824.9,713.8 L826.4,712.7 L827.9,711.6 L829.4,710.5 L830.9,709.4 L832.4,708.3 L833.9,707.3 L835.4,706.2 L836.9,705.2 L838.4,704.1 L839.9,703.1 L841.4,702.1 L842.9,701.0 L844.4,700.0 L845.9,698.9 L847.4,697.9 L848.9,696.8 L850.4,695.7 L851.9,694.6 L853.4,693.5 L854.9,692.4 L856.4,691.2 L857.9,690.1 L859.4,688.9 L860.9,687.7 L862.4,686.5 L863.9,685.3 L865.4,684.1 L866.9,682.9 L868.4,681.7 L869.9,680.5 L871.4,679.3 L872.9,678.1 L874.4,676.9 L875.9,675.8 L877.4,674.6 L878.9,673.5 L880.4,672.3 L881.9,671.2 L883.4,670.1 L884.9,668.9 L886.4,667.7 L887.9,666.5 L889.4,665.2 L890.9,663.8 L892.4,662.3 L893.9,660.7 L895.4,658.8 L896.9,656.9 L898.4,654.8 L899.9,652.5 L901.4,650.1 L902.9,647.6 L904.4,645.0 L905.9,642.3 L907.4,639.6 L908.9,636.9 L910.4,634.1 L911.9,631.3 L913.4,628.4 L914.9,625.5 L916.4,622.3 L917.9,619.1 L919.4,615.6 L920.9,611.8 L922.4,607.9 L923.9,603.7 L925.4,599.4 L926.9,594.7 L928.4,589.8 L929.9,584.4 L931.4,578.5 L932.9,571.8 L934.4,564.2 L935.9,555.8 L937.4,546.7 L938.9,537.2 L940.4,527.4 L941.9,517.5 L943.4,507.6 L944.9,497.8 L946.4,488.4 L947.9,479.4 L949.4,471.1 L950.9,463.6 L952.4,456.9 L953.9,450.9 L955.4,445.5 L956.9,440.4 L958.4,435.5 L959.9,430.5 L961.4,425.5 L962.9,420.3 L964.4,415.0 L965.9,409.8 L967.4,404.7 L968.9,399.8 L970.4,395.1 L971.9,390.6 L973.4,386.4 L974.9,382.2 L976.4,378.3 L977.9,374.5 L979.4,370.8 L980.9,367.2 L982.4,363.7 L983.9,360.2 L985.4,356.9 L986.9,353.8 L988.4,350.8 L989.9,348.0 L991.4,345.4 L992.9,343.0 L994.4,340.7 L995.9,338.5 L997.4,336.4 L998.9,334.5 L1000.4,332.7 L1001.9,331.1 L1003.4,329.7 L1004.9,328.7 L1006.4,328.0 L1007.9,327.6 L1009.4,327.6 L1010.9,327.9 L1012.4,328.5 L1013.9,329.4 L1015.4,330.6 L1016.9,331.9 L1018.4,333.4 L1019.9,335.1 L1021.4,336.8 L1022.9,338.7 L1024.4,340.9 L1025.9,343.4 L1027.4,346.2 L1028.9,349.3 L1030.4,352.7 L1031.9,356.4 L1033.4,360.3 L1034.9,364.6 L1036.4,369.2 L1037.9,374.5 L1039.4,380.3 L1040.9,386.8 L1042.4,393.9 L1043.9,401.5 L1045.4,409.2 L1046.9,416.8 L1048.4,424.2 L1049.9,431.5 L1051.4,439.1 L1052.9,447.4 L1054.4,456.6 L1055.9,466.6 L1057.4,477.0 L1058.9,486.9 L1060.4,495.7 L1061.9,503.0 L1063.4,509.3 L1064.9,514.8 L1066.4,519.7 L1067.9,524.1 L1069.4,528.1 L1070.9,531.6 L1072.4,534.6 L1073.9,537.1 L1075.4,539.2 L1076.9,541.1 L1078.4,542.8 L1079.9,544.4 L1081.4,546.0 L1082.9,547.6 L1084.4,549.2 L1085.9,550.6 L1087.4,552.0 L1088.9,553.3 L1090.4,554.4 L1091.9,555.3 L1093.4,556.1 L1094.9,556.6 L1096.4,557.0 L1097.9,557.2 L1099.4,557.2 L1100.9,557.2 L1102.4,557.0 L1103.9,556.9 L1105.4,556.6 L1106.9,556.4 L1108.4,556.1 L1109.9,555.7 L1111.4,555.3 L1112.9,554.9 L1114.4,554.5 L1115.9,554.0 L1117.4,553.4 L1118.9,552.9 L1120.4,552.3 L1121.9,551.6 L1123.4,550.9 L1124.9,550.2 L1126.4,549.4 L1127.9,548.6 L1129.4,547.7 L1130.9,546.8 L1132.4,545.8 L1133.9,544.8 L1135.4,543.8 L1136.9,542.6 L1138.4,541.5 L1139.9,540.3 L1141.4,539.0 L1142.9,537.7 L1144.4,536.3 L1145.9,534.8 L1147.4,533.2 L1148.9,531.4 L1150.4,529.4 L1151.9,527.3 L1153.4,525.1 L1154.9,522.9 L1156.4,520.6 L1157.9,518.3 L1159.4,516.0 L1160.9,513.7 L1162.4,511.5 L1163.9,509.2 L1165.4,507.0 L1166.9,504.8 L1168.4,502.6 L1169.9,500.4 L1171.4,498.3 L1172.9,496.2 L1174.4,494.1 L1175.9,492.1 L1177.4,490.1 L1178.9,488.1 L1180.4,486.1 L1181.9,484.2 L1183.4,482.3 L1184.9,480.5 L1186.4,478.6 L1187.9,476.8 L1189.4,475.0 L1190.9,473.2 L1192.4,471.5 L1193.9,469.8 L1195.4,468.3 L1196.9,466.7 L1198.4,465.3 L1199.9,464.0 L1201.4,462.7 L1202.9,461.4 L1204.4,460.2 L1205.9,459.0 L1207.4,457.8 L1208.9,456.7 L1210.4,455.7 L1211.9,454.7 L1213.4,453.8 L1214.9,453.1 L1216.4,452.4 L1217.9,451.9 L1219.4,451.5 L1220.9,451.3 L1222.4,451.2 L1223.9,451.5 L1225.4,451.9 L1226.9,452.5 L1228.4,453.4 L1229.9,454.4 L1231.4,455.4 L1232.9,456.6 L1234.4,457.9 L1235.9,459.1 L1237.4,460.4 L1238.9,461.8 L1240.4,463.2 L1241.9,464.8 L1243.4,466.6 L1244.9,468.5 L1246.4,470.7 L1247.9,473.0 L1249.4,475.6 L1250.9,478.3 L1252.4,481.2 L1253.9,484.5 L1255.4,488.2 L1256.9,492.3 L1258.4,496.9 L1259.9,501.8 L1261.4,506.8 L1262.9,512.0 L1264.4,517.0 L1265.9,521.8 L1267.4,526.5 L1268.9,530.9 L1270.4,535.3 L1271.9,539.6 L1273.4,543.9 L1274.9,548.1 L1276.4,552.4 L1277.9,556.6 L1279.4,560.8 L1280.9,565.1 L1282.4,569.4 L1283.9,573.9 L1285.4,578.6 L1286.9,583.4 L1288.4,588.5 L1289.9,593.7 L1291.4,598.9 L1292.9,604.0 L1294.4,609.1 L1295.9,614.0 L1297.4,618.8 L1298.9,623.5 L1300.4,628.0 L1301.9,632.2 L1303.4,636.1 L1304.9,639.5 L1306.4,642.7 L1307.9,645.7 L1309.4,648.5 L1310.9,651.2 L1312.4,653.8 L1313.9,656.1 L1315.4,658.3 L1316.9,660.3 L1318.4,662.1 L1319.9,663.5 L1321.4,664.7 L1322.9,665.4 L1322.9,755.6Z" fill="#00BE67" fill-opacity="0.25" stroke="#000" stroke-width="2.4" stroke-linejoin="round"/>
<path d="M782.9,755.6 L782.9,727.0 L784.4,726.7 L785.9,726.2 L787.4,725.7 L788.9,725.1 L790.4,724.5 L791.9,724.0 L793.4,723.4 L794.9,722.9 L796.4,722.4 L797.9,721.8 L799.4,721.3 L800.9,720.8 L802.4,720.3 L803.9,719.8 L805.4,719.4 L806.9,718.9 L808.4,718.4 L809.9,718.0 L811.4,717.5 L812.9,717.1 L814.4,716.7 L815.9,716.3 L817.4,715.9 L818.9,715.5 L820.4,715.1 L821.9,714.7 L823.4,714.4 L824.9,714.0 L826.4,713.6 L827.9,713.2 L829.4,712.8 L830.9,712.5 L832.4,712.1 L833.9,711.7 L835.4,711.3 L836.9,710.9 L838.4,710.5 L839.9,710.0 L841.4,709.6 L842.9,709.2 L844.4,708.7 L845.9,708.3 L847.4,707.8 L848.9,707.3 L850.4,706.9 L851.9,706.4 L853.4,705.9 L854.9,705.5 L856.4,705.0 L857.9,704.5 L859.4,704.0 L860.9,703.5 L862.4,703.0 L863.9,702.5 L865.4,702.0 L866.9,701.5 L868.4,701.0 L869.9,700.5 L871.4,700.0 L872.9,699.5 L874.4,698.9 L875.9,698.4 L877.4,697.9 L878.9,697.3 L880.4,696.8 L881.9,696.2 L883.4,695.6 L884.9,695.0 L886.4,694.4 L887.9,693.8 L889.4,693.2 L890.9,692.6 L892.4,692.0 L893.9,691.4 L895.4,690.8 L896.9,690.2 L898.4,689.5 L899.9,688.9 L901.4,688.3 L902.9,687.6 L904.4,686.9 L905.9,686.3 L907.4,685.6 L908.9,684.9 L910.4,684.2 L911.9,683.6 L913.4,682.9 L914.9,682.2 L916.4,681.4 L917.9,680.7 L919.4,680.0 L920.9,679.3 L922.4,678.6 L923.9,677.9 L925.4,677.2 L926.9,676.5 L928.4,675.8 L929.9,675.1 L931.4,674.4 L932.9,673.7 L934.4,672.9 L935.9,672.2 L937.4,671.5 L938.9,670.8 L940.4,670.0 L941.9,669.2 L943.4,668.4 L944.9,667.6 L946.4,666.8 L947.9,665.9 L949.4,665.0 L950.9,664.1 L952.4,663.0 L953.9,661.8 L955.4,660.5 L956.9,659.1 L958.4,657.7 L959.9,656.1 L961.4,654.5 L962.9,652.8 L964.4,651.0 L965.9,649.2 L967.4,647.2 L968.9,645.2 L970.4,642.9 L971.9,640.4 L973.4,637.8 L974.9,634.9 L976.4,631.8 L977.9,628.6 L979.4,625.3 L980.9,621.9 L982.4,618.4 L983.9,614.8 L985.4,611.2 L986.9,607.4 L988.4,603.4 L989.9,599.2 L991.4,594.8 L992.9,590.2 L994.4,585.4 L995.9,580.5 L997.4,575.4 L998.9,570.1 L1000.4,564.5 L1001.9,558.7 L1003.4,552.5 L1004.9,546.1 L1006.4,539.4 L1007.9,532.4 L1009.4,525.0 L1010.9,517.0 L1012.4,508.4 L1013.9,498.8 L1015.4,488.3 L1016.9,477.4 L1018.4,466.7 L1019.9,457.0 L1021.4,448.3 L1022.9,440.4 L1024.4,433.1 L1025.9,426.2 L1027.4,419.5 L1028.9,413.1 L1030.4,406.7 L1031.9,400.5 L1033.4,394.3 L1034.9,388.4 L1036.4,382.5 L1037.9,376.9 L1039.4,371.4 L1040.9,366.0 L1042.4,360.7 L1043.9,355.6 L1045.4,350.7 L1046.9,346.1 L1048.4,341.9 L1049.9,338.1 L1051.4,334.7 L1052.9,331.6 L1054.4,328.7 L1055.9,326.0 L1057.4,323.4 L1058.9,321.1 L1060.4,318.9 L1061.9,316.9 L1063.4,315.3 L1064.9,313.9 L1066.4,312.9 L1067.9,312.3 L1069.4,312.1 L1070.9,312.4 L1072.4,313.1 L1073.9,314.3 L1075.4,315.8 L1076.9,317.8 L1078.4,320.1 L1079.9,322.6 L1081.4,325.4 L1082.9,328.2 L1084.4,331.3 L1085.9,334.4 L1087.4,337.7 L1088.9,341.3 L1090.4,345.0 L1091.9,349.0 L1093.4,353.2 L1094.9,357.6 L1096.4,362.0 L1097.9,366.7 L1099.4,371.4 L1100.9,376.3 L1102.4,381.3 L1103.9,386.4 L1105.4,391.5 L1106.9,396.6 L1108.4,401.5 L1109.9,406.3 L1111.4,410.9 L1112.9,415.4 L1114.4,419.8 L1115.9,424.2 L1117.4,428.7 L1118.9,433.4 L1120.4,438.3 L1121.9,443.6 L1123.4,449.2 L1124.9,455.0 L1126.4,460.9 L1127.9,466.7 L1129.4,472.0 L1130.9,476.9 L1132.4,481.3 L1133.9,485.2 L1135.4,488.8 L1136.9,492.2 L1138.4,495.5 L1139.9,498.6 L1141.4,501.6 L1142.9,504.5 L1144.4,507.4 L1145.9,510.1 L1147.4,512.9 L1148.9,515.5 L1150.4,518.2 L1151.9,521.0 L1153.4,523.7 L1154.9,526.6 L1156.4,529.7 L1157.9,532.7 L1159.4,535.9 L1160.9,538.8 L1162.4,541.6 L1163.9,544.1 L1165.4,546.1 L1166.9,547.6 L1168.4,548.5 L1169.9,549.1 L1171.4,549.3 L1172.9,549.2 L1174.4,548.9 L1175.9,548.5 L1177.4,548.0 L1178.9,547.4 L1180.4,546.7 L1181.9,545.9 L1183.4,545.2 L1184.9,544.3 L1186.4,543.5 L1187.9,542.7 L1189.4,541.8 L1190.9,540.9 L1192.4,540.0 L1193.9,539.0 L1195.4,538.1 L1196.9,537.1 L1198.4,536.1 L1199.9,535.0 L1201.4,533.9 L1202.9,532.8 L1204.4,531.6 L1205.9,530.4 L1207.4,529.1 L1208.9,527.9 L1210.4,526.6 L1211.9,525.3 L1213.4,524.1 L1214.9,522.8 L1216.4,521.6 L1217.9,520.4 L1219.4,519.3 L1220.9,518.2 L1222.4,517.2 L1223.9,516.3 L1225.4,515.4 L1226.9,514.6 L1228.4,513.8 L1229.9,513.1 L1231.4,512.5 L1232.9,512.0 L1234.4,511.5 L1235.9,511.2 L1237.4,510.9 L1238.9,510.8 L1240.4,510.9 L1241.9,511.1 L1243.4,511.6 L1244.9,512.1 L1246.4,512.9 L1247.9,513.8 L1249.4,514.8 L1250.9,515.9 L1252.4,517.2 L1253.9,518.5 L1255.4,519.8 L1256.9,521.3 L1258.4,522.8 L1259.9,524.2 L1261.4,525.8 L1262.9,527.3 L1264.4,529.0 L1265.9,530.8 L1267.4,533.0 L1268.9,535.4 L1270.4,538.3 L1271.9,541.5 L1273.4,545.0 L1274.9,548.8 L1276.4,552.9 L1277.9,557.5 L1279.4,562.4 L1280.9,567.8 L1282.4,573.7 L1283.9,579.8 L1285.4,586.1 L1286.9,592.5 L1288.4,598.7 L1289.9,604.8 L1291.4,610.7 L1292.9,616.2 L1294.4,621.4 L1295.9,626.4 L1297.4,631.1 L1298.9,635.5 L1300.4,639.7 L1301.9,643.7 L1303.4,647.5 L1304.9,651.3 L1306.4,655.0 L1307.9,658.6 L1309.4,662.2 L1310.9,665.6 L1312.4,669.0 L1313.9,672.3 L1315.4,675.5 L1316.9,678.5 L1318.4,681.4 L1319.9,684.0 L1321.4,686.3 L1322.9,687.9 L1322.9,755.6Z" fill="#00BFC4" fill-opacity="0.25" stroke="#000" stroke-width="2.4" stroke-linejoin="round"/>
<path d="M782.9,755.6 L782.9,689.3 L784.4,688.9 L785.9,688.3 L787.4,687.6 L788.9,686.9 L790.4,686.2 L791.9,685.6 L793.4,684.9 L794.9,684.3 L796.4,683.7 L797.9,683.1 L799.4,682.6 L800.9,682.1 L802.4,681.8 L803.9,681.5 L805.4,681.2 L806.9,681.1 L808.4,680.9 L809.9,680.9 L811.4,680.8 L812.9,680.8 L814.4,680.8 L815.9,680.8 L817.4,680.8 L818.9,680.8 L820.4,680.8 L821.9,680.8 L823.4,680.8 L824.9,680.8 L826.4,680.8 L827.9,680.9 L829.4,680.9 L830.9,680.9 L832.4,680.9 L833.9,681.0 L835.4,681.0 L836.9,681.1 L838.4,681.1 L839.9,681.2 L841.4,681.3 L842.9,681.3 L844.4,681.4 L845.9,681.5 L847.4,681.6 L848.9,681.6 L850.4,681.7 L851.9,681.7 L853.4,681.8 L854.9,681.8 L856.4,681.8 L857.9,681.8 L859.4,681.7 L860.9,681.5 L862.4,681.1 L863.9,680.6 L865.4,680.0 L866.9,679.2 L868.4,678.4 L869.9,677.6 L871.4,676.6 L872.9,675.7 L874.4,674.7 L875.9,673.7 L877.4,672.7 L878.9,671.6 L880.4,670.4 L881.9,669.2 L883.4,667.9 L884.9,666.6 L886.4,665.3 L887.9,664.1 L889.4,662.8 L890.9,661.6 L892.4,660.5 L893.9,659.5 L895.4,658.5 L896.9,657.7 L898.4,656.8 L899.9,656.0 L901.4,655.2 L902.9,654.3 L904.4,653.3 L905.9,652.2 L907.4,650.9 L908.9,649.3 L910.4,647.3 L911.9,644.9 L913.4,642.0 L914.9,638.8 L916.4,635.4 L917.9,631.8 L919.4,628.1 L920.9,624.4 L922.4,620.5 L923.9,616.6 L925.4,612.6 L926.9,608.5 L928.4,604.4 L929.9,600.2 L931.4,596.0 L932.9,591.8 L934.4,587.6 L935.9,583.5 L937.4,579.4 L938.9,575.3 L940.4,571.3 L941.9,567.3 L943.4,563.3 L944.9,559.2 L946.4,555.2 L947.9,551.2 L949.4,547.3 L950.9,543.3 L952.4,539.3 L953.9,535.4 L955.4,531.5 L956.9,527.6 L958.4,523.8 L959.9,519.9 L961.4,516.1 L962.9,512.3 L964.4,508.6 L965.9,505.0 L967.4,501.4 L968.9,497.9 L970.4,494.5 L971.9,491.2 L973.4,488.1 L974.9,485.1 L976.4,482.3 L977.9,479.6 L979.4,476.9 L980.9,474.3 L982.4,471.7 L983.9,469.2 L985.4,466.8 L986.9,464.5 L988.4,462.2 L989.9,460.1 L991.4,458.1 L992.9,456.1 L994.4,454.2 L995.9,452.4 L997.4,450.7 L998.9,449.0 L1000.4,447.3 L1001.9,445.6 L1003.4,444.0 L1004.9,442.5 L1006.4,441.0 L1007.9,439.5 L1009.4,438.1 L1010.9,436.7 L1012.4,435.4 L1013.9,434.2 L1015.4,433.0 L1016.9,431.8 L1018.4,430.7 L1019.9,429.6 L1021.4,428.5 L1022.9,427.5 L1024.4,426.5 L1025.9,425.6 L1027.4,424.7 L1028.9,423.9 L1030.4,423.3 L1031.9,422.7 L1033.4,422.3 L1034.9,422.1 L1036.4,422.0 L1037.9,422.1 L1039.4,422.5 L1040.9,423.1 L1042.4,424.0 L1043.9,425.1 L1045.4,426.4 L1046.9,427.8 L1048.4,429.4 L1049.9,431.1 L1051.4,432.9 L1052.9,434.8 L1054.4,436.6 L1055.9,438.5 L1057.4,440.5 L1058.9,442.4 L1060.4,444.5 L1061.9,446.6 L1063.4,448.9 L1064.9,451.4 L1066.4,453.9 L1067.9,456.6 L1069.4,459.4 L1070.9,462.2 L1072.4,465.2 L1073.9,468.2 L1075.4,471.3 L1076.9,474.6 L1078.4,478.1 L1079.9,481.8 L1081.4,485.7 L1082.9,489.8 L1084.4,494.0 L1085.9,498.5 L1087.4,503.3 L1088.9,508.3 L1090.4,513.6 L1091.9,519.1 L1093.4,524.5 L1094.9,529.7 L1096.4,534.6 L1097.9,539.2 L1099.4,543.5 L1100.9,547.6 L1102.4,551.5 L1103.9,555.2 L1105.4,558.5 L1106.9,561.5 L1108.4,563.9 L1109.9,565.7 L1111.4,566.9 L1112.9,567.5 L1114.4,567.7 L1115.9,567.5 L1117.4,567.1 L1118.9,566.6 L1120.4,565.8 L1121.9,565.0 L1123.4,564.0 L1124.9,562.9 L1126.4,561.7 L1127.9,560.4 L1129.4,559.0 L1130.9,557.5 L1132.4,555.9 L1133.9,554.3 L1135.4,552.6 L1136.9,550.9 L1138.4,549.2 L1139.9,547.5 L1141.4,545.9 L1142.9,544.4 L1144.4,543.0 L1145.9,541.7 L1147.4,540.4 L1148.9,539.1 L1150.4,537.8 L1151.9,536.5 L1153.4,535.0 L1154.9,533.4 L1156.4,531.8 L1157.9,530.1 L1159.4,528.4 L1160.9,526.6 L1162.4,524.9 L1163.9,523.1 L1165.4,521.4 L1166.9,519.7 L1168.4,518.0 L1169.9,516.4 L1171.4,514.6 L1172.9,512.7 L1174.4,510.6 L1175.9,508.3 L1177.4,505.7 L1178.9,503.0 L1180.4,500.1 L1181.9,497.1 L1183.4,493.9 L1184.9,490.6 L1186.4,487.1 L1187.9,483.5 L1189.4,479.7 L1190.9,475.8 L1192.4,471.9 L1193.9,467.9 L1195.4,463.9 L1196.9,459.9 L1198.4,455.9 L1199.9,451.9 L1201.4,447.8 L1202.9,443.6 L1204.4,439.4 L1205.9,435.1 L1207.4,430.6 L1208.9,425.9 L1210.4,421.0 L1211.9,416.0 L1213.4,411.1 L1214.9,406.6 L1216.4,402.5 L1217.9,398.9 L1219.4,395.7 L1220.9,392.9 L1222.4,390.5 L1223.9,388.3 L1225.4,386.5 L1226.9,385.2 L1228.4,384.3 L1229.9,384.0 L1231.4,384.2 L1232.9,385.0 L1234.4,386.5 L1235.9,388.5 L1237.4,390.9 L1238.9,393.7 L1240.4,396.9 L1241.9,400.2 L1243.4,403.9 L1244.9,407.9 L1246.4,412.1 L1247.9,416.6 L1249.4,421.2 L1250.9,425.8 L1252.4,430.5 L1253.9,435.1 L1255.4,439.7 L1256.9,444.3 L1258.4,449.0 L1259.9,453.9 L1261.4,459.0 L1262.9,464.3 L1264.4,470.1 L1265.9,476.5 L1267.4,483.6 L1268.9,491.5 L1270.4,500.0 L1271.9,509.0 L1273.4,517.9 L1274.9,526.5 L1276.4,534.4 L1277.9,541.6 L1279.4,548.2 L1280.9,554.2 L1282.4,559.9 L1283.9,565.3 L1285.4,570.7 L1286.9,575.9 L1288.4,581.2 L1289.9,586.4 L1291.4,591.4 L1292.9,596.1 L1294.4,600.5 L1295.9,604.4 L1297.4,607.9 L1298.9,611.0 L1300.4,613.7 L1301.9,616.2 L1303.4,618.4 L1304.9,620.5 L1306.4,622.5 L1307.9,624.4 L1309.4,626.3 L1310.9,628.1 L1312.4,630.0 L1313.9,632.0 L1315.4,634.1 L1316.9,636.3 L1318.4,638.7 L1319.9,641.1 L1321.4,643.4 L1322.9,645.2 L1322.9,755.6Z" fill="#00A9FF" fill-opacity="0.25" stroke="#000" stroke-width="2.4" stroke-linejoin="round"/>
<path d="M782.9,755.6 L782.9,686.8 L784.4,686.2 L785.9,685.2 L787.4,684.1 L788.9,682.7 L790.4,681.3 L791.9,679.8 L793.4,678.1 L794.9,676.4 L796.4,674.6 L797.9,672.7 L799.4,670.7 L800.9,668.4 L802.4,666.1 L803.9,663.8 L805.4,661.4 L806.9,659.1 L808.4,657.0 L809.9,655.0 L811.4,653.1 L812.9,651.2 L814.4,649.5 L815.9,647.7 L817.4,646.0 L818.9,644.4 L820.4,642.9 L821.9,641.5 L823.4,640.2 L824.9,639.1 L826.4,638.2 L827.9,637.6 L829.4,637.2 L830.9,637.0 L832.4,637.1 L833.9,637.5 L835.4,638.0 L836.9,638.6 L838.4,639.4 L839.9,640.2 L841.4,641.0 L842.9,641.7 L844.4,642.4 L845.9,643.0 L847.4,643.4 L848.9,643.5 L850.4,643.5 L851.9,643.2 L853.4,642.8 L854.9,642.2 L856.4,641.5 L857.9,640.8 L859.4,639.9 L860.9,639.1 L862.4,638.2 L863.9,637.3 L865.4,636.5 L866.9,635.8 L868.4,635.2 L869.9,634.7 L871.4,634.3 L872.9,634.2 L874.4,634.2 L875.9,634.4 L877.4,634.8 L878.9,635.4 L880.4,636.1 L881.9,636.9 L883.4,637.8 L884.9,638.6 L886.4,639.5 L887.9,640.4 L889.4,641.2 L890.9,641.8 L892.4,642.4 L893.9,642.8 L895.4,642.9 L896.9,642.9 L898.4,642.5 L899.9,642.0 L901.4,641.2 L902.9,640.2 L904.4,639.1 L905.9,637.9 L907.4,636.6 L908.9,635.2 L910.4,633.6 L911.9,631.9 L913.4,630.0 L914.9,627.9 L916.4,625.8 L917.9,623.6 L919.4,621.3 L920.9,619.0 L922.4,616.5 L923.9,613.6 L925.4,610.2 L926.9,605.9 L928.4,600.5 L929.9,594.2 L931.4,586.9 L932.9,579.0 L934.4,570.4 L935.9,561.3 L937.4,551.7 L938.9,541.7 L940.4,531.3 L941.9,520.8 L943.4,510.2 L944.9,499.5 L946.4,488.3 L947.9,476.4 L949.4,463.6 L950.9,450.2 L952.4,437.0 L953.9,424.9 L955.4,414.3 L956.9,405.6 L958.4,398.7 L959.9,393.2 L961.4,388.8 L962.9,385.2 L964.4,382.2 L965.9,379.7 L967.4,377.5 L968.9,375.6 L970.4,373.7 L971.9,371.8 L973.4,369.8 L974.9,367.7 L976.4,365.5 L977.9,363.0 L979.4,360.2 L980.9,356.8 L982.4,352.6 L983.9,347.3 L985.4,340.5 L986.9,332.3 L988.4,322.9 L989.9,312.7 L991.4,301.7 L992.9,290.0 L994.4,277.8 L995.9,265.2 L997.4,252.8 L998.9,241.1 L1000.4,230.6 L1001.9,221.4 L1003.4,213.4 L1004.9,206.8 L1006.4,201.3 L1007.9,197.0 L1009.4,193.8 L1010.9,191.6 L1012.4,190.6 L1013.9,190.4 L1015.4,190.8 L1016.9,191.6 L1018.4,192.6 L1019.9,193.8 L1021.4,194.9 L1022.9,195.9 L1024.4,196.3 L1025.9,195.8 L1027.4,193.9 L1028.9,190.4 L1030.4,185.6 L1031.9,179.6 L1033.4,172.9 L1034.9,165.6 L1036.4,158.0 L1037.9,150.4 L1039.4,143.4 L1040.9,136.9 L1042.4,131.1 L1043.9,125.9 L1045.4,121.2 L1046.9,117.2 L1048.4,113.9 L1049.9,111.5 L1051.4,110.5 L1052.9,111.1 L1054.4,113.4 L1055.9,117.6 L1057.4,123.6 L1058.9,131.9 L1060.4,142.9 L1061.9,157.1 L1063.4,173.7 L1064.9,191.4 L1066.4,208.8 L1067.9,224.9 L1069.4,239.5 L1070.9,252.5 L1072.4,263.9 L1073.9,273.9 L1075.4,282.7 L1076.9,290.5 L1078.4,297.8 L1079.9,304.6 L1081.4,311.1 L1082.9,317.5 L1084.4,323.8 L1085.9,330.1 L1087.4,336.4 L1088.9,342.7 L1090.4,349.0 L1091.9,355.3 L1093.4,361.5 L1094.9,367.6 L1096.4,373.6 L1097.9,379.5 L1099.4,385.3 L1100.9,391.2 L1102.4,396.9 L1103.9,402.5 L1105.4,407.8 L1106.9,412.8 L1108.4,417.3 L1109.9,421.2 L1111.4,424.6 L1112.9,427.5 L1114.4,430.1 L1115.9,432.4 L1117.4,434.6 L1118.9,436.6 L1120.4,438.6 L1121.9,440.4 L1123.4,442.3 L1124.9,444.1 L1126.4,445.9 L1127.9,447.8 L1129.4,449.6 L1130.9,451.5 L1132.4,453.3 L1133.9,455.2 L1135.4,457.0 L1136.9,458.8 L1138.4,460.6 L1139.9,462.5 L1141.4,464.4 L1142.9,466.5 L1144.4,468.7 L1145.9,471.1 L1147.4,473.8 L1148.9,476.7 L1150.4,480.0 L1151.9,483.5 L1153.4,487.3 L1154.9,491.3 L1156.4,495.6 L1157.9,500.3 L1159.4,505.2 L1160.9,510.5 L1162.4,515.9 L1163.9,521.5 L1165.4,527.1 L1166.9,532.3 L1168.4,537.1 L1169.9,541.3 L1171.4,544.9 L1172.9,548.0 L1174.4,550.6 L1175.9,552.7 L1177.4,554.4 L1178.9,555.9 L1180.4,557.2 L1181.9,558.4 L1183.4,559.5 L1184.9,560.6 L1186.4,561.6 L1187.9,562.5 L1189.4,563.4 L1190.9,564.2 L1192.4,565.0 L1193.9,565.8 L1195.4,566.6 L1196.9,567.4 L1198.4,568.2 L1199.9,568.8 L1201.4,569.4 L1202.9,569.8 L1204.4,570.0 L1205.9,570.0 L1207.4,569.8 L1208.9,569.3 L1210.4,568.6 L1211.9,567.8 L1213.4,566.9 L1214.9,565.9 L1216.4,564.9 L1217.9,563.9 L1219.4,562.8 L1220.9,561.6 L1222.4,560.5 L1223.9,559.5 L1225.4,558.7 L1226.9,558.3 L1228.4,558.4 L1229.9,559.0 L1231.4,560.4 L1232.9,562.4 L1234.4,564.9 L1235.9,567.8 L1237.4,571.0 L1238.9,574.4 L1240.4,577.7 L1241.9,581.0 L1243.4,584.2 L1244.9,587.4 L1246.4,590.7 L1247.9,593.9 L1249.4,597.2 L1250.9,600.6 L1252.4,604.0 L1253.9,607.4 L1255.4,610.8 L1256.9,614.3 L1258.4,617.6 L1259.9,621.0 L1261.4,624.3 L1262.9,627.5 L1264.4,630.7 L1265.9,633.9 L1267.4,637.0 L1268.9,640.1 L1270.4,643.2 L1271.9,646.2 L1273.4,649.3 L1274.9,652.3 L1276.4,655.3 L1277.9,658.2 L1279.4,661.1 L1280.9,663.9 L1282.4,666.7 L1283.9,669.5 L1285.4,672.2 L1286.9,674.8 L1288.4,677.4 L1289.9,680.0 L1291.4,682.6 L1292.9,685.1 L1294.4,687.6 L1295.9,690.0 L1297.4,692.4 L1298.9,694.8 L1300.4,697.1 L1301.9,699.4 L1303.4,701.7 L1304.9,703.9 L1306.4,706.1 L1307.9,708.2 L1309.4,710.4 L1310.9,712.5 L1312.4,714.5 L1313.9,716.6 L1315.4,718.6 L1316.9,720.5 L1318.4,722.4 L1319.9,724.1 L1321.4,725.6 L1322.9,726.8 L1322.9,755.6Z" fill="#C77CFF" fill-opacity="0.25" stroke="#000" stroke-width="2.4" stroke-linejoin="round"/>
<path d="M782.9,755.6 L782.9,645.8 L784.4,645.6 L785.9,645.6 L787.4,645.8 L788.9,646.3 L790.4,647.2 L791.9,648.2 L793.4,649.4 L794.9,650.6 L796.4,651.8 L797.9,652.9 L799.4,654.0 L800.9,655.1 L802.4,656.2 L803.9,657.3 L805.4,658.2 L806.9,659.1 L808.4,659.9 L809.9,660.5 L811.4,661.0 L812.9,661.5 L814.4,661.9 L815.9,662.2 L817.4,662.5 L818.9,662.8 L820.4,663.1 L821.9,663.3 L823.4,663.6 L824.9,663.7 L826.4,663.9 L827.9,664.1 L829.4,664.2 L830.9,664.3 L832.4,664.3 L833.9,664.4 L835.4,664.4 L836.9,664.3 L838.4,664.1 L839.9,663.8 L841.4,663.4 L842.9,662.8 L844.4,662.1 L845.9,661.4 L847.4,660.5 L848.9,659.7 L850.4,658.8 L851.9,657.9 L853.4,657.0 L854.9,656.1 L856.4,655.1 L857.9,654.1 L859.4,653.0 L860.9,651.9 L862.4,650.8 L863.9,649.8 L865.4,648.9 L866.9,648.1 L868.4,647.4 L869.9,646.9 L871.4,646.5 L872.9,646.4 L874.4,646.4 L875.9,646.6 L877.4,646.9 L878.9,647.4 L880.4,647.9 L881.9,648.4 L883.4,648.9 L884.9,649.4 L886.4,649.8 L887.9,650.2 L889.4,650.6 L890.9,651.0 L892.4,651.3 L893.9,651.7 L895.4,652.0 L896.9,652.3 L898.4,652.5 L899.9,652.7 L901.4,652.8 L902.9,652.8 L904.4,652.6 L905.9,652.3 L907.4,651.9 L908.9,651.3 L910.4,650.6 L911.9,649.9 L913.4,649.1 L914.9,648.2 L916.4,647.3 L917.9,646.3 L919.4,645.3 L920.9,644.2 L922.4,642.9 L923.9,641.4 L925.4,639.7 L926.9,637.9 L928.4,635.9 L929.9,633.8 L931.4,631.6 L932.9,629.3 L934.4,626.9 L935.9,624.5 L937.4,622.0 L938.9,619.3 L940.4,616.4 L941.9,613.4 L943.4,610.3 L944.9,607.1 L946.4,604.0 L947.9,601.1 L949.4,598.2 L950.9,595.4 L952.4,592.7 L953.9,590.1 L955.4,587.6 L956.9,585.3 L958.4,583.3 L959.9,581.6 L961.4,580.3 L962.9,579.2 L964.4,578.4 L965.9,577.7 L967.4,577.1 L968.9,576.6 L970.4,576.1 L971.9,575.8 L973.4,575.6 L974.9,575.5 L976.4,575.6 L977.9,575.6 L979.4,575.7 L980.9,575.8 L982.4,575.7 L983.9,575.5 L985.4,575.1 L986.9,574.3 L988.4,573.3 L989.9,571.9 L991.4,570.2 L992.9,568.1 L994.4,565.5 L995.9,562.5 L997.4,559.2 L998.9,555.6 L1000.4,552.0 L1001.9,548.4 L1003.4,544.9 L1004.9,541.3 L1006.4,537.7 L1007.9,533.9 L1009.4,530.0 L1010.9,525.7 L1012.4,520.9 L1013.9,515.6 L1015.4,509.4 L1016.9,501.9 L1018.4,492.3 L1019.9,480.0 L1021.4,464.6 L1022.9,446.5 L1024.4,427.1 L1025.9,408.0 L1027.4,390.1 L1028.9,373.5 L1030.4,357.8 L1031.9,342.4 L1033.4,327.2 L1034.9,312.2 L1036.4,297.6 L1037.9,283.5 L1039.4,270.2 L1040.9,257.8 L1042.4,246.4 L1043.9,236.1 L1045.4,227.0 L1046.9,219.3 L1048.4,212.7 L1049.9,207.1 L1051.4,202.5 L1052.9,199.0 L1054.4,196.9 L1055.9,196.2 L1057.4,197.2 L1058.9,199.5 L1060.4,203.2 L1061.9,207.9 L1063.4,213.7 L1064.9,220.9 L1066.4,229.6 L1067.9,240.0 L1069.4,252.4 L1070.9,267.5 L1072.4,285.7 L1073.9,306.9 L1075.4,329.8 L1076.9,352.2 L1078.4,372.2 L1079.9,389.6 L1081.4,405.1 L1082.9,419.7 L1084.4,434.4 L1085.9,449.4 L1087.4,464.6 L1088.9,479.0 L1090.4,491.4 L1091.9,501.3 L1093.4,508.8 L1094.9,514.7 L1096.4,519.7 L1097.9,524.2 L1099.4,528.4 L1100.9,532.6 L1102.4,536.9 L1103.9,541.3 L1105.4,546.1 L1106.9,550.9 L1108.4,555.8 L1109.9,560.5 L1111.4,564.7 L1112.9,568.3 L1114.4,571.2 L1115.9,573.5 L1117.4,575.3 L1118.9,576.8 L1120.4,578.0 L1121.9,579.0 L1123.4,579.8 L1124.9,580.3 L1126.4,580.6 L1127.9,580.7 L1129.4,580.5 L1130.9,580.1 L1132.4,579.6 L1133.9,579.0 L1135.4,578.5 L1136.9,578.2 L1138.4,578.0 L1139.9,578.2 L1141.4,578.7 L1142.9,579.5 L1144.4,580.6 L1145.9,582.1 L1147.4,583.8 L1148.9,585.7 L1150.4,587.7 L1151.9,589.9 L1153.4,592.1 L1154.9,594.5 L1156.4,596.8 L1157.9,599.3 L1159.4,602.0 L1160.9,604.9 L1162.4,608.0 L1163.9,611.2 L1165.4,614.3 L1166.9,617.3 L1168.4,620.0 L1169.9,622.4 L1171.4,624.3 L1172.9,625.8 L1174.4,627.0 L1175.9,627.8 L1177.4,628.5 L1178.9,629.0 L1180.4,629.5 L1181.9,630.0 L1183.4,630.5 L1184.9,631.2 L1186.4,632.0 L1187.9,632.9 L1189.4,634.0 L1190.9,635.1 L1192.4,636.3 L1193.9,637.6 L1195.4,638.9 L1196.9,640.2 L1198.4,641.5 L1199.9,642.8 L1201.4,644.0 L1202.9,645.3 L1204.4,646.5 L1205.9,647.7 L1207.4,648.8 L1208.9,649.8 L1210.4,650.7 L1211.9,651.5 L1213.4,652.1 L1214.9,652.6 L1216.4,653.0 L1217.9,653.3 L1219.4,653.5 L1220.9,653.7 L1222.4,654.0 L1223.9,654.3 L1225.4,654.7 L1226.9,655.3 L1228.4,656.0 L1229.9,657.0 L1231.4,658.1 L1232.9,659.5 L1234.4,661.0 L1235.9,662.7 L1237.4,664.6 L1238.9,666.7 L1240.4,668.9 L1241.9,671.3 L1243.4,674.0 L1244.9,676.9 L1246.4,680.1 L1247.9,683.5 L1249.4,687.1 L1250.9,690.9 L1252.4,694.7 L1253.9,698.5 L1255.4,702.2 L1256.9,706.0 L1258.4,709.9 L1259.9,713.7 L1261.4,717.6 L1262.9,721.4 L1264.4,725.2 L1265.9,728.7 L1267.4,732.0 L1268.9,735.0 L1270.4,737.7 L1271.9,740.1 L1273.4,742.3 L1274.9,744.3 L1276.4,746.1 L1277.9,747.8 L1279.4,749.3 L1280.9,750.6 L1282.4,751.7 L1283.9,752.6 L1285.4,753.3 L1286.9,753.9 L1288.4,754.4 L1289.9,754.9 L1291.4,755.3 L1292.9,755.6 L1294.4,755.6 L1295.9,755.6 L1297.4,755.6 L1298.9,755.6 L1300.4,755.6 L1301.9,755.6 L1303.4,755.6 L1304.9,755.6 L1306.4,755.6 L1307.9,755.6 L1309.4,755.6 L1310.9,755.6 L1312.4,755.6 L1313.9,755.6 L1315.4,755.6 L1316.9,755.6 L1318.4,755.6 L1319.9,755.5 L1321.4,755.2 L1322.9,754.9 L1322.9,755.6Z" fill="#FF61CC" fill-opacity="0.25" stroke="#000" stroke-width="2.4" stroke-linejoin="round"/>
<rect x="755.6" y="59.0" width="594.7" height="730.2" fill="none" stroke="#2b2b2b" stroke-width="2.7"/>
<line x1="782.9" y1="789.2" x2="782.9" y2="793.7" stroke="#2b2b2b" stroke-width="1.6"/>
<text x="782.9" y="826.7" text-anchor="middle" font-size="32.5" font-weight="bold" fill="#4d4d4d">−6</text>
<line x1="872.9" y1="789.2" x2="872.9" y2="793.7" stroke="#2b2b2b" stroke-width="1.6"/>
<text x="872.9" y="826.7" text-anchor="middle" font-size="32.5" font-weight="bold" fill="#4d4d4d">−4</text>
<line x1="962.9" y1="789.2" x2="962.9" y2="793.7" stroke="#2b2b2b" stroke-width="1.6"/>
<text x="962.9" y="826.7" text-anchor="middle" font-size="32.5" font-weight="bold" fill="#4d4d4d">−2</text>
<line x1="1052.9" y1="789.2" x2="1052.9" y2="793.7" stroke="#2b2b2b" stroke-width="1.6"/>
<text x="1052.9" y="826.7" text-anchor="middle" font-size="32.5" font-weight="bold" fill="#4d4d4d">0</text>
<line x1="1142.9" y1="789.2" x2="1142.9" y2="793.7" stroke="#2b2b2b" stroke-width="1.6"/>
<text x="1142.9" y="826.7" text-anchor="middle" font-size="32.5" font-weight="bold" fill="#4d4d4d">2</text>
<line x1="1232.9" y1="789.2" x2="1232.9" y2="793.7" stroke="#2b2b2b" stroke-width="1.6"/>
<text x="1232.9" y="826.7" text-anchor="middle" font-size="32.5" font-weight="bold" fill="#4d4d4d">4</text>
<line x1="1322.9" y1="789.2" x2="1322.9" y2="793.7" stroke="#2b2b2b" stroke-width="1.6"/>
<text x="1322.9" y="826.7" text-anchor="middle" font-size="32.5" font-weight="bold" fill="#4d4d4d">6</text>
<line x1="751.1" y1="755.6" x2="755.6" y2="755.6" stroke="#2b2b2b" stroke-width="1.6"/>
<line x1="751.1" y1="628.5" x2="755.6" y2="628.5" stroke="#2b2b2b" stroke-width="1.6"/>
<line x1="751.1" y1="501.5" x2="755.6" y2="501.5" stroke="#2b2b2b" stroke-width="1.6"/>
<line x1="751.1" y1="374.4" x2="755.6" y2="374.4" stroke="#2b2b2b" stroke-width="1.6"/>
<line x1="751.1" y1="247.4" x2="755.6" y2="247.4" stroke="#2b2b2b" stroke-width="1.6"/>
<line x1="751.1" y1="120.4" x2="755.6" y2="120.4" stroke="#2b2b2b" stroke-width="1.6"/>
<line x1="155.5" y1="965.3" x2="155.5" y2="1694.8" stroke="#ebebeb" stroke-width="1.5"/>
<line x1="197.8" y1="965.3" x2="197.8" y2="1694.8" stroke="#ebebeb" stroke-width="1.5"/>
<line x1="240.1" y1="965.3" x2="240.1" y2="1694.8" stroke="#ebebeb" stroke-width="1.5"/>
<line x1="282.3" y1="965.3" x2="282.3" y2="1694.8" stroke="#ebebeb" stroke-width="1.5"/>
<line x1="324.6" y1="965.3" x2="324.6" y2="1694.8" stroke="#ebebeb" stroke-width="1.5"/>
<line x1="366.9" y1="965.3" x2="366.9" y2="1694.8" stroke="#ebebeb" stroke-width="1.5"/>
<line x1="409.1" y1="965.3" x2="409.1" y2="1694.8" stroke="#ebebeb" stroke-width="1.5"/>
<line x1="451.4" y1="965.3" x2="451.4" y2="1694.8" stroke="#ebebeb" stroke-width="1.5"/>
<line x1="493.6" y1="965.3" x2="493.6" y2="1694.8" stroke="#ebebeb" stroke-width="1.5"/>
<line x1="535.9" y1="965.3" x2="535.9" y2="1694.8" stroke="#ebebeb" stroke-width="1.5"/>
<line x1="578.2" y1="965.3" x2="578.2" y2="1694.8" stroke="#ebebeb" stroke-width="1.5"/>
<line x1="620.4" y1="965.3" x2="620.4" y2="1694.8" stroke="#ebebeb" stroke-width="1.5"/>
<line x1="662.7" y1="965.3" x2="662.7" y2="1694.8" stroke="#ebebeb" stroke-width="1.5"/>
<line x1="705.0" y1="965.3" x2="705.0" y2="1694.8" stroke="#ebebeb" stroke-width="1.5"/>
<line x1="747.2" y1="965.3" x2="747.2" y2="1694.8" stroke="#ebebeb" stroke-width="1.5"/>
<line x1="789.5" y1="965.3" x2="789.5" y2="1694.8" stroke="#ebebeb" stroke-width="1.5"/>
<line x1="831.7" y1="965.3" x2="831.7" y2="1694.8" stroke="#ebebeb" stroke-width="1.5"/>
<line x1="874.0" y1="965.3" x2="874.0" y2="1694.8" stroke="#ebebeb" stroke-width="1.5"/>
<line x1="916.3" y1="965.3" x2="916.3" y2="1694.8" stroke="#ebebeb" stroke-width="1.5"/>
<line x1="958.5" y1="965.3" x2="958.5" y2="1694.8" stroke="#ebebeb" stroke-width="1.5"/>
<line x1="1000.8" y1="965.3" x2="1000.8" y2="1694.8" stroke="#ebebeb" stroke-width="1.5"/>
<line x1="1043.0" y1="965.3" x2="1043.0" y2="1694.8" stroke="#ebebeb" stroke-width="1.5"/>
<line x1="1085.3" y1="965.3" x2="1085.3" y2="1694.8" stroke="#ebebeb" stroke-width="1.5"/>
<line x1="1127.6" y1="965.3" x2="1127.6" y2="1694.8" stroke="#ebebeb" stroke-width="1.5"/>
<line x1="1169.8" y1="965.3" x2="1169.8" y2="1694.8" stroke="#ebebeb" stroke-width="1.5"/>
<line x1="1212.1" y1="965.3" x2="1212.1" y2="1694.8" stroke="#ebebeb" stroke-width="1.5"/>
<line x1="1254.4" y1="965.3" x2="1254.4" y2="1694.8" stroke="#ebebeb" stroke-width="1.5"/>
<line x1="1296.6" y1="965.3" x2="1296.6" y2="1694.8" stroke="#ebebeb" stroke-width="1.5"/>
<line x1="1338.9" y1="965.3" x2="1338.9" y2="1694.8" stroke="#ebebeb" stroke-width="1.5"/>
<line x1="142.9" y1="1661.1" x2="1350.9" y2="1661.1" stroke="#ebebeb" stroke-width="1.5"/>
<line x1="142.9" y1="1554.3" x2="1350.9" y2="1554.3" stroke="#ebebeb" stroke-width="1.5"/>
<line x1="142.9" y1="1447.4" x2="1350.9" y2="1447.4" stroke="#ebebeb" stroke-width="1.5"/>
<line x1="142.9" y1="1340.6" x2="1350.9" y2="1340.6" stroke="#ebebeb" stroke-width="1.5"/>
<line x1="142.9" y1="1233.8" x2="1350.9" y2="1233.8" stroke="#ebebeb" stroke-width="1.5"/>
<line x1="142.9" y1="1127.0" x2="1350.9" y2="1127.0" stroke="#ebebeb" stroke-width="1.5"/>
<line x1="142.9" y1="1020.1" x2="1350.9" y2="1020.1" stroke="#ebebeb" stroke-width="1.5"/>
<path d="M197.8,1661.1 L197.8,1659.1 L199.3,1659.8 L200.8,1660.5 L202.3,1661.1 L203.8,1661.1 L205.3,1661.1 L206.8,1661.1 L208.3,1661.1 L209.8,1661.1 L211.3,1661.1 L212.8,1661.1 L214.3,1661.1 L215.8,1661.1 L217.3,1661.1 L218.8,1661.1 L220.3,1661.1 L221.8,1661.1 L223.3,1660.9 L224.8,1660.4 L226.3,1659.9 L227.8,1659.3 L229.3,1658.7 L230.8,1658.1 L232.3,1657.5 L233.8,1656.8 L235.3,1656.2 L236.8,1655.5 L238.3,1654.8 L239.8,1654.1 L241.3,1653.5 L242.8,1652.8 L244.3,1652.1 L245.8,1651.5 L247.3,1650.9 L248.8,1650.3 L250.3,1649.5 L251.8,1648.4 L253.3,1647.1 L254.8,1645.5 L256.3,1643.6 L257.8,1641.3 L259.3,1638.8 L260.8,1635.9 L262.3,1632.6 L263.8,1629.0 L265.4,1624.9 L266.9,1620.5 L268.4,1615.7 L269.9,1610.5 L271.4,1604.9 L272.9,1597.8 L274.4,1584.2 L275.9,1562.6 L277.4,1536.3 L278.9,1509.3 L280.4,1485.1 L281.9,1463.3 L283.4,1441.3 L284.9,1420.4 L286.4,1402.4 L287.9,1388.7 L289.4,1378.6 L290.9,1369.6 L292.4,1361.6 L293.9,1354.9 L295.4,1350.1 L296.9,1347.4 L298.4,1347.3 L299.9,1349.3 L301.4,1352.2 L302.9,1355.7 L304.4,1359.9 L305.9,1364.4 L307.4,1369.2 L308.9,1374.3 L310.4,1379.8 L311.9,1385.7 L313.4,1392.1 L314.9,1398.8 L316.4,1406.4 L317.9,1414.3 L319.4,1421.4 L320.9,1428.0 L322.4,1434.3 L323.9,1440.3 L325.4,1445.8 L326.9,1450.7 L328.4,1454.7 L329.9,1457.7 L331.4,1460.2 L332.9,1462.4 L334.4,1464.4 L335.9,1466.3 L337.4,1468.0 L338.9,1469.7 L340.4,1471.3 L341.9,1472.7 L343.4,1473.3 L344.9,1473.5 L346.4,1473.5 L347.9,1473.9 L349.4,1475.1 L350.9,1479.8 L352.4,1497.3 L353.9,1516.7 L355.4,1529.8 L356.9,1540.9 L358.4,1551.2 L359.9,1560.9 L361.4,1570.5 L362.9,1580.4 L364.4,1591.3 L365.9,1602.1 L367.4,1611.7 L368.9,1618.7 L370.4,1622.6 L371.9,1624.6 L373.4,1625.5 L374.9,1625.3 L376.4,1624.4 L377.9,1623.2 L379.4,1622.0 L380.9,1620.7 L382.4,1619.5 L383.9,1618.2 L385.4,1616.9 L386.9,1615.4 L388.4,1613.9 L389.9,1612.6 L391.4,1611.6 L392.9,1610.9 L394.4,1610.8 L395.9,1611.2 L397.4,1612.1 L399.0,1613.4 L400.5,1615.1 L402.0,1617.0 L403.5,1619.1 L405.0,1621.4 L406.5,1623.7 L408.0,1626.1 L409.5,1628.4 L411.0,1630.6 L412.5,1633.3 L414.0,1636.4 L415.5,1639.7 L417.0,1642.8 L418.5,1645.2 L420.0,1646.6 L421.5,1647.5 L423.0,1648.4 L424.5,1649.2 L426.0,1649.9 L427.5,1650.6 L429.0,1651.3 L430.5,1651.9 L432.0,1652.6 L433.5,1653.1 L435.0,1653.6 L436.5,1654.1 L438.0,1654.6 L439.5,1655.0 L441.0,1655.4 L442.5,1655.7 L444.0,1656.0 L445.5,1656.2 L447.0,1656.4 L448.5,1656.6 L450.0,1656.7 L451.5,1656.8 L453.0,1656.9 L454.5,1657.0 L456.0,1657.0 L457.5,1657.1 L459.0,1657.2 L460.5,1657.2 L462.0,1657.3 L463.5,1657.4 L465.0,1657.5 L466.5,1657.5 L468.0,1657.6 L469.5,1657.7 L471.0,1657.8 L472.5,1657.8 L474.0,1657.9 L475.5,1658.0 L477.0,1658.1 L478.5,1658.1 L480.0,1658.2 L481.5,1658.3 L483.0,1658.3 L484.5,1658.4 L486.0,1658.5 L487.5,1658.6 L489.0,1658.6 L490.5,1658.7 L492.0,1658.8 L493.5,1658.8 L495.0,1658.9 L496.5,1659.0 L498.0,1659.0 L499.5,1659.1 L501.0,1659.2 L502.5,1659.2 L504.0,1659.3 L505.5,1659.3 L507.0,1659.4 L508.5,1659.4 L510.0,1659.5 L511.5,1659.5 L513.0,1659.6 L514.5,1659.6 L516.0,1659.7 L517.5,1659.7 L519.0,1659.8 L520.5,1659.8 L522.0,1659.8 L523.5,1659.9 L525.0,1659.9 L526.5,1659.9 L528.0,1659.9 L529.5,1660.0 L531.1,1660.0 L532.6,1660.0 L534.1,1660.0 L535.6,1660.0 L537.1,1660.0 L538.6,1660.0 L540.1,1660.1 L541.6,1660.1 L543.1,1660.1 L544.6,1660.1 L546.1,1660.1 L547.6,1660.1 L549.1,1660.1 L550.6,1660.1 L552.1,1660.1 L553.6,1660.1 L555.1,1660.1 L556.6,1660.1 L558.1,1660.1 L559.6,1660.2 L561.1,1660.2 L562.6,1660.2 L564.1,1660.2 L565.6,1660.2 L567.1,1660.2 L568.6,1660.2 L570.1,1660.2 L571.6,1660.2 L573.1,1660.2 L574.6,1660.2 L576.1,1660.3 L577.6,1660.3 L579.1,1660.3 L580.6,1660.3 L582.1,1660.3 L583.6,1660.3 L585.1,1660.3 L586.6,1660.3 L588.1,1660.3 L589.6,1660.3 L591.1,1660.3 L592.6,1660.3 L594.1,1660.4 L595.6,1660.4 L597.1,1660.4 L598.6,1660.4 L600.1,1660.4 L601.6,1660.4 L603.1,1660.4 L604.6,1660.4 L606.1,1660.4 L607.6,1660.4 L609.1,1660.4 L610.6,1660.5 L612.1,1660.5 L613.6,1660.5 L615.1,1660.5 L616.6,1660.5 L618.1,1660.5 L619.6,1660.5 L621.1,1660.5 L622.6,1660.5 L624.1,1660.5 L625.6,1660.5 L627.1,1660.6 L628.6,1660.6 L630.1,1660.6 L631.6,1660.6 L633.1,1660.6 L634.6,1660.6 L636.1,1660.6 L637.6,1660.6 L639.1,1660.6 L640.6,1660.6 L642.1,1660.7 L643.6,1660.7 L645.1,1660.7 L646.6,1660.7 L648.1,1660.7 L649.6,1660.7 L651.1,1660.7 L652.6,1660.7 L654.1,1660.7 L655.6,1660.7 L657.1,1660.8 L658.6,1660.8 L660.1,1660.8 L661.6,1660.8 L663.1,1660.8 L664.7,1660.8 L666.2,1660.8 L667.7,1660.8 L669.2,1660.8 L670.7,1660.8 L672.2,1660.8 L673.7,1660.9 L675.2,1660.9 L676.7,1660.9 L678.2,1660.9 L679.7,1660.9 L681.2,1660.9 L682.7,1660.9 L684.2,1660.9 L685.7,1660.9 L687.2,1660.9 L688.7,1661.0 L690.2,1661.0 L691.7,1661.0 L693.2,1661.0 L694.7,1661.0 L696.2,1661.0 L697.7,1661.0 L699.2,1661.0 L700.7,1661.0 L702.2,1661.0 L703.7,1661.1 L705.2,1661.1 L706.7,1661.1 L708.2,1661.1 L709.7,1661.1 L711.2,1661.1 L712.7,1661.1 L714.2,1661.1 L715.7,1661.1 L717.2,1661.1 L718.7,1661.1 L720.2,1661.1 L721.7,1661.1 L723.2,1661.1 L724.7,1661.1 L726.2,1661.1 L727.7,1661.1 L729.2,1661.1 L730.7,1661.1 L732.2,1661.1 L733.7,1661.1 L735.2,1661.1 L736.7,1661.1 L738.2,1661.1 L739.7,1661.1 L741.2,1661.1 L742.7,1661.1 L744.2,1661.1 L745.7,1661.1 L747.2,1661.1 L748.7,1661.1 L750.2,1661.1 L751.7,1661.1 L753.2,1661.1 L754.7,1661.1 L756.2,1661.1 L757.7,1661.1 L759.2,1661.1 L760.7,1661.1 L762.2,1661.1 L763.7,1661.1 L765.2,1661.1 L766.7,1661.1 L768.2,1661.1 L769.7,1661.1 L771.2,1661.1 L772.7,1661.1 L774.2,1661.1 L775.7,1661.1 L777.2,1661.1 L778.7,1661.1 L780.2,1661.1 L781.7,1661.1 L783.2,1661.1 L784.7,1661.1 L786.2,1661.1 L787.7,1661.1 L789.2,1661.1 L790.7,1661.1 L792.2,1661.1 L793.7,1661.1 L795.2,1661.1 L796.7,1661.1 L798.3,1661.1 L799.8,1661.1 L801.3,1661.1 L802.8,1661.1 L804.3,1661.1 L805.8,1661.1 L807.3,1661.1 L808.8,1661.1 L810.3,1661.1 L811.8,1661.1 L813.3,1661.1 L814.8,1661.1 L816.3,1661.1 L817.8,1661.1 L819.3,1661.1 L820.8,1661.1 L822.3,1661.1 L823.8,1661.1 L825.3,1661.1 L826.8,1661.1 L828.3,1661.1 L829.8,1661.1 L831.3,1661.1 L832.8,1661.1 L834.3,1661.1 L835.8,1661.1 L837.3,1661.1 L838.8,1661.1 L840.3,1661.1 L841.8,1661.1 L843.3,1661.1 L844.8,1661.1 L846.3,1661.1 L847.8,1661.1 L849.3,1661.1 L850.8,1661.1 L852.3,1661.1 L853.8,1661.1 L855.3,1661.1 L856.8,1661.1 L858.3,1661.1 L859.8,1661.1 L861.3,1661.1 L862.8,1661.1 L864.3,1661.1 L865.8,1661.1 L867.3,1661.1 L868.8,1661.1 L870.3,1661.1 L871.8,1661.1 L873.3,1661.1 L874.8,1661.1 L876.3,1661.1 L877.8,1661.1 L879.3,1661.1 L880.8,1661.1 L882.3,1661.1 L883.8,1661.1 L885.3,1661.1 L886.8,1661.1 L888.3,1661.1 L889.8,1661.1 L891.3,1661.1 L892.8,1661.1 L894.3,1661.1 L895.8,1661.1 L897.3,1661.1 L898.8,1661.1 L900.3,1661.1 L901.8,1661.1 L903.3,1661.1 L904.8,1661.1 L906.3,1661.1 L907.8,1661.1 L909.3,1661.1 L910.8,1661.1 L912.3,1661.1 L913.8,1661.1 L915.3,1661.1 L916.8,1661.1 L918.3,1661.1 L919.8,1661.1 L921.3,1661.1 L922.8,1661.1 L924.3,1661.1 L925.8,1661.1 L927.3,1661.1 L928.8,1661.1 L930.4,1661.1 L931.9,1661.1 L933.4,1661.1 L934.9,1661.1 L936.4,1661.1 L937.9,1661.1 L939.4,1661.1 L940.9,1661.1 L942.4,1661.1 L943.9,1661.1 L945.4,1661.1 L946.9,1661.1 L948.4,1661.1 L949.9,1661.1 L951.4,1661.1 L952.9,1661.1 L954.4,1661.1 L955.9,1661.1 L957.4,1661.1 L958.9,1661.1 L960.4,1661.1 L961.9,1661.1 L963.4,1661.1 L964.9,1661.1 L966.4,1661.1 L967.9,1661.1 L969.4,1661.1 L970.9,1661.1 L972.4,1661.1 L973.9,1661.1 L975.4,1661.1 L976.9,1661.1 L978.4,1661.1 L979.9,1661.1 L981.4,1661.1 L982.9,1661.1 L984.4,1661.1 L985.9,1661.1 L987.4,1661.1 L988.9,1661.1 L990.4,1661.1 L991.9,1661.1 L993.4,1661.1 L994.9,1661.1 L996.4,1661.1 L997.9,1661.1 L999.4,1661.1 L1000.9,1661.1 L1002.4,1661.1 L1003.9,1661.1 L1005.4,1661.1 L1006.9,1661.1 L1008.4,1661.1 L1009.9,1661.1 L1011.4,1661.1 L1012.9,1661.1 L1014.4,1661.1 L1015.9,1661.1 L1017.4,1661.1 L1018.9,1661.1 L1020.4,1661.1 L1021.9,1661.1 L1023.4,1661.1 L1024.9,1661.1 L1026.4,1661.1 L1027.9,1661.1 L1029.4,1661.1 L1030.9,1661.1 L1032.4,1661.1 L1033.9,1661.1 L1035.4,1661.1 L1036.9,1661.1 L1038.4,1661.1 L1039.9,1661.1 L1041.4,1661.1 L1042.9,1661.1 L1044.4,1661.1 L1045.9,1661.1 L1047.4,1661.1 L1048.9,1661.1 L1050.4,1661.1 L1051.9,1661.1 L1053.4,1661.1 L1054.9,1661.1 L1056.4,1661.1 L1057.9,1661.1 L1059.4,1661.1 L1060.9,1661.1 L1062.4,1661.1 L1064.0,1661.1 L1065.5,1661.1 L1067.0,1661.1 L1068.5,1661.1 L1070.0,1661.1 L1071.5,1661.1 L1073.0,1661.1 L1074.5,1661.1 L1076.0,1661.1 L1077.5,1661.1 L1079.0,1661.1 L1080.5,1661.1 L1082.0,1661.1 L1083.5,1661.1 L1085.0,1661.1 L1086.5,1661.1 L1088.0,1661.1 L1089.5,1661.1 L1091.0,1661.1 L1092.5,1661.1 L1094.0,1661.1 L1095.5,1661.1 L1097.0,1661.1 L1098.5,1661.1 L1100.0,1661.1 L1101.5,1661.1 L1103.0,1661.1 L1104.5,1661.1 L1106.0,1661.1 L1107.5,1661.1 L1109.0,1661.1 L1110.5,1661.1 L1112.0,1661.1 L1113.5,1661.1 L1115.0,1661.1 L1116.5,1661.1 L1118.0,1661.1 L1119.5,1661.1 L1121.0,1661.1 L1122.5,1661.1 L1124.0,1661.1 L1125.5,1661.1 L1127.0,1661.1 L1128.5,1661.1 L1130.0,1661.1 L1131.5,1661.1 L1133.0,1661.1 L1134.5,1661.1 L1136.0,1661.1 L1137.5,1661.1 L1139.0,1661.1 L1140.5,1661.1 L1142.0,1661.1 L1143.5,1661.1 L1145.0,1661.1 L1146.5,1661.1 L1148.0,1661.1 L1149.5,1661.1 L1151.0,1661.1 L1152.5,1661.1 L1154.0,1661.1 L1155.5,1661.1 L1157.0,1661.1 L1158.5,1661.1 L1160.0,1661.1 L1161.5,1661.1 L1163.0,1661.1 L1164.5,1661.1 L1166.0,1661.1 L1167.5,1661.1 L1169.0,1661.1 L1170.5,1661.1 L1172.0,1661.1 L1173.5,1661.1 L1175.0,1661.1 L1176.5,1661.1 L1178.0,1661.1 L1179.5,1661.1 L1181.0,1661.1 L1182.5,1661.1 L1184.0,1661.1 L1185.5,1661.1 L1187.0,1661.1 L1188.5,1661.1 L1190.0,1661.1 L1191.5,1661.1 L1193.0,1661.1 L1194.5,1661.1 L1196.0,1661.1 L1197.6,1661.1 L1199.1,1661.1 L1200.6,1661.1 L1202.1,1661.1 L1203.6,1661.1 L1205.1,1661.1 L1206.6,1661.1 L1208.1,1661.1 L1209.6,1661.1 L1211.1,1661.1 L1212.6,1661.1 L1214.1,1661.1 L1215.6,1661.1 L1217.1,1661.1 L1218.6,1661.1 L1220.1,1661.1 L1221.6,1661.1 L1223.1,1661.1 L1224.6,1661.1 L1226.1,1661.1 L1227.6,1661.1 L1229.1,1661.1 L1230.6,1661.1 L1232.1,1661.1 L1233.6,1661.1 L1235.1,1661.1 L1236.6,1661.1 L1238.1,1661.1 L1239.6,1661.1 L1241.1,1661.1 L1242.6,1661.1 L1244.1,1661.1 L1245.6,1661.1 L1247.1,1661.1 L1248.6,1661.1 L1250.1,1661.1 L1251.6,1661.1 L1253.1,1661.1 L1254.6,1661.1 L1256.1,1661.1 L1257.6,1661.1 L1259.1,1661.1 L1260.6,1661.1 L1262.1,1661.1 L1263.6,1661.1 L1265.1,1661.1 L1266.6,1661.1 L1268.1,1661.1 L1269.6,1661.1 L1271.1,1661.1 L1272.6,1661.1 L1274.1,1661.1 L1275.6,1661.1 L1277.1,1661.1 L1278.6,1661.1 L1280.1,1661.1 L1281.6,1661.1 L1283.1,1661.1 L1284.6,1661.1 L1286.1,1661.1 L1287.6,1661.1 L1289.1,1661.1 L1290.6,1661.1 L1292.1,1661.1 L1293.6,1661.1 L1295.1,1661.1 L1296.6,1661.1 L1296.6,1661.1Z" fill="#F8766D" fill-opacity="0.30" stroke="#000" stroke-width="2.4" stroke-linejoin="round"/>
<path d="M197.8,1661.1 L197.8,1588.7 L199.3,1586.2 L200.8,1583.4 L202.3,1580.6 L203.8,1577.8 L205.3,1575.2 L206.8,1572.5 L208.3,1569.9 L209.8,1567.2 L211.3,1564.7 L212.8,1562.4 L214.3,1560.4 L215.8,1558.7 L217.3,1557.2 L218.8,1555.9 L220.3,1554.6 L221.8,1553.2 L223.3,1551.7 L224.8,1550.2 L226.3,1548.7 L227.8,1547.1 L229.3,1545.6 L230.8,1544.0 L232.3,1542.5 L233.8,1540.9 L235.3,1539.4 L236.8,1537.9 L238.3,1536.4 L239.8,1534.9 L241.3,1533.5 L242.8,1532.0 L244.3,1530.6 L245.8,1529.2 L247.3,1527.8 L248.8,1526.5 L250.3,1525.1 L251.8,1523.9 L253.3,1522.7 L254.8,1521.5 L256.3,1520.5 L257.8,1519.6 L259.3,1518.8 L260.8,1518.2 L262.3,1517.8 L263.8,1517.5 L265.4,1517.5 L266.9,1517.6 L268.4,1518.0 L269.9,1518.7 L271.4,1519.8 L272.9,1521.2 L274.4,1522.9 L275.9,1524.8 L277.4,1526.9 L278.9,1529.2 L280.4,1531.6 L281.9,1534.1 L283.4,1536.6 L284.9,1539.0 L286.4,1541.5 L287.9,1544.2 L289.4,1547.2 L290.9,1550.4 L292.4,1553.7 L293.9,1557.0 L295.4,1560.4 L296.9,1563.5 L298.4,1566.5 L299.9,1569.3 L301.4,1571.6 L302.9,1573.6 L304.4,1575.4 L305.9,1576.9 L307.4,1578.1 L308.9,1579.1 L310.4,1579.8 L311.9,1580.2 L313.4,1580.3 L314.9,1579.9 L316.4,1578.9 L317.9,1577.6 L319.4,1575.8 L320.9,1573.6 L322.4,1571.1 L323.9,1568.4 L325.4,1565.4 L326.9,1562.1 L328.4,1558.1 L329.9,1553.6 L331.4,1548.6 L332.9,1543.2 L334.4,1537.6 L335.9,1531.9 L337.4,1526.1 L338.9,1520.6 L340.4,1515.2 L341.9,1510.2 L343.4,1505.2 L344.9,1500.2 L346.4,1495.2 L347.9,1490.5 L349.4,1485.9 L350.9,1481.8 L352.4,1478.0 L353.9,1474.4 L355.4,1471.2 L356.9,1468.6 L358.4,1467.1 L359.9,1466.9 L361.4,1468.0 L362.9,1470.3 L364.4,1473.4 L365.9,1477.2 L367.4,1481.5 L368.9,1485.9 L370.4,1490.4 L371.9,1494.9 L373.4,1499.6 L374.9,1504.7 L376.4,1509.9 L377.9,1515.1 L379.4,1520.2 L380.9,1525.1 L382.4,1530.0 L383.9,1535.0 L385.4,1539.7 L386.9,1544.0 L388.4,1547.6 L389.9,1550.5 L391.4,1553.1 L392.9,1555.4 L394.4,1557.6 L395.9,1559.6 L397.4,1561.5 L399.0,1563.3 L400.5,1565.1 L402.0,1566.8 L403.5,1568.6 L405.0,1570.3 L406.5,1572.0 L408.0,1573.6 L409.5,1575.2 L411.0,1576.9 L412.5,1578.4 L414.0,1580.0 L415.5,1581.5 L417.0,1583.0 L418.5,1584.5 L420.0,1586.0 L421.5,1587.5 L423.0,1588.9 L424.5,1590.4 L426.0,1591.8 L427.5,1593.1 L429.0,1594.3 L430.5,1595.5 L432.0,1596.5 L433.5,1597.4 L435.0,1598.3 L436.5,1599.1 L438.0,1599.9 L439.5,1600.7 L441.0,1601.4 L442.5,1602.1 L444.0,1602.7 L445.5,1603.4 L447.0,1604.0 L448.5,1604.6 L450.0,1605.2 L451.5,1605.9 L453.0,1606.5 L454.5,1607.1 L456.0,1607.7 L457.5,1608.1 L459.0,1608.5 L460.5,1608.7 L462.0,1608.9 L463.5,1608.8 L465.0,1608.5 L466.5,1607.5 L468.0,1606.1 L469.5,1604.2 L471.0,1602.2 L472.5,1600.0 L474.0,1597.9 L475.5,1596.0 L477.0,1593.9 L478.5,1591.7 L480.0,1589.3 L481.5,1586.8 L483.0,1584.3 L484.5,1581.8 L486.0,1579.5 L487.5,1577.4 L489.0,1575.6 L490.5,1574.1 L492.0,1573.0 L493.5,1572.4 L495.0,1572.6 L496.5,1573.5 L498.0,1575.1 L499.5,1577.2 L501.0,1579.7 L502.5,1582.6 L504.0,1585.6 L505.5,1588.8 L507.0,1591.9 L508.5,1595.0 L510.0,1597.9 L511.5,1600.9 L513.0,1604.1 L514.5,1607.5 L516.0,1611.0 L517.5,1614.5 L519.0,1618.0 L520.5,1621.5 L522.0,1624.9 L523.5,1628.1 L525.0,1631.1 L526.5,1633.9 L528.0,1636.8 L529.5,1639.5 L531.1,1642.1 L532.6,1644.4 L534.1,1646.4 L535.6,1648.0 L537.1,1649.1 L538.6,1650.2 L540.1,1651.3 L541.6,1652.3 L543.1,1653.3 L544.6,1654.2 L546.1,1654.9 L547.6,1655.6 L549.1,1656.1 L550.6,1656.5 L552.1,1656.8 L553.6,1656.9 L555.1,1656.9 L556.6,1657.0 L558.1,1657.0 L559.6,1657.1 L561.1,1657.1 L562.6,1657.2 L564.1,1657.3 L565.6,1657.3 L567.1,1657.4 L568.6,1657.4 L570.1,1657.5 L571.6,1657.5 L573.1,1657.6 L574.6,1657.6 L576.1,1657.7 L577.6,1657.7 L579.1,1657.8 L580.6,1657.8 L582.1,1657.9 L583.6,1657.9 L585.1,1658.0 L586.6,1658.0 L588.1,1658.1 L589.6,1658.1 L591.1,1658.1 L592.6,1658.2 L594.1,1658.2 L595.6,1658.3 L597.1,1658.3 L598.6,1658.4 L600.1,1658.4 L601.6,1658.5 L603.1,1658.5 L604.6,1658.5 L606.1,1658.6 L607.6,1658.6 L609.1,1658.7 L610.6,1658.7 L612.1,1658.7 L613.6,1658.8 L615.1,1658.8 L616.6,1658.9 L618.1,1658.9 L619.6,1658.9 L621.1,1659.0 L622.6,1659.0 L624.1,1659.1 L625.6,1659.1 L627.1,1659.1 L628.6,1659.2 L630.1,1659.2 L631.6,1659.3 L633.1,1659.3 L634.6,1659.3 L636.1,1659.4 L637.6,1659.4 L639.1,1659.5 L640.6,1659.5 L642.1,1659.6 L643.6,1659.6 L645.1,1659.7 L646.6,1659.7 L648.1,1659.7 L649.6,1659.8 L651.1,1659.8 L652.6,1659.9 L654.1,1659.9 L655.6,1660.0 L657.1,1660.0 L658.6,1660.0 L660.1,1660.1 L661.6,1660.1 L663.1,1660.2 L664.7,1660.2 L666.2,1660.3 L667.7,1660.3 L669.2,1660.3 L670.7,1660.4 L672.2,1660.4 L673.7,1660.5 L675.2,1660.5 L676.7,1660.5 L678.2,1660.6 L679.7,1660.6 L681.2,1660.6 L682.7,1660.7 L684.2,1660.7 L685.7,1660.8 L687.2,1660.8 L688.7,1660.8 L690.2,1660.8 L691.7,1660.9 L693.2,1660.9 L694.7,1660.9 L696.2,1661.0 L697.7,1661.0 L699.2,1661.0 L700.7,1661.0 L702.2,1661.1 L703.7,1661.1 L705.2,1661.1 L706.7,1661.1 L708.2,1661.1 L709.7,1661.1 L711.2,1661.1 L712.7,1661.1 L714.2,1661.1 L715.7,1661.1 L717.2,1661.1 L718.7,1661.1 L720.2,1661.1 L721.7,1661.1 L723.2,1661.1 L724.7,1661.1 L726.2,1661.1 L727.7,1661.1 L729.2,1661.1 L730.7,1661.1 L732.2,1661.1 L733.7,1661.1 L735.2,1661.1 L736.7,1661.1 L738.2,1661.1 L739.7,1661.1 L741.2,1661.1 L742.7,1661.1 L744.2,1661.1 L745.7,1661.1 L747.2,1661.1 L748.7,1661.1 L750.2,1661.1 L751.7,1661.1 L753.2,1661.1 L754.7,1661.1 L756.2,1661.1 L757.7,1661.1 L759.2,1661.1 L760.7,1661.1 L762.2,1661.1 L763.7,1661.1 L765.2,1661.1 L766.7,1661.1 L768.2,1661.1 L769.7,1661.1 L771.2,1661.1 L772.7,1661.1 L774.2,1661.1 L775.7,1661.1 L777.2,1661.1 L778.7,1661.1 L780.2,1661.1 L781.7,1661.1 L783.2,1661.1 L784.7,1661.1 L786.2,1661.1 L787.7,1661.1 L789.2,1661.1 L790.7,1661.1 L792.2,1661.1 L793.7,1661.1 L795.2,1661.1 L796.7,1661.1 L798.3,1661.1 L799.8,1661.1 L801.3,1661.1 L802.8,1661.1 L804.3,1661.1 L805.8,1661.1 L807.3,1661.1 L808.8,1661.1 L810.3,1661.1 L811.8,1661.1 L813.3,1661.1 L814.8,1661.1 L816.3,1661.1 L817.8,1661.1 L819.3,1661.1 L820.8,1661.1 L822.3,1661.1 L823.8,1661.1 L825.3,1661.1 L826.8,1661.1 L828.3,1661.1 L829.8,1661.1 L831.3,1661.1 L832.8,1661.1 L834.3,1661.1 L835.8,1661.1 L837.3,1661.1 L838.8,1661.1 L840.3,1661.1 L841.8,1661.1 L843.3,1661.1 L844.8,1661.1 L846.3,1661.1 L847.8,1661.1 L849.3,1661.1 L850.8,1661.1 L852.3,1661.1 L853.8,1661.1 L855.3,1661.1 L856.8,1661.1 L858.3,1661.1 L859.8,1661.1 L861.3,1661.1 L862.8,1661.1 L864.3,1661.1 L865.8,1661.1 L867.3,1661.1 L868.8,1661.1 L870.3,1661.1 L871.8,1661.1 L873.3,1661.1 L874.8,1661.1 L876.3,1661.1 L877.8,1661.1 L879.3,1661.1 L880.8,1661.1 L882.3,1661.1 L883.8,1661.1 L885.3,1661.1 L886.8,1661.1 L888.3,1661.1 L889.8,1661.1 L891.3,1661.1 L892.8,1661.1 L894.3,1661.1 L895.8,1661.1 L897.3,1661.1 L898.8,1661.1 L900.3,1661.1 L901.8,1661.1 L903.3,1661.1 L904.8,1661.1 L906.3,1661.1 L907.8,1661.1 L909.3,1661.1 L910.8,1661.1 L912.3,1661.1 L913.8,1661.1 L915.3,1661.1 L916.8,1661.1 L918.3,1661.1 L919.8,1661.1 L921.3,1661.1 L922.8,1661.1 L924.3,1661.1 L925.8,1661.1 L927.3,1661.1 L928.8,1661.1 L930.4,1661.1 L931.9,1661.1 L933.4,1661.1 L934.9,1661.1 L936.4,1661.1 L937.9,1661.1 L939.4,1661.1 L940.9,1661.1 L942.4,1661.1 L943.9,1661.1 L945.4,1661.1 L946.9,1661.1 L948.4,1661.1 L949.9,1661.1 L951.4,1661.1 L952.9,1661.1 L954.4,1661.1 L955.9,1661.1 L957.4,1661.1 L958.9,1661.1 L960.4,1661.1 L961.9,1661.1 L963.4,1661.1 L964.9,1661.1 L966.4,1661.1 L967.9,1661.1 L969.4,1661.1 L970.9,1661.1 L972.4,1661.1 L973.9,1661.1 L975.4,1661.1 L976.9,1661.1 L978.4,1661.1 L979.9,1661.1 L981.4,1661.1 L982.9,1661.1 L984.4,1661.1 L985.9,1661.1 L987.4,1661.1 L988.9,1661.1 L990.4,1661.1 L991.9,1661.1 L993.4,1661.1 L994.9,1661.1 L996.4,1661.1 L997.9,1661.1 L999.4,1661.1 L1000.9,1661.1 L1002.4,1661.1 L1003.9,1661.1 L1005.4,1661.1 L1006.9,1661.1 L1008.4,1661.1 L1009.9,1661.1 L1011.4,1661.1 L1012.9,1661.1 L1014.4,1661.1 L1015.9,1661.1 L1017.4,1661.1 L1018.9,1661.1 L1020.4,1661.1 L1021.9,1661.1 L1023.4,1661.1 L1024.9,1661.1 L1026.4,1661.1 L1027.9,1661.1 L1029.4,1661.1 L1030.9,1661.1 L1032.4,1661.1 L1033.9,1661.1 L1035.4,1661.1 L1036.9,1661.1 L1038.4,1661.1 L1039.9,1661.1 L1041.4,1661.1 L1042.9,1661.1 L1044.4,1661.1 L1045.9,1661.1 L1047.4,1661.1 L1048.9,1661.1 L1050.4,1661.1 L1051.9,1661.1 L1053.4,1661.1 L1054.9,1661.1 L1056.4,1661.1 L1057.9,1661.1 L1059.4,1661.1 L1060.9,1661.1 L1062.4,1661.1 L1064.0,1661.1 L1065.5,1661.1 L1067.0,1661.1 L1068.5,1661.1 L1070.0,1661.1 L1071.5,1661.1 L1073.0,1661.1 L1074.5,1661.1 L1076.0,1661.1 L1077.5,1661.1 L1079.0,1661.1 L1080.5,1661.1 L1082.0,1661.1 L1083.5,1661.1 L1085.0,1661.1 L1086.5,1661.1 L1088.0,1661.1 L1089.5,1661.1 L1091.0,1661.1 L1092.5,1661.1 L1094.0,1661.1 L1095.5,1661.1 L1097.0,1661.1 L1098.5,1661.1 L1100.0,1661.1 L1101.5,1661.1 L1103.0,1661.1 L1104.5,1661.1 L1106.0,1661.1 L1107.5,1661.1 L1109.0,1661.1 L1110.5,1661.1 L1112.0,1661.1 L1113.5,1661.1 L1115.0,1661.1 L1116.5,1661.1 L1118.0,1661.1 L1119.5,1661.1 L1121.0,1661.1 L1122.5,1661.1 L1124.0,1661.1 L1125.5,1661.1 L1127.0,1661.1 L1128.5,1661.1 L1130.0,1661.1 L1131.5,1661.1 L1133.0,1661.1 L1134.5,1661.1 L1136.0,1661.1 L1137.5,1661.1 L1139.0,1661.1 L1140.5,1661.1 L1142.0,1661.1 L1143.5,1661.1 L1145.0,1661.1 L1146.5,1661.1 L1148.0,1661.1 L1149.5,1661.1 L1151.0,1661.1 L1152.5,1661.1 L1154.0,1661.1 L1155.5,1661.1 L1157.0,1661.1 L1158.5,1661.1 L1160.0,1661.1 L1161.5,1661.1 L1163.0,1661.1 L1164.5,1661.1 L1166.0,1661.1 L1167.5,1661.1 L1169.0,1661.1 L1170.5,1661.1 L1172.0,1661.1 L1173.5,1661.1 L1175.0,1661.1 L1176.5,1661.1 L1178.0,1661.1 L1179.5,1661.1 L1181.0,1661.1 L1182.5,1661.1 L1184.0,1661.1 L1185.5,1661.1 L1187.0,1661.1 L1188.5,1661.1 L1190.0,1661.1 L1191.5,1661.1 L1193.0,1661.1 L1194.5,1661.1 L1196.0,1661.1 L1197.6,1661.1 L1199.1,1661.1 L1200.6,1661.1 L1202.1,1661.1 L1203.6,1661.1 L1205.1,1661.1 L1206.6,1661.1 L1208.1,1661.1 L1209.6,1661.1 L1211.1,1661.1 L1212.6,1661.1 L1214.1,1661.1 L1215.6,1661.1 L1217.1,1661.1 L1218.6,1661.1 L1220.1,1661.1 L1221.6,1661.1 L1223.1,1661.1 L1224.6,1661.1 L1226.1,1661.1 L1227.6,1661.1 L1229.1,1661.1 L1230.6,1661.1 L1232.1,1661.1 L1233.6,1661.1 L1235.1,1661.1 L1236.6,1661.1 L1238.1,1661.1 L1239.6,1661.1 L1241.1,1661.1 L1242.6,1661.1 L1244.1,1661.1 L1245.6,1661.1 L1247.1,1661.1 L1248.6,1661.1 L1250.1,1661.1 L1251.6,1661.1 L1253.1,1661.1 L1254.6,1661.1 L1256.1,1661.1 L1257.6,1661.1 L1259.1,1661.1 L1260.6,1661.1 L1262.1,1661.1 L1263.6,1661.1 L1265.1,1661.1 L1266.6,1661.1 L1268.1,1661.1 L1269.6,1661.1 L1271.1,1661.1 L1272.6,1661.1 L1274.1,1661.1 L1275.6,1661.1 L1277.1,1661.1 L1278.6,1661.1 L1280.1,1661.1 L1281.6,1661.1 L1283.1,1661.1 L1284.6,1661.1 L1286.1,1661.1 L1287.6,1661.1 L1289.1,1661.1 L1290.6,1661.1 L1292.1,1661.1 L1293.6,1661.1 L1295.1,1661.1 L1296.6,1661.1 L1296.6,1661.1Z" fill="#CD9600" fill-opacity="0.30" stroke="#000" stroke-width="2.4" stroke-linejoin="round"/>
<path d="M197.8,1661.1 L197.8,1661.1 L199.3,1661.1 L200.8,1659.8 L202.3,1642.4 L203.8,1617.4 L205.3,1588.9 L206.8,1560.2 L208.3,1532.0 L209.8,1503.0 L211.3,1472.4 L212.8,1439.2 L214.3,1401.5 L215.8,1356.9 L217.3,1310.7 L218.8,1265.2 L220.3,1221.9 L221.8,1177.4 L223.3,1130.9 L224.8,1083.6 L226.3,1042.9 L227.8,1012.2 L229.3,1001.1 L230.8,1006.8 L232.3,1019.2 L233.8,1033.8 L235.3,1049.3 L236.8,1064.1 L238.3,1078.4 L239.8,1094.1 L241.3,1114.3 L242.8,1128.2 L244.3,1115.5 L245.8,1091.9 L247.3,1072.1 L248.8,1055.7 L250.3,1040.9 L251.8,1028.4 L253.3,1020.0 L254.8,1017.8 L256.3,1028.0 L257.8,1052.7 L259.3,1091.1 L260.8,1151.8 L262.3,1212.9 L263.8,1268.6 L265.4,1316.7 L266.9,1361.9 L268.4,1406.0 L269.9,1446.4 L271.4,1483.9 L272.9,1521.7 L274.4,1558.5 L275.9,1588.2 L277.4,1607.2 L278.9,1621.0 L280.4,1631.4 L281.9,1638.1 L283.4,1642.0 L284.9,1645.3 L286.4,1648.4 L287.9,1651.2 L289.4,1653.3 L290.9,1654.7 L292.4,1655.7 L293.9,1656.7 L295.4,1657.6 L296.9,1658.4 L298.4,1658.8 L299.9,1659.0 L301.4,1659.0 L302.9,1659.0 L304.4,1659.1 L305.9,1659.1 L307.4,1659.1 L308.9,1659.2 L310.4,1659.2 L311.9,1659.2 L313.4,1659.3 L314.9,1659.3 L316.4,1659.3 L317.9,1659.4 L319.4,1659.4 L320.9,1659.4 L322.4,1659.5 L323.9,1659.5 L325.4,1659.5 L326.9,1659.5 L328.4,1659.6 L329.9,1659.6 L331.4,1659.6 L332.9,1659.7 L334.4,1659.7 L335.9,1659.7 L337.4,1659.7 L338.9,1659.8 L340.4,1659.8 L341.9,1659.8 L343.4,1659.8 L344.9,1659.9 L346.4,1659.9 L347.9,1659.9 L349.4,1659.9 L350.9,1659.9 L352.4,1659.9 L353.9,1660.0 L355.4,1660.0 L356.9,1660.0 L358.4,1660.0 L359.9,1660.0 L361.4,1660.0 L362.9,1660.0 L364.4,1660.0 L365.9,1660.0 L367.4,1660.0 L368.9,1660.0 L370.4,1660.0 L371.9,1660.0 L373.4,1660.0 L374.9,1660.0 L376.4,1660.0 L377.9,1660.0 L379.4,1660.1 L380.9,1660.1 L382.4,1660.1 L383.9,1660.1 L385.4,1660.1 L386.9,1660.1 L388.4,1660.1 L389.9,1660.1 L391.4,1660.1 L392.9,1660.1 L394.4,1660.1 L395.9,1660.1 L397.4,1660.1 L399.0,1660.1 L400.5,1660.1 L402.0,1660.1 L403.5,1660.1 L405.0,1660.1 L406.5,1660.1 L408.0,1660.1 L409.5,1660.1 L411.0,1660.1 L412.5,1660.1 L414.0,1660.1 L415.5,1660.1 L417.0,1660.1 L418.5,1660.1 L420.0,1660.1 L421.5,1660.1 L423.0,1660.1 L424.5,1660.1 L426.0,1660.1 L427.5,1660.1 L429.0,1660.1 L430.5,1660.2 L432.0,1660.2 L433.5,1660.2 L435.0,1660.2 L436.5,1660.2 L438.0,1660.2 L439.5,1660.2 L441.0,1660.2 L442.5,1660.2 L444.0,1660.2 L445.5,1660.2 L447.0,1660.2 L448.5,1660.2 L450.0,1660.2 L451.5,1660.2 L453.0,1660.2 L454.5,1660.2 L456.0,1660.2 L457.5,1660.2 L459.0,1660.2 L460.5,1660.2 L462.0,1660.2 L463.5,1660.2 L465.0,1660.2 L466.5,1660.2 L468.0,1660.2 L469.5,1660.2 L471.0,1660.2 L472.5,1660.2 L474.0,1660.3 L475.5,1660.3 L477.0,1660.3 L478.5,1660.3 L480.0,1660.3 L481.5,1660.3 L483.0,1660.3 L484.5,1660.3 L486.0,1660.3 L487.5,1660.3 L489.0,1660.3 L490.5,1660.3 L492.0,1660.3 L493.5,1660.3 L495.0,1660.3 L496.5,1660.3 L498.0,1660.3 L499.5,1660.3 L501.0,1660.3 L502.5,1660.3 L504.0,1660.3 L505.5,1660.3 L507.0,1660.3 L508.5,1660.3 L510.0,1660.3 L511.5,1660.3 L513.0,1660.4 L514.5,1660.4 L516.0,1660.4 L517.5,1660.4 L519.0,1660.4 L520.5,1660.4 L522.0,1660.4 L523.5,1660.4 L525.0,1660.4 L526.5,1660.4 L528.0,1660.4 L529.5,1660.4 L531.1,1660.4 L532.6,1660.4 L534.1,1660.4 L535.6,1660.4 L537.1,1660.4 L538.6,1660.4 L540.1,1660.4 L541.6,1660.4 L543.1,1660.4 L544.6,1660.4 L546.1,1660.4 L547.6,1660.4 L549.1,1660.5 L550.6,1660.5 L552.1,1660.5 L553.6,1660.5 L555.1,1660.5 L556.6,1660.5 L558.1,1660.5 L559.6,1660.5 L561.1,1660.5 L562.6,1660.5 L564.1,1660.5 L565.6,1660.5 L567.1,1660.5 L568.6,1660.5 L570.1,1660.5 L571.6,1660.5 L573.1,1660.5 L574.6,1660.5 L576.1,1660.5 L577.6,1660.5 L579.1,1660.5 L580.6,1660.5 L582.1,1660.6 L583.6,1660.6 L585.1,1660.6 L586.6,1660.6 L588.1,1660.6 L589.6,1660.6 L591.1,1660.6 L592.6,1660.6 L594.1,1660.6 L595.6,1660.6 L597.1,1660.6 L598.6,1660.6 L600.1,1660.6 L601.6,1660.6 L603.1,1660.6 L604.6,1660.6 L606.1,1660.6 L607.6,1660.6 L609.1,1660.6 L610.6,1660.6 L612.1,1660.6 L613.6,1660.6 L615.1,1660.7 L616.6,1660.7 L618.1,1660.7 L619.6,1660.7 L621.1,1660.7 L622.6,1660.7 L624.1,1660.7 L625.6,1660.7 L627.1,1660.7 L628.6,1660.7 L630.1,1660.7 L631.6,1660.7 L633.1,1660.7 L634.6,1660.7 L636.1,1660.7 L637.6,1660.7 L639.1,1660.7 L640.6,1660.7 L642.1,1660.7 L643.6,1660.7 L645.1,1660.7 L646.6,1660.7 L648.1,1660.8 L649.6,1660.8 L651.1,1660.8 L652.6,1660.8 L654.1,1660.8 L655.6,1660.8 L657.1,1660.8 L658.6,1660.8 L660.1,1660.8 L661.6,1660.8 L663.1,1660.8 L664.7,1660.8 L666.2,1660.8 L667.7,1660.8 L669.2,1660.8 L670.7,1660.8 L672.2,1660.8 L673.7,1660.8 L675.2,1660.8 L676.7,1660.8 L678.2,1660.8 L679.7,1660.8 L681.2,1660.9 L682.7,1660.9 L684.2,1660.9 L685.7,1660.9 L687.2,1660.9 L688.7,1660.9 L690.2,1660.9 L691.7,1660.9 L693.2,1660.9 L694.7,1660.9 L696.2,1660.9 L697.7,1660.9 L699.2,1660.9 L700.7,1660.9 L702.2,1660.9 L703.7,1660.9 L705.2,1660.9 L706.7,1660.9 L708.2,1660.9 L709.7,1660.9 L711.2,1660.9 L712.7,1661.0 L714.2,1661.0 L715.7,1661.0 L717.2,1661.0 L718.7,1661.0 L720.2,1661.0 L721.7,1661.0 L723.2,1661.0 L724.7,1661.0 L726.2,1661.0 L727.7,1661.0 L729.2,1661.0 L730.7,1661.0 L732.2,1661.0 L733.7,1661.0 L735.2,1661.0 L736.7,1661.0 L738.2,1661.0 L739.7,1661.0 L741.2,1661.0 L742.7,1661.0 L744.2,1661.0 L745.7,1661.0 L747.2,1661.1 L748.7,1661.1 L750.2,1661.1 L751.7,1661.1 L753.2,1661.1 L754.7,1661.1 L756.2,1661.1 L757.7,1661.1 L759.2,1661.1 L760.7,1661.1 L762.2,1661.1 L763.7,1661.1 L765.2,1661.1 L766.7,1661.1 L768.2,1661.1 L769.7,1661.1 L771.2,1661.1 L772.7,1661.1 L774.2,1661.1 L775.7,1661.1 L777.2,1661.1 L778.7,1661.1 L780.2,1661.1 L781.7,1661.1 L783.2,1661.1 L784.7,1661.1 L786.2,1661.1 L787.7,1661.1 L789.2,1661.1 L790.7,1661.1 L792.2,1661.1 L793.7,1661.1 L795.2,1661.1 L796.7,1661.1 L798.3,1661.1 L799.8,1661.1 L801.3,1661.1 L802.8,1661.1 L804.3,1661.1 L805.8,1661.1 L807.3,1661.1 L808.8,1661.1 L810.3,1661.1 L811.8,1661.1 L813.3,1661.1 L814.8,1661.1 L816.3,1661.1 L817.8,1661.1 L819.3,1661.1 L820.8,1661.1 L822.3,1661.1 L823.8,1661.1 L825.3,1661.1 L826.8,1661.1 L828.3,1661.1 L829.8,1661.1 L831.3,1661.1 L832.8,1661.1 L834.3,1661.1 L835.8,1661.1 L837.3,1661.1 L838.8,1661.1 L840.3,1661.1 L841.8,1661.1 L843.3,1661.1 L844.8,1661.1 L846.3,1661.1 L847.8,1661.1 L849.3,1661.1 L850.8,1661.1 L852.3,1661.1 L853.8,1661.1 L855.3,1661.1 L856.8,1661.1 L858.3,1661.1 L859.8,1661.1 L861.3,1661.1 L862.8,1661.1 L864.3,1661.1 L865.8,1661.1 L867.3,1661.1 L868.8,1661.1 L870.3,1661.1 L871.8,1661.1 L873.3,1661.1 L874.8,1661.1 L876.3,1661.1 L877.8,1661.1 L879.3,1661.1 L880.8,1661.1 L882.3,1661.1 L883.8,1661.1 L885.3,1661.1 L886.8,1661.1 L888.3,1661.1 L889.8,1661.1 L891.3,1661.1 L892.8,1661.1 L894.3,1661.1 L895.8,1661.1 L897.3,1661.1 L898.8,1661.1 L900.3,1661.1 L901.8,1661.1 L903.3,1661.1 L904.8,1661.1 L906.3,1661.1 L907.8,1661.1 L909.3,1661.1 L910.8,1661.1 L912.3,1661.1 L913.8,1661.1 L915.3,1661.1 L916.8,1661.1 L918.3,1661.1 L919.8,1661.1 L921.3,1661.1 L922.8,1661.1 L924.3,1661.1 L925.8,1661.1 L927.3,1661.1 L928.8,1661.1 L930.4,1661.1 L931.9,1661.1 L933.4,1661.1 L934.9,1661.1 L936.4,1661.1 L937.9,1661.1 L939.4,1661.1 L940.9,1661.1 L942.4,1661.1 L943.9,1661.1 L945.4,1661.1 L946.9,1661.1 L948.4,1661.1 L949.9,1661.1 L951.4,1661.1 L952.9,1661.1 L954.4,1661.1 L955.9,1661.1 L957.4,1661.1 L958.9,1661.1 L960.4,1661.1 L961.9,1661.1 L963.4,1661.1 L964.9,1661.1 L966.4,1661.1 L967.9,1661.1 L969.4,1661.1 L970.9,1661.1 L972.4,1661.1 L973.9,1661.1 L975.4,1661.1 L976.9,1661.1 L978.4,1661.1 L979.9,1661.1 L981.4,1661.1 L982.9,1661.1 L984.4,1661.1 L985.9,1661.1 L987.4,1661.1 L988.9,1661.1 L990.4,1661.1 L991.9,1661.1 L993.4,1661.1 L994.9,1661.1 L996.4,1661.1 L997.9,1661.1 L999.4,1661.1 L1000.9,1661.1 L1002.4,1661.1 L1003.9,1661.1 L1005.4,1661.1 L1006.9,1661.1 L1008.4,1661.1 L1009.9,1661.1 L1011.4,1661.1 L1012.9,1661.1 L1014.4,1661.1 L1015.9,1661.1 L1017.4,1661.1 L1018.9,1661.1 L1020.4,1661.1 L1021.9,1661.1 L1023.4,1661.1 L1024.9,1661.1 L1026.4,1661.1 L1027.9,1661.1 L1029.4,1661.1 L1030.9,1661.1 L1032.4,1661.1 L1033.9,1661.1 L1035.4,1661.1 L1036.9,1661.1 L1038.4,1661.1 L1039.9,1661.1 L1041.4,1661.1 L1042.9,1661.1 L1044.4,1661.1 L1045.9,1661.1 L1047.4,1661.1 L1048.9,1661.1 L1050.4,1661.1 L1051.9,1661.1 L1053.4,1661.1 L1054.9,1661.1 L1056.4,1661.1 L1057.9,1661.1 L1059.4,1661.1 L1060.9,1661.1 L1062.4,1661.1 L1064.0,1661.1 L1065.5,1661.1 L1067.0,1661.1 L1068.5,1661.1 L1070.0,1661.1 L1071.5,1661.1 L1073.0,1661.1 L1074.5,1661.1 L1076.0,1661.1 L1077.5,1661.1 L1079.0,1661.1 L1080.5,1661.1 L1082.0,1661.1 L1083.5,1661.1 L1085.0,1661.1 L1086.5,1661.1 L1088.0,1661.1 L1089.5,1661.1 L1091.0,1661.1 L1092.5,1661.1 L1094.0,1661.1 L1095.5,1661.1 L1097.0,1661.1 L1098.5,1661.1 L1100.0,1661.1 L1101.5,1661.1 L1103.0,1661.1 L1104.5,1661.1 L1106.0,1661.1 L1107.5,1661.1 L1109.0,1661.1 L1110.5,1661.1 L1112.0,1661.1 L1113.5,1661.1 L1115.0,1661.1 L1116.5,1661.1 L1118.0,1661.1 L1119.5,1661.1 L1121.0,1661.1 L1122.5,1661.1 L1124.0,1661.1 L1125.5,1661.1 L1127.0,1661.1 L1128.5,1661.1 L1130.0,1661.1 L1131.5,1661.1 L1133.0,1661.1 L1134.5,1661.1 L1136.0,1661.1 L1137.5,1661.1 L1139.0,1661.1 L1140.5,1661.1 L1142.0,1661.1 L1143.5,1661.1 L1145.0,1661.1 L1146.5,1661.1 L1148.0,1661.1 L1149.5,1661.1 L1151.0,1661.1 L1152.5,1661.1 L1154.0,1661.1 L1155.5,1661.1 L1157.0,1661.1 L1158.5,1661.1 L1160.0,1661.1 L1161.5,1661.1 L1163.0,1661.1 L1164.5,1661.1 L1166.0,1661.1 L1167.5,1661.1 L1169.0,1661.1 L1170.5,1661.1 L1172.0,1661.1 L1173.5,1661.1 L1175.0,1661.1 L1176.5,1661.1 L1178.0,1661.1 L1179.5,1661.1 L1181.0,1661.1 L1182.5,1661.1 L1184.0,1661.1 L1185.5,1661.1 L1187.0,1661.1 L1188.5,1661.1 L1190.0,1661.1 L1191.5,1661.1 L1193.0,1661.1 L1194.5,1661.1 L1196.0,1661.1 L1197.6,1661.1 L1199.1,1661.1 L1200.6,1661.1 L1202.1,1661.1 L1203.6,1661.1 L1205.1,1661.1 L1206.6,1661.1 L1208.1,1661.1 L1209.6,1661.1 L1211.1,1661.1 L1212.6,1661.1 L1214.1,1661.1 L1215.6,1661.1 L1217.1,1661.1 L1218.6,1661.1 L1220.1,1661.1 L1221.6,1661.1 L1223.1,1661.1 L1224.6,1661.1 L1226.1,1661.1 L1227.6,1661.1 L1229.1,1661.1 L1230.6,1661.1 L1232.1,1661.1 L1233.6,1661.1 L1235.1,1661.1 L1236.6,1661.1 L1238.1,1661.1 L1239.6,1661.1 L1241.1,1661.1 L1242.6,1661.1 L1244.1,1661.1 L1245.6,1661.1 L1247.1,1661.1 L1248.6,1661.1 L1250.1,1661.1 L1251.6,1661.1 L1253.1,1661.1 L1254.6,1661.1 L1256.1,1661.1 L1257.6,1661.1 L1259.1,1661.1 L1260.6,1661.1 L1262.1,1661.1 L1263.6,1661.1 L1265.1,1661.1 L1266.6,1661.1 L1268.1,1661.1 L1269.6,1661.1 L1271.1,1661.1 L1272.6,1661.1 L1274.1,1661.1 L1275.6,1661.1 L1277.1,1661.1 L1278.6,1661.1 L1280.1,1661.1 L1281.6,1661.1 L1283.1,1661.1 L1284.6,1661.1 L1286.1,1661.1 L1287.6,1661.1 L1289.1,1661.1 L1290.6,1661.1 L1292.1,1661.1 L1293.6,1661.1 L1295.1,1661.1 L1296.6,1661.1 L1296.6,1661.1Z" fill="#7CAE00" fill-opacity="0.30" stroke="#000" stroke-width="2.4" stroke-linejoin="round"/>
<path d="M197.8,1661.1 L197.8,1650.5 L199.3,1650.9 L200.8,1649.8 L202.3,1646.8 L203.8,1642.0 L205.3,1635.5 L206.8,1627.4 L208.3,1617.6 L209.8,1606.2 L211.3,1592.2 L212.8,1572.5 L214.3,1548.3 L215.8,1522.7 L217.3,1498.9 L218.8,1479.2 L220.3,1462.6 L221.8,1447.4 L223.3,1432.6 L224.8,1417.6 L226.3,1402.4 L227.8,1387.1 L229.3,1371.2 L230.8,1353.8 L232.3,1334.9 L233.8,1316.2 L235.3,1299.4 L236.8,1284.7 L238.3,1270.6 L239.8,1257.3 L241.3,1245.8 L242.8,1236.9 L244.3,1231.5 L245.8,1230.0 L247.3,1231.5 L248.8,1235.5 L250.3,1241.4 L251.8,1248.8 L253.3,1257.3 L254.8,1267.1 L256.3,1278.4 L257.8,1290.3 L259.3,1301.9 L260.8,1312.7 L262.3,1323.5 L263.8,1335.0 L265.4,1348.5 L266.9,1364.1 L268.4,1379.9 L269.9,1393.8 L271.4,1405.7 L272.9,1415.4 L274.4,1422.3 L275.9,1428.0 L277.4,1433.1 L278.9,1437.3 L280.4,1440.5 L281.9,1443.0 L283.4,1445.4 L284.9,1447.8 L286.4,1449.9 L287.9,1451.7 L289.4,1453.0 L290.9,1453.8 L292.4,1454.3 L293.9,1454.7 L295.4,1455.1 L296.9,1455.5 L298.4,1455.8 L299.9,1456.1 L301.4,1456.3 L302.9,1456.6 L304.4,1456.9 L305.9,1457.7 L307.4,1459.9 L308.9,1463.1 L310.4,1467.0 L311.9,1470.9 L313.4,1474.6 L314.9,1478.1 L316.4,1481.7 L317.9,1485.5 L319.4,1489.4 L320.9,1493.5 L322.4,1497.9 L323.9,1502.5 L325.4,1507.5 L326.9,1512.9 L328.4,1519.0 L329.9,1525.9 L331.4,1533.4 L332.9,1541.2 L334.4,1549.1 L335.9,1556.9 L337.4,1564.6 L338.9,1572.0 L340.4,1579.4 L341.9,1586.8 L343.4,1594.2 L344.9,1601.9 L346.4,1610.0 L347.9,1619.5 L349.4,1629.6 L350.9,1638.9 L352.4,1646.1 L353.9,1650.3 L355.4,1652.4 L356.9,1654.0 L358.4,1655.4 L359.9,1656.6 L361.4,1657.5 L362.9,1658.2 L364.4,1658.6 L365.9,1658.9 L367.4,1659.0 L368.9,1659.0 L370.4,1659.0 L371.9,1659.1 L373.4,1659.1 L374.9,1659.1 L376.4,1659.1 L377.9,1659.2 L379.4,1659.2 L380.9,1659.2 L382.4,1659.3 L383.9,1659.3 L385.4,1659.3 L386.9,1659.4 L388.4,1659.4 L389.9,1659.4 L391.4,1659.5 L392.9,1659.5 L394.4,1659.5 L395.9,1659.6 L397.4,1659.6 L399.0,1659.6 L400.5,1659.7 L402.0,1659.7 L403.5,1659.7 L405.0,1659.7 L406.5,1659.8 L408.0,1659.8 L409.5,1659.8 L411.0,1659.8 L412.5,1659.8 L414.0,1659.8 L415.5,1659.8 L417.0,1659.8 L418.5,1659.9 L420.0,1659.9 L421.5,1659.9 L423.0,1659.8 L424.5,1659.8 L426.0,1659.8 L427.5,1659.8 L429.0,1659.8 L430.5,1659.8 L432.0,1659.7 L433.5,1659.7 L435.0,1659.7 L436.5,1659.6 L438.0,1659.6 L439.5,1659.5 L441.0,1659.5 L442.5,1659.4 L444.0,1659.4 L445.5,1659.3 L447.0,1659.2 L448.5,1659.1 L450.0,1659.0 L451.5,1659.0 L453.0,1658.9 L454.5,1658.8 L456.0,1658.7 L457.5,1658.5 L459.0,1658.4 L460.5,1658.3 L462.0,1658.2 L463.5,1658.1 L465.0,1657.9 L466.5,1657.8 L468.0,1657.7 L469.5,1657.5 L471.0,1657.4 L472.5,1657.2 L474.0,1657.1 L475.5,1656.9 L477.0,1656.7 L478.5,1656.6 L480.0,1656.4 L481.5,1656.2 L483.0,1656.0 L484.5,1655.8 L486.0,1655.6 L487.5,1655.4 L489.0,1655.2 L490.5,1655.0 L492.0,1654.8 L493.5,1654.6 L495.0,1654.4 L496.5,1654.2 L498.0,1654.0 L499.5,1653.7 L501.0,1653.5 L502.5,1653.3 L504.0,1653.0 L505.5,1652.8 L507.0,1652.5 L508.5,1652.3 L510.0,1652.0 L511.5,1651.8 L513.0,1651.5 L514.5,1651.2 L516.0,1651.0 L517.5,1650.7 L519.0,1650.4 L520.5,1650.0 L522.0,1649.4 L523.5,1648.6 L525.0,1647.6 L526.5,1646.6 L528.0,1645.3 L529.5,1644.0 L531.1,1642.6 L532.6,1641.1 L534.1,1639.6 L535.6,1638.1 L537.1,1636.6 L538.6,1635.1 L540.1,1633.6 L541.6,1632.2 L543.1,1630.8 L544.6,1629.6 L546.1,1628.5 L547.6,1627.5 L549.1,1626.7 L550.6,1626.1 L552.1,1625.7 L553.6,1625.5 L555.1,1625.5 L556.6,1625.8 L558.1,1626.4 L559.6,1627.3 L561.1,1628.3 L562.6,1629.5 L564.1,1630.9 L565.6,1632.4 L567.1,1634.1 L568.6,1635.7 L570.1,1637.5 L571.6,1639.3 L573.1,1641.0 L574.6,1642.8 L576.1,1644.5 L577.6,1646.1 L579.1,1647.6 L580.6,1648.9 L582.1,1650.1 L583.6,1651.2 L585.1,1652.0 L586.6,1652.5 L588.1,1653.0 L589.6,1653.4 L591.1,1653.8 L592.6,1654.2 L594.1,1654.6 L595.6,1655.0 L597.1,1655.4 L598.6,1655.7 L600.1,1656.1 L601.6,1656.4 L603.1,1656.7 L604.6,1657.0 L606.1,1657.3 L607.6,1657.6 L609.1,1657.8 L610.6,1658.0 L612.1,1658.2 L613.6,1658.4 L615.1,1658.6 L616.6,1658.7 L618.1,1658.8 L619.6,1658.9 L621.1,1659.0 L622.6,1659.0 L624.1,1659.1 L625.6,1659.2 L627.1,1659.2 L628.6,1659.3 L630.1,1659.3 L631.6,1659.4 L633.1,1659.5 L634.6,1659.5 L636.1,1659.6 L637.6,1659.6 L639.1,1659.7 L640.6,1659.8 L642.1,1659.8 L643.6,1659.9 L645.1,1659.9 L646.6,1660.0 L648.1,1660.0 L649.6,1660.1 L651.1,1660.2 L652.6,1660.2 L654.1,1660.3 L655.6,1660.3 L657.1,1660.4 L658.6,1660.4 L660.1,1660.5 L661.6,1660.6 L663.1,1660.6 L664.7,1660.7 L666.2,1660.7 L667.7,1660.8 L669.2,1660.9 L670.7,1660.9 L672.2,1661.0 L673.7,1661.0 L675.2,1661.1 L676.7,1661.1 L678.2,1661.1 L679.7,1661.1 L681.2,1661.1 L682.7,1661.1 L684.2,1661.1 L685.7,1661.1 L687.2,1661.1 L688.7,1661.1 L690.2,1661.1 L691.7,1661.1 L693.2,1661.1 L694.7,1661.1 L696.2,1661.1 L697.7,1661.1 L699.2,1661.1 L700.7,1661.1 L702.2,1661.1 L703.7,1661.1 L705.2,1661.1 L706.7,1661.1 L708.2,1661.1 L709.7,1661.1 L711.2,1661.1 L712.7,1661.1 L714.2,1661.1 L715.7,1661.1 L717.2,1661.1 L718.7,1661.1 L720.2,1661.1 L721.7,1661.1 L723.2,1661.1 L724.7,1661.1 L726.2,1661.1 L727.7,1661.1 L729.2,1661.1 L730.7,1661.1 L732.2,1661.1 L733.7,1661.1 L735.2,1661.1 L736.7,1661.1 L738.2,1661.1 L739.7,1661.1 L741.2,1661.1 L742.7,1661.1 L744.2,1661.1 L745.7,1661.1 L747.2,1661.1 L748.7,1661.1 L750.2,1661.1 L751.7,1661.1 L753.2,1661.1 L754.7,1661.1 L756.2,1661.1 L757.7,1661.1 L759.2,1661.1 L760.7,1661.1 L762.2,1661.1 L763.7,1661.1 L765.2,1661.1 L766.7,1661.1 L768.2,1661.1 L769.7,1661.1 L771.2,1661.1 L772.7,1661.1 L774.2,1661.1 L775.7,1661.1 L777.2,1661.1 L778.7,1661.1 L780.2,1661.1 L781.7,1661.1 L783.2,1661.1 L784.7,1661.1 L786.2,1661.1 L787.7,1661.1 L789.2,1661.1 L790.7,1661.1 L792.2,1661.1 L793.7,1661.1 L795.2,1661.1 L796.7,1661.1 L798.3,1661.1 L799.8,1661.1 L801.3,1661.1 L802.8,1661.1 L804.3,1661.1 L805.8,1661.1 L807.3,1661.1 L808.8,1661.1 L810.3,1661.1 L811.8,1661.1 L813.3,1661.1 L814.8,1661.1 L816.3,1661.1 L817.8,1661.1 L819.3,1661.1 L820.8,1661.1 L822.3,1661.1 L823.8,1661.1 L825.3,1661.1 L826.8,1661.1 L828.3,1661.1 L829.8,1661.1 L831.3,1661.1 L832.8,1661.1 L834.3,1661.1 L835.8,1661.1 L837.3,1661.1 L838.8,1661.1 L840.3,1661.1 L841.8,1661.1 L843.3,1661.1 L844.8,1661.1 L846.3,1661.1 L847.8,1661.1 L849.3,1661.1 L850.8,1661.1 L852.3,1661.1 L853.8,1661.1 L855.3,1661.1 L856.8,1661.1 L858.3,1661.1 L859.8,1661.1 L861.3,1661.1 L862.8,1661.1 L864.3,1661.1 L865.8,1661.1 L867.3,1661.1 L868.8,1661.1 L870.3,1661.1 L871.8,1661.1 L873.3,1661.1 L874.8,1661.1 L876.3,1661.1 L877.8,1661.1 L879.3,1661.1 L880.8,1661.1 L882.3,1661.1 L883.8,1661.1 L885.3,1661.1 L886.8,1661.1 L888.3,1661.1 L889.8,1661.1 L891.3,1661.1 L892.8,1661.1 L894.3,1661.1 L895.8,1661.1 L897.3,1661.1 L898.8,1661.1 L900.3,1661.1 L901.8,1661.1 L903.3,1661.1 L904.8,1661.1 L906.3,1661.1 L907.8,1661.1 L909.3,1661.1 L910.8,1661.1 L912.3,1661.1 L913.8,1661.1 L915.3,1661.1 L916.8,1661.1 L918.3,1661.1 L919.8,1661.1 L921.3,1661.1 L922.8,1661.1 L924.3,1661.1 L925.8,1661.1 L927.3,1661.1 L928.8,1661.1 L930.4,1661.1 L931.9,1661.1 L933.4,1661.1 L934.9,1661.1 L936.4,1661.1 L937.9,1661.1 L939.4,1661.1 L940.9,1661.1 L942.4,1661.1 L943.9,1661.1 L945.4,1661.1 L946.9,1661.1 L948.4,1661.1 L949.9,1661.1 L951.4,1661.1 L952.9,1661.1 L954.4,1661.1 L955.9,1661.1 L957.4,1661.1 L958.9,1661.1 L960.4,1661.1 L961.9,1661.1 L963.4,1661.1 L964.9,1661.1 L966.4,1661.1 L967.9,1661.1 L969.4,1661.1 L970.9,1661.1 L972.4,1661.1 L973.9,1661.1 L975.4,1661.1 L976.9,1661.1 L978.4,1661.1 L979.9,1661.1 L981.4,1661.1 L982.9,1661.1 L984.4,1661.1 L985.9,1661.1 L987.4,1661.1 L988.9,1661.1 L990.4,1661.1 L991.9,1661.1 L993.4,1661.1 L994.9,1661.1 L996.4,1661.1 L997.9,1661.1 L999.4,1661.1 L1000.9,1661.1 L1002.4,1661.1 L1003.9,1661.1 L1005.4,1661.1 L1006.9,1661.1 L1008.4,1661.1 L1009.9,1661.1 L1011.4,1661.1 L1012.9,1661.1 L1014.4,1661.1 L1015.9,1661.1 L1017.4,1661.1 L1018.9,1661.1 L1020.4,1661.1 L1021.9,1661.1 L1023.4,1661.1 L1024.9,1661.1 L1026.4,1661.1 L1027.9,1661.1 L1029.4,1661.1 L1030.9,1661.1 L1032.4,1661.1 L1033.9,1661.1 L1035.4,1661.1 L1036.9,1661.1 L1038.4,1661.1 L1039.9,1661.1 L1041.4,1661.1 L1042.9,1661.1 L1044.4,1661.1 L1045.9,1661.1 L1047.4,1661.1 L1048.9,1661.1 L1050.4,1661.1 L1051.9,1661.1 L1053.4,1661.1 L1054.9,1661.1 L1056.4,1661.1 L1057.9,1661.1 L1059.4,1661.1 L1060.9,1661.1 L1062.4,1661.1 L1064.0,1661.1 L1065.5,1661.1 L1067.0,1661.1 L1068.5,1661.1 L1070.0,1661.1 L1071.5,1661.1 L1073.0,1661.1 L1074.5,1661.1 L1076.0,1661.1 L1077.5,1661.1 L1079.0,1661.1 L1080.5,1661.1 L1082.0,1661.1 L1083.5,1661.1 L1085.0,1661.1 L1086.5,1661.1 L1088.0,1661.1 L1089.5,1661.1 L1091.0,1661.1 L1092.5,1661.1 L1094.0,1661.1 L1095.5,1661.1 L1097.0,1661.1 L1098.5,1661.1 L1100.0,1661.1 L1101.5,1661.1 L1103.0,1661.1 L1104.5,1661.1 L1106.0,1661.1 L1107.5,1661.1 L1109.0,1661.1 L1110.5,1661.1 L1112.0,1661.1 L1113.5,1661.1 L1115.0,1661.1 L1116.5,1661.1 L1118.0,1661.1 L1119.5,1661.1 L1121.0,1661.1 L1122.5,1661.1 L1124.0,1661.1 L1125.5,1661.1 L1127.0,1661.1 L1128.5,1661.1 L1130.0,1661.1 L1131.5,1661.1 L1133.0,1661.1 L1134.5,1661.1 L1136.0,1661.1 L1137.5,1661.1 L1139.0,1661.1 L1140.5,1661.1 L1142.0,1661.1 L1143.5,1661.1 L1145.0,1661.1 L1146.5,1661.1 L1148.0,1661.1 L1149.5,1661.1 L1151.0,1661.1 L1152.5,1661.1 L1154.0,1661.1 L1155.5,1661.1 L1157.0,1661.1 L1158.5,1661.1 L1160.0,1661.1 L1161.5,1661.1 L1163.0,1661.1 L1164.5,1661.1 L1166.0,1661.1 L1167.5,1661.1 L1169.0,1661.1 L1170.5,1661.1 L1172.0,1661.1 L1173.5,1661.1 L1175.0,1661.1 L1176.5,1661.1 L1178.0,1661.1 L1179.5,1661.1 L1181.0,1661.1 L1182.5,1661.1 L1184.0,1661.1 L1185.5,1661.1 L1187.0,1661.1 L1188.5,1661.1 L1190.0,1661.1 L1191.5,1661.1 L1193.0,1661.1 L1194.5,1661.1 L1196.0,1661.1 L1197.6,1661.1 L1199.1,1661.1 L1200.6,1661.1 L1202.1,1661.1 L1203.6,1661.1 L1205.1,1661.1 L1206.6,1661.1 L1208.1,1661.1 L1209.6,1661.1 L1211.1,1661.1 L1212.6,1661.1 L1214.1,1661.1 L1215.6,1661.1 L1217.1,1661.1 L1218.6,1661.1 L1220.1,1661.1 L1221.6,1661.1 L1223.1,1661.1 L1224.6,1661.1 L1226.1,1661.1 L1227.6,1661.1 L1229.1,1661.1 L1230.6,1661.1 L1232.1,1661.1 L1233.6,1661.1 L1235.1,1661.1 L1236.6,1661.1 L1238.1,1661.1 L1239.6,1661.1 L1241.1,1661.1 L1242.6,1661.1 L1244.1,1661.1 L1245.6,1661.1 L1247.1,1661.1 L1248.6,1661.1 L1250.1,1661.1 L1251.6,1661.1 L1253.1,1661.1 L1254.6,1661.1 L1256.1,1661.1 L1257.6,1661.1 L1259.1,1661.1 L1260.6,1661.1 L1262.1,1661.1 L1263.6,1661.1 L1265.1,1661.1 L1266.6,1661.1 L1268.1,1661.1 L1269.6,1661.1 L1271.1,1661.1 L1272.6,1661.1 L1274.1,1661.1 L1275.6,1661.1 L1277.1,1661.1 L1278.6,1661.1 L1280.1,1661.1 L1281.6,1661.1 L1283.1,1661.1 L1284.6,1661.1 L1286.1,1661.1 L1287.6,1661.1 L1289.1,1661.1 L1290.6,1661.1 L1292.1,1661.1 L1293.6,1661.1 L1295.1,1661.1 L1296.6,1661.1 L1296.6,1661.1Z" fill="#00BE67" fill-opacity="0.30" stroke="#000" stroke-width="2.4" stroke-linejoin="round"/>
<path d="M197.8,1661.1 L197.8,1462.4 L199.3,1455.3 L200.8,1448.4 L202.3,1442.9 L203.8,1437.9 L205.3,1433.2 L206.8,1429.2 L208.3,1426.1 L209.8,1423.9 L211.3,1422.0 L212.8,1420.3 L214.3,1418.8 L215.8,1417.7 L217.3,1417.0 L218.8,1416.8 L220.3,1417.0 L221.8,1417.7 L223.3,1418.7 L224.8,1420.0 L226.3,1421.5 L227.8,1423.3 L229.3,1425.3 L230.8,1427.4 L232.3,1429.8 L233.8,1432.9 L235.3,1436.7 L236.8,1441.0 L238.3,1445.8 L239.8,1450.8 L241.3,1455.9 L242.8,1461.1 L244.3,1466.6 L245.8,1472.6 L247.3,1478.7 L248.8,1484.9 L250.3,1490.9 L251.8,1496.6 L253.3,1502.3 L254.8,1508.0 L256.3,1513.6 L257.8,1519.0 L259.3,1524.2 L260.8,1529.1 L262.3,1533.7 L263.8,1538.1 L265.4,1542.4 L266.9,1546.7 L268.4,1550.8 L269.9,1554.7 L271.4,1558.5 L272.9,1562.1 L274.4,1565.6 L275.9,1568.7 L277.4,1571.7 L278.9,1574.4 L280.4,1577.1 L281.9,1579.7 L283.4,1582.3 L284.9,1584.8 L286.4,1587.1 L287.9,1589.3 L289.4,1591.4 L290.9,1593.3 L292.4,1594.9 L293.9,1596.4 L295.4,1597.7 L296.9,1599.1 L298.4,1600.4 L299.9,1601.6 L301.4,1602.8 L302.9,1603.9 L304.4,1605.0 L305.9,1605.9 L307.4,1606.7 L308.9,1607.3 L310.4,1607.8 L311.9,1608.3 L313.4,1608.8 L314.9,1609.2 L316.4,1609.7 L317.9,1610.0 L319.4,1610.4 L320.9,1610.6 L322.4,1610.8 L323.9,1610.9 L325.4,1610.9 L326.9,1610.8 L328.4,1610.6 L329.9,1610.3 L331.4,1610.0 L332.9,1609.6 L334.4,1609.1 L335.9,1608.6 L337.4,1608.0 L338.9,1607.4 L340.4,1606.8 L341.9,1606.1 L343.4,1605.4 L344.9,1604.7 L346.4,1603.9 L347.9,1603.0 L349.4,1602.0 L350.9,1601.0 L352.4,1600.0 L353.9,1598.8 L355.4,1597.7 L356.9,1596.5 L358.4,1595.4 L359.9,1594.2 L361.4,1593.0 L362.9,1591.8 L364.4,1590.6 L365.9,1589.4 L367.4,1588.1 L368.9,1586.7 L370.4,1585.4 L371.9,1584.0 L373.4,1582.7 L374.9,1581.4 L376.4,1580.2 L377.9,1578.9 L379.4,1577.6 L380.9,1576.2 L382.4,1574.8 L383.9,1573.4 L385.4,1572.0 L386.9,1570.8 L388.4,1569.6 L389.9,1568.5 L391.4,1567.6 L392.9,1566.9 L394.4,1566.4 L395.9,1566.1 L397.4,1566.1 L399.0,1566.4 L400.5,1567.0 L402.0,1567.9 L403.5,1569.0 L405.0,1570.3 L406.5,1571.8 L408.0,1573.3 L409.5,1575.0 L411.0,1576.6 L412.5,1578.3 L414.0,1579.9 L415.5,1581.5 L417.0,1582.9 L418.5,1584.4 L420.0,1586.0 L421.5,1587.5 L423.0,1589.1 L424.5,1590.7 L426.0,1592.3 L427.5,1593.9 L429.0,1595.5 L430.5,1597.1 L432.0,1598.7 L433.5,1600.2 L435.0,1601.8 L436.5,1603.3 L438.0,1604.9 L439.5,1606.4 L441.0,1607.9 L442.5,1609.4 L444.0,1610.9 L445.5,1612.4 L447.0,1613.9 L448.5,1615.5 L450.0,1617.0 L451.5,1618.5 L453.0,1620.0 L454.5,1621.6 L456.0,1623.2 L457.5,1624.7 L459.0,1626.3 L460.5,1627.9 L462.0,1629.4 L463.5,1630.9 L465.0,1632.4 L466.5,1633.8 L468.0,1635.2 L469.5,1636.5 L471.0,1637.9 L472.5,1639.2 L474.0,1640.4 L475.5,1641.7 L477.0,1642.9 L478.5,1644.0 L480.0,1645.1 L481.5,1646.1 L483.0,1647.1 L484.5,1647.9 L486.0,1648.7 L487.5,1649.4 L489.0,1650.2 L490.5,1650.9 L492.0,1651.6 L493.5,1652.2 L495.0,1652.8 L496.5,1653.4 L498.0,1653.8 L499.5,1654.2 L501.0,1654.5 L502.5,1654.7 L504.0,1654.9 L505.5,1655.1 L507.0,1655.3 L508.5,1655.4 L510.0,1655.6 L511.5,1655.8 L513.0,1656.0 L514.5,1656.1 L516.0,1656.3 L517.5,1656.5 L519.0,1656.6 L520.5,1656.8 L522.0,1656.9 L523.5,1657.1 L525.0,1657.2 L526.5,1657.4 L528.0,1657.5 L529.5,1657.7 L531.1,1657.8 L532.6,1657.9 L534.1,1658.0 L535.6,1658.1 L537.1,1658.3 L538.6,1658.4 L540.1,1658.5 L541.6,1658.5 L543.1,1658.6 L544.6,1658.7 L546.1,1658.8 L547.6,1658.8 L549.1,1658.9 L550.6,1658.9 L552.1,1658.9 L553.6,1659.0 L555.1,1659.0 L556.6,1659.0 L558.1,1659.1 L559.6,1659.1 L561.1,1659.1 L562.6,1659.1 L564.1,1659.2 L565.6,1659.2 L567.1,1659.2 L568.6,1659.2 L570.1,1659.3 L571.6,1659.3 L573.1,1659.3 L574.6,1659.3 L576.1,1659.4 L577.6,1659.4 L579.1,1659.4 L580.6,1659.5 L582.1,1659.5 L583.6,1659.5 L585.1,1659.5 L586.6,1659.6 L588.1,1659.6 L589.6,1659.6 L591.1,1659.6 L592.6,1659.7 L594.1,1659.7 L595.6,1659.7 L597.1,1659.8 L598.6,1659.8 L600.1,1659.8 L601.6,1659.8 L603.1,1659.9 L604.6,1659.9 L606.1,1659.9 L607.6,1659.9 L609.1,1660.0 L610.6,1660.0 L612.1,1660.0 L613.6,1660.1 L615.1,1660.1 L616.6,1660.1 L618.1,1660.1 L619.6,1660.2 L621.1,1660.2 L622.6,1660.2 L624.1,1660.2 L625.6,1660.3 L627.1,1660.3 L628.6,1660.3 L630.1,1660.3 L631.6,1660.4 L633.1,1660.4 L634.6,1660.4 L636.1,1660.4 L637.6,1660.4 L639.1,1660.5 L640.6,1660.5 L642.1,1660.5 L643.6,1660.5 L645.1,1660.6 L646.6,1660.6 L648.1,1660.6 L649.6,1660.6 L651.1,1660.6 L652.6,1660.7 L654.1,1660.7 L655.6,1660.7 L657.1,1660.7 L658.6,1660.7 L660.1,1660.8 L661.6,1660.8 L663.1,1660.8 L664.7,1660.8 L666.2,1660.8 L667.7,1660.8 L669.2,1660.9 L670.7,1660.9 L672.2,1660.9 L673.7,1660.9 L675.2,1660.9 L676.7,1660.9 L678.2,1661.0 L679.7,1661.0 L681.2,1661.0 L682.7,1661.0 L684.2,1661.0 L685.7,1661.0 L687.2,1661.0 L688.7,1661.0 L690.2,1661.0 L691.7,1661.0 L693.2,1661.1 L694.7,1661.1 L696.2,1661.1 L697.7,1661.1 L699.2,1661.1 L700.7,1661.1 L702.2,1661.1 L703.7,1661.1 L705.2,1661.1 L706.7,1661.1 L708.2,1661.1 L709.7,1661.1 L711.2,1661.1 L712.7,1661.1 L714.2,1661.1 L715.7,1661.1 L717.2,1661.1 L718.7,1661.1 L720.2,1661.1 L721.7,1661.1 L723.2,1661.1 L724.7,1661.1 L726.2,1661.1 L727.7,1661.1 L729.2,1661.1 L730.7,1661.1 L732.2,1661.1 L733.7,1661.1 L735.2,1661.1 L736.7,1661.1 L738.2,1661.1 L739.7,1661.1 L741.2,1661.1 L742.7,1661.1 L744.2,1661.1 L745.7,1661.1 L747.2,1661.1 L748.7,1661.1 L750.2,1661.1 L751.7,1661.1 L753.2,1661.1 L754.7,1661.1 L756.2,1661.1 L757.7,1661.1 L759.2,1661.1 L760.7,1661.1 L762.2,1661.1 L763.7,1661.1 L765.2,1661.1 L766.7,1661.1 L768.2,1661.1 L769.7,1661.1 L771.2,1661.1 L772.7,1661.1 L774.2,1661.1 L775.7,1661.1 L777.2,1661.1 L778.7,1661.1 L780.2,1661.1 L781.7,1661.1 L783.2,1661.1 L784.7,1661.1 L786.2,1661.1 L787.7,1661.1 L789.2,1661.1 L790.7,1661.1 L792.2,1661.1 L793.7,1661.1 L795.2,1661.1 L796.7,1661.1 L798.3,1661.1 L799.8,1661.1 L801.3,1661.1 L802.8,1661.1 L804.3,1661.1 L805.8,1661.1 L807.3,1661.1 L808.8,1661.1 L810.3,1661.1 L811.8,1661.1 L813.3,1661.1 L814.8,1661.1 L816.3,1661.1 L817.8,1661.1 L819.3,1661.1 L820.8,1661.1 L822.3,1661.1 L823.8,1661.1 L825.3,1661.1 L826.8,1661.1 L828.3,1661.1 L829.8,1661.1 L831.3,1661.1 L832.8,1661.1 L834.3,1661.1 L835.8,1661.1 L837.3,1661.1 L838.8,1661.1 L840.3,1661.1 L841.8,1661.1 L843.3,1661.1 L844.8,1661.1 L846.3,1661.1 L847.8,1661.1 L849.3,1661.1 L850.8,1661.1 L852.3,1661.1 L853.8,1661.1 L855.3,1661.1 L856.8,1661.1 L858.3,1661.1 L859.8,1661.1 L861.3,1661.1 L862.8,1661.1 L864.3,1661.1 L865.8,1661.1 L867.3,1661.1 L868.8,1661.1 L870.3,1661.1 L871.8,1661.1 L873.3,1661.1 L874.8,1661.1 L876.3,1661.1 L877.8,1661.1 L879.3,1661.1 L880.8,1661.1 L882.3,1661.1 L883.8,1661.1 L885.3,1661.1 L886.8,1661.1 L888.3,1661.1 L889.8,1661.1 L891.3,1661.1 L892.8,1661.1 L894.3,1661.1 L895.8,1661.1 L897.3,1661.1 L898.8,1661.1 L900.3,1661.1 L901.8,1661.1 L903.3,1661.1 L904.8,1661.1 L906.3,1661.1 L907.8,1661.1 L909.3,1661.1 L910.8,1661.1 L912.3,1661.1 L913.8,1661.1 L915.3,1661.1 L916.8,1661.1 L918.3,1661.1 L919.8,1661.1 L921.3,1661.1 L922.8,1661.1 L924.3,1661.1 L925.8,1661.1 L927.3,1661.1 L928.8,1661.1 L930.4,1661.1 L931.9,1661.1 L933.4,1661.1 L934.9,1661.1 L936.4,1661.1 L937.9,1661.1 L939.4,1661.1 L940.9,1661.1 L942.4,1661.1 L943.9,1661.1 L945.4,1661.1 L946.9,1661.1 L948.4,1661.1 L949.9,1661.1 L951.4,1661.1 L952.9,1661.1 L954.4,1661.1 L955.9,1661.1 L957.4,1661.1 L958.9,1661.1 L960.4,1661.1 L961.9,1661.1 L963.4,1661.1 L964.9,1661.1 L966.4,1661.1 L967.9,1661.1 L969.4,1661.1 L970.9,1661.1 L972.4,1661.1 L973.9,1661.1 L975.4,1661.1 L976.9,1661.1 L978.4,1661.1 L979.9,1661.1 L981.4,1661.1 L982.9,1661.1 L984.4,1661.1 L985.9,1661.1 L987.4,1661.1 L988.9,1661.1 L990.4,1661.1 L991.9,1661.1 L993.4,1661.1 L994.9,1661.1 L996.4,1661.1 L997.9,1661.1 L999.4,1661.1 L1000.9,1661.1 L1002.4,1661.1 L1003.9,1661.1 L1005.4,1661.1 L1006.9,1661.1 L1008.4,1661.1 L1009.9,1661.1 L1011.4,1661.1 L1012.9,1661.1 L1014.4,1661.1 L1015.9,1661.1 L1017.4,1661.1 L1018.9,1661.1 L1020.4,1661.1 L1021.9,1661.1 L1023.4,1661.1 L1024.9,1661.1 L1026.4,1661.1 L1027.9,1661.1 L1029.4,1661.1 L1030.9,1661.1 L1032.4,1661.1 L1033.9,1661.1 L1035.4,1661.1 L1036.9,1661.1 L1038.4,1661.1 L1039.9,1661.1 L1041.4,1661.1 L1042.9,1661.1 L1044.4,1661.1 L1045.9,1661.1 L1047.4,1661.1 L1048.9,1661.1 L1050.4,1661.1 L1051.9,1661.1 L1053.4,1661.1 L1054.9,1661.1 L1056.4,1661.1 L1057.9,1661.1 L1059.4,1661.1 L1060.9,1661.1 L1062.4,1661.1 L1064.0,1661.1 L1065.5,1661.1 L1067.0,1661.1 L1068.5,1661.1 L1070.0,1661.1 L1071.5,1661.1 L1073.0,1661.1 L1074.5,1661.1 L1076.0,1661.1 L1077.5,1661.1 L1079.0,1661.1 L1080.5,1661.1 L1082.0,1661.1 L1083.5,1661.1 L1085.0,1661.1 L1086.5,1661.1 L1088.0,1661.1 L1089.5,1661.1 L1091.0,1661.1 L1092.5,1661.1 L1094.0,1661.1 L1095.5,1661.1 L1097.0,1661.1 L1098.5,1661.1 L1100.0,1661.1 L1101.5,1661.1 L1103.0,1661.1 L1104.5,1661.1 L1106.0,1661.1 L1107.5,1661.1 L1109.0,1661.1 L1110.5,1661.1 L1112.0,1661.1 L1113.5,1661.1 L1115.0,1661.1 L1116.5,1661.1 L1118.0,1661.1 L1119.5,1661.1 L1121.0,1661.1 L1122.5,1661.1 L1124.0,1661.1 L1125.5,1661.1 L1127.0,1661.1 L1128.5,1661.1 L1130.0,1661.1 L1131.5,1661.1 L1133.0,1661.1 L1134.5,1661.1 L1136.0,1661.1 L1137.5,1661.1 L1139.0,1661.1 L1140.5,1661.1 L1142.0,1661.1 L1143.5,1661.1 L1145.0,1661.1 L1146.5,1661.1 L1148.0,1661.1 L1149.5,1661.1 L1151.0,1661.1 L1152.5,1661.1 L1154.0,1661.1 L1155.5,1661.1 L1157.0,1661.1 L1158.5,1661.1 L1160.0,1661.1 L1161.5,1661.1 L1163.0,1661.1 L1164.5,1661.1 L1166.0,1661.1 L1167.5,1661.1 L1169.0,1661.1 L1170.5,1661.1 L1172.0,1661.1 L1173.5,1661.1 L1175.0,1661.1 L1176.5,1661.1 L1178.0,1661.1 L1179.5,1661.1 L1181.0,1661.1 L1182.5,1661.1 L1184.0,1661.1 L1185.5,1661.1 L1187.0,1661.1 L1188.5,1661.1 L1190.0,1661.1 L1191.5,1661.1 L1193.0,1661.1 L1194.5,1661.1 L1196.0,1661.1 L1197.6,1661.1 L1199.1,1661.1 L1200.6,1661.1 L1202.1,1661.1 L1203.6,1661.1 L1205.1,1661.1 L1206.6,1661.1 L1208.1,1661.1 L1209.6,1661.1 L1211.1,1661.1 L1212.6,1661.1 L1214.1,1661.1 L1215.6,1661.1 L1217.1,1661.1 L1218.6,1661.1 L1220.1,1661.1 L1221.6,1661.1 L1223.1,1661.1 L1224.6,1661.1 L1226.1,1661.1 L1227.6,1661.1 L1229.1,1661.1 L1230.6,1661.1 L1232.1,1661.1 L1233.6,1661.1 L1235.1,1661.1 L1236.6,1661.1 L1238.1,1661.1 L1239.6,1661.1 L1241.1,1661.1 L1242.6,1661.1 L1244.1,1661.1 L1245.6,1661.1 L1247.1,1661.1 L1248.6,1661.1 L1250.1,1661.1 L1251.6,1661.1 L1253.1,1661.1 L1254.6,1661.1 L1256.1,1661.1 L1257.6,1661.1 L1259.1,1661.1 L1260.6,1661.1 L1262.1,1661.1 L1263.6,1661.1 L1265.1,1661.1 L1266.6,1661.1 L1268.1,1661.1 L1269.6,1661.1 L1271.1,1661.1 L1272.6,1661.1 L1274.1,1661.1 L1275.6,1661.1 L1277.1,1661.1 L1278.6,1661.1 L1280.1,1661.1 L1281.6,1661.1 L1283.1,1661.1 L1284.6,1661.1 L1286.1,1661.1 L1287.6,1661.1 L1289.1,1661.1 L1290.6,1661.1 L1292.1,1661.1 L1293.6,1661.1 L1295.1,1661.1 L1296.6,1661.1 L1296.6,1661.1Z" fill="#00BFC4" fill-opacity="0.30" stroke="#000" stroke-width="2.4" stroke-linejoin="round"/>
<path d="M197.8,1661.1 L197.8,1652.4 L199.3,1651.6 L200.8,1650.7 L202.3,1649.7 L203.8,1648.7 L205.3,1647.8 L206.8,1646.8 L208.3,1645.8 L209.8,1644.8 L211.3,1643.8 L212.8,1642.7 L214.3,1641.7 L215.8,1640.7 L217.3,1639.6 L218.8,1638.6 L220.3,1637.6 L221.8,1636.5 L223.3,1635.5 L224.8,1634.4 L226.3,1633.4 L227.8,1632.4 L229.3,1631.3 L230.8,1630.3 L232.3,1629.3 L233.8,1628.2 L235.3,1627.2 L236.8,1626.1 L238.3,1625.0 L239.8,1623.9 L241.3,1622.8 L242.8,1621.6 L244.3,1620.4 L245.8,1619.2 L247.3,1618.0 L248.8,1616.8 L250.3,1615.5 L251.8,1614.1 L253.3,1612.8 L254.8,1611.3 L256.3,1609.8 L257.8,1608.2 L259.3,1606.5 L260.8,1604.7 L262.3,1602.8 L263.8,1600.9 L265.4,1598.9 L266.9,1596.9 L268.4,1594.9 L269.9,1592.8 L271.4,1590.7 L272.9,1588.7 L274.4,1586.6 L275.9,1584.6 L277.4,1582.6 L278.9,1580.7 L280.4,1578.8 L281.9,1577.0 L283.4,1575.2 L284.9,1573.5 L286.4,1571.9 L287.9,1570.3 L289.4,1568.7 L290.9,1567.1 L292.4,1565.6 L293.9,1564.3 L295.4,1563.0 L296.9,1561.9 L298.4,1561.1 L299.9,1560.4 L301.4,1559.9 L302.9,1559.3 L304.4,1558.8 L305.9,1558.4 L307.4,1558.1 L308.9,1557.9 L310.4,1557.9 L311.9,1558.0 L313.4,1558.2 L314.9,1558.5 L316.4,1558.8 L317.9,1559.2 L319.4,1559.5 L320.9,1559.9 L322.4,1560.3 L323.9,1560.7 L325.4,1561.1 L326.9,1561.6 L328.4,1562.0 L329.9,1562.5 L331.4,1563.0 L332.9,1563.5 L334.4,1564.0 L335.9,1564.6 L337.4,1565.2 L338.9,1565.8 L340.4,1566.5 L341.9,1567.2 L343.4,1568.0 L344.9,1568.7 L346.4,1569.5 L347.9,1570.3 L349.4,1571.1 L350.9,1571.9 L352.4,1572.8 L353.9,1573.6 L355.4,1574.4 L356.9,1575.1 L358.4,1575.9 L359.9,1576.6 L361.4,1577.3 L362.9,1578.0 L364.4,1578.7 L365.9,1579.4 L367.4,1580.1 L368.9,1580.8 L370.4,1581.5 L371.9,1582.1 L373.4,1582.8 L374.9,1583.4 L376.4,1584.1 L377.9,1584.7 L379.4,1585.3 L380.9,1585.9 L382.4,1586.4 L383.9,1587.0 L385.4,1587.5 L386.9,1588.0 L388.4,1588.5 L389.9,1589.0 L391.4,1589.5 L392.9,1589.9 L394.4,1590.4 L395.9,1590.9 L397.4,1591.3 L399.0,1591.8 L400.5,1592.2 L402.0,1592.6 L403.5,1593.1 L405.0,1593.5 L406.5,1593.9 L408.0,1594.4 L409.5,1594.8 L411.0,1595.2 L412.5,1595.6 L414.0,1596.0 L415.5,1596.4 L417.0,1596.8 L418.5,1597.2 L420.0,1597.6 L421.5,1598.0 L423.0,1598.3 L424.5,1598.7 L426.0,1599.0 L427.5,1599.3 L429.0,1599.7 L430.5,1600.0 L432.0,1600.3 L433.5,1600.7 L435.0,1601.0 L436.5,1601.4 L438.0,1601.7 L439.5,1602.1 L441.0,1602.5 L442.5,1602.9 L444.0,1603.3 L445.5,1603.7 L447.0,1604.1 L448.5,1604.6 L450.0,1605.1 L451.5,1605.6 L453.0,1606.1 L454.5,1606.7 L456.0,1607.3 L457.5,1607.8 L459.0,1608.5 L460.5,1609.1 L462.0,1609.7 L463.5,1610.3 L465.0,1611.0 L466.5,1611.6 L468.0,1612.3 L469.5,1612.9 L471.0,1613.5 L472.5,1614.2 L474.0,1614.8 L475.5,1615.4 L477.0,1616.0 L478.5,1616.6 L480.0,1617.2 L481.5,1617.8 L483.0,1618.3 L484.5,1618.9 L486.0,1619.5 L487.5,1620.1 L489.0,1620.7 L490.5,1621.2 L492.0,1621.8 L493.5,1622.4 L495.0,1623.0 L496.5,1623.6 L498.0,1624.1 L499.5,1624.7 L501.0,1625.2 L502.5,1625.8 L504.0,1626.3 L505.5,1626.8 L507.0,1627.4 L508.5,1627.9 L510.0,1628.4 L511.5,1628.8 L513.0,1629.3 L514.5,1629.7 L516.0,1630.2 L517.5,1630.6 L519.0,1630.9 L520.5,1631.3 L522.0,1631.7 L523.5,1632.0 L525.0,1632.3 L526.5,1632.6 L528.0,1632.9 L529.5,1633.1 L531.1,1633.3 L532.6,1633.5 L534.1,1633.7 L535.6,1633.8 L537.1,1634.0 L538.6,1634.0 L540.1,1634.1 L541.6,1634.1 L543.1,1634.1 L544.6,1634.1 L546.1,1634.0 L547.6,1633.9 L549.1,1633.8 L550.6,1633.6 L552.1,1633.4 L553.6,1633.2 L555.1,1632.9 L556.6,1632.5 L558.1,1632.0 L559.6,1631.5 L561.1,1630.9 L562.6,1630.3 L564.1,1629.6 L565.6,1628.9 L567.1,1628.1 L568.6,1627.4 L570.1,1626.6 L571.6,1625.8 L573.1,1625.0 L574.6,1624.2 L576.1,1623.5 L577.6,1622.7 L579.1,1622.0 L580.6,1621.2 L582.1,1620.4 L583.6,1619.6 L585.1,1618.7 L586.6,1617.8 L588.1,1616.9 L589.6,1616.1 L591.1,1615.2 L592.6,1614.3 L594.1,1613.5 L595.6,1612.7 L597.1,1611.9 L598.6,1611.2 L600.1,1610.5 L601.6,1609.9 L603.1,1609.4 L604.6,1608.8 L606.1,1608.3 L607.6,1607.8 L609.1,1607.3 L610.6,1606.8 L612.1,1606.3 L613.6,1605.9 L615.1,1605.5 L616.6,1605.1 L618.1,1604.7 L619.6,1604.4 L621.1,1604.1 L622.6,1603.9 L624.1,1603.7 L625.6,1603.5 L627.1,1603.4 L628.6,1603.3 L630.1,1603.3 L631.6,1603.4 L633.1,1603.5 L634.6,1603.7 L636.1,1603.9 L637.6,1604.1 L639.1,1604.4 L640.6,1604.7 L642.1,1605.0 L643.6,1605.3 L645.1,1605.7 L646.6,1606.1 L648.1,1606.6 L649.6,1607.0 L651.1,1607.5 L652.6,1607.9 L654.1,1608.4 L655.6,1608.9 L657.1,1609.4 L658.6,1610.0 L660.1,1610.5 L661.6,1611.0 L663.1,1611.5 L664.7,1612.0 L666.2,1612.5 L667.7,1613.1 L669.2,1613.6 L670.7,1614.2 L672.2,1614.9 L673.7,1615.6 L675.2,1616.3 L676.7,1617.1 L678.2,1617.9 L679.7,1618.7 L681.2,1619.5 L682.7,1620.3 L684.2,1621.1 L685.7,1621.9 L687.2,1622.7 L688.7,1623.4 L690.2,1624.0 L691.7,1624.6 L693.2,1625.2 L694.7,1625.6 L696.2,1626.0 L697.7,1626.3 L699.2,1626.4 L700.7,1626.5 L702.2,1626.5 L703.7,1626.6 L705.2,1626.5 L706.7,1626.5 L708.2,1626.4 L709.7,1626.3 L711.2,1626.2 L712.7,1626.0 L714.2,1625.8 L715.7,1625.6 L717.2,1625.4 L718.7,1625.2 L720.2,1625.0 L721.7,1624.7 L723.2,1624.5 L724.7,1624.2 L726.2,1623.9 L727.7,1623.6 L729.2,1623.3 L730.7,1623.0 L732.2,1622.7 L733.7,1622.4 L735.2,1622.1 L736.7,1621.8 L738.2,1621.5 L739.7,1621.2 L741.2,1620.9 L742.7,1620.6 L744.2,1620.3 L745.7,1620.0 L747.2,1619.7 L748.7,1619.4 L750.2,1619.1 L751.7,1618.8 L753.2,1618.4 L754.7,1618.1 L756.2,1617.7 L757.7,1617.4 L759.2,1617.0 L760.7,1616.6 L762.2,1616.3 L763.7,1615.9 L765.2,1615.6 L766.7,1615.3 L768.2,1614.9 L769.7,1614.6 L771.2,1614.3 L772.7,1614.0 L774.2,1613.8 L775.7,1613.5 L777.2,1613.3 L778.7,1613.1 L780.2,1612.9 L781.7,1612.8 L783.2,1612.8 L784.7,1612.8 L786.2,1612.9 L787.7,1613.1 L789.2,1613.2 L790.7,1613.5 L792.2,1613.8 L793.7,1614.1 L795.2,1614.4 L796.7,1614.8 L798.3,1615.3 L799.8,1615.7 L801.3,1616.2 L802.8,1616.7 L804.3,1617.2 L805.8,1617.7 L807.3,1618.2 L808.8,1618.7 L810.3,1619.3 L811.8,1620.0 L813.3,1620.8 L814.8,1621.6 L816.3,1622.5 L817.8,1623.5 L819.3,1624.5 L820.8,1625.5 L822.3,1626.6 L823.8,1627.6 L825.3,1628.7 L826.8,1629.7 L828.3,1630.8 L829.8,1631.7 L831.3,1632.7 L832.8,1633.6 L834.3,1634.4 L835.8,1635.3 L837.3,1636.3 L838.8,1637.2 L840.3,1638.2 L841.8,1639.1 L843.3,1640.1 L844.8,1641.0 L846.3,1641.9 L847.8,1642.7 L849.3,1643.5 L850.8,1644.2 L852.3,1644.8 L853.8,1645.4 L855.3,1645.8 L856.8,1646.2 L858.3,1646.4 L859.8,1646.5 L861.3,1646.7 L862.8,1646.8 L864.3,1646.9 L865.8,1647.0 L867.3,1647.0 L868.8,1647.1 L870.3,1647.1 L871.8,1647.1 L873.3,1647.1 L874.8,1647.1 L876.3,1647.0 L877.8,1647.0 L879.3,1646.9 L880.8,1646.8 L882.3,1646.7 L883.8,1646.6 L885.3,1646.5 L886.8,1646.3 L888.3,1646.2 L889.8,1646.0 L891.3,1645.9 L892.8,1645.7 L894.3,1645.5 L895.8,1645.4 L897.3,1645.2 L898.8,1645.1 L900.3,1644.9 L901.8,1644.8 L903.3,1644.6 L904.8,1644.5 L906.3,1644.4 L907.8,1644.3 L909.3,1644.2 L910.8,1644.1 L912.3,1644.0 L913.8,1644.0 L915.3,1644.0 L916.8,1644.0 L918.3,1644.0 L919.8,1644.1 L921.3,1644.2 L922.8,1644.4 L924.3,1644.6 L925.8,1644.8 L927.3,1645.1 L928.8,1645.3 L930.4,1645.6 L931.9,1646.0 L933.4,1646.3 L934.9,1646.7 L936.4,1647.0 L937.9,1647.4 L939.4,1647.7 L940.9,1648.0 L942.4,1648.4 L943.9,1648.7 L945.4,1649.0 L946.9,1649.3 L948.4,1649.6 L949.9,1649.9 L951.4,1650.2 L952.9,1650.5 L954.4,1650.8 L955.9,1651.2 L957.4,1651.5 L958.9,1651.8 L960.4,1652.1 L961.9,1652.5 L963.4,1652.8 L964.9,1653.1 L966.4,1653.4 L967.9,1653.7 L969.4,1654.0 L970.9,1654.3 L972.4,1654.6 L973.9,1654.9 L975.4,1655.2 L976.9,1655.4 L978.4,1655.7 L979.9,1655.9 L981.4,1656.2 L982.9,1656.4 L984.4,1656.7 L985.9,1657.0 L987.4,1657.2 L988.9,1657.5 L990.4,1657.7 L991.9,1658.0 L993.4,1658.2 L994.9,1658.4 L996.4,1658.6 L997.9,1658.9 L999.4,1659.1 L1000.9,1659.3 L1002.4,1659.4 L1003.9,1659.6 L1005.4,1659.8 L1006.9,1659.9 L1008.4,1660.0 L1009.9,1660.1 L1011.4,1660.2 L1012.9,1660.2 L1014.4,1660.3 L1015.9,1660.3 L1017.4,1660.4 L1018.9,1660.4 L1020.4,1660.4 L1021.9,1660.5 L1023.4,1660.5 L1024.9,1660.6 L1026.4,1660.6 L1027.9,1660.6 L1029.4,1660.7 L1030.9,1660.7 L1032.4,1660.7 L1033.9,1660.8 L1035.4,1660.8 L1036.9,1660.8 L1038.4,1660.8 L1039.9,1660.9 L1041.4,1660.9 L1042.9,1660.9 L1044.4,1660.9 L1045.9,1661.0 L1047.4,1661.0 L1048.9,1661.0 L1050.4,1661.0 L1051.9,1661.0 L1053.4,1661.0 L1054.9,1661.1 L1056.4,1661.1 L1057.9,1661.1 L1059.4,1661.1 L1060.9,1661.1 L1062.4,1661.1 L1064.0,1661.1 L1065.5,1661.1 L1067.0,1661.1 L1068.5,1661.1 L1070.0,1661.1 L1071.5,1661.1 L1073.0,1661.1 L1074.5,1661.1 L1076.0,1661.1 L1077.5,1661.1 L1079.0,1661.1 L1080.5,1661.1 L1082.0,1661.1 L1083.5,1661.1 L1085.0,1661.1 L1086.5,1661.1 L1088.0,1661.1 L1089.5,1661.1 L1091.0,1661.1 L1092.5,1661.1 L1094.0,1661.1 L1095.5,1661.1 L1097.0,1661.1 L1098.5,1661.1 L1100.0,1661.1 L1101.5,1661.1 L1103.0,1661.1 L1104.5,1661.1 L1106.0,1661.1 L1107.5,1661.1 L1109.0,1661.1 L1110.5,1661.1 L1112.0,1661.1 L1113.5,1661.1 L1115.0,1661.1 L1116.5,1661.1 L1118.0,1661.1 L1119.5,1661.1 L1121.0,1661.1 L1122.5,1661.1 L1124.0,1661.1 L1125.5,1661.1 L1127.0,1661.1 L1128.5,1661.1 L1130.0,1661.1 L1131.5,1661.1 L1133.0,1661.1 L1134.5,1661.1 L1136.0,1661.1 L1137.5,1661.1 L1139.0,1661.1 L1140.5,1661.1 L1142.0,1661.1 L1143.5,1661.1 L1145.0,1661.1 L1146.5,1661.1 L1148.0,1661.1 L1149.5,1661.1 L1151.0,1661.1 L1152.5,1661.1 L1154.0,1661.1 L1155.5,1661.1 L1157.0,1661.1 L1158.5,1661.1 L1160.0,1661.1 L1161.5,1661.1 L1163.0,1661.1 L1164.5,1661.1 L1166.0,1661.1 L1167.5,1661.1 L1169.0,1661.1 L1170.5,1661.1 L1172.0,1661.1 L1173.5,1661.1 L1175.0,1661.1 L1176.5,1661.1 L1178.0,1661.1 L1179.5,1661.1 L1181.0,1661.1 L1182.5,1661.1 L1184.0,1661.1 L1185.5,1661.1 L1187.0,1661.1 L1188.5,1661.1 L1190.0,1661.1 L1191.5,1661.1 L1193.0,1661.1 L1194.5,1661.1 L1196.0,1661.1 L1197.6,1661.1 L1199.1,1661.1 L1200.6,1661.1 L1202.1,1661.1 L1203.6,1661.1 L1205.1,1661.1 L1206.6,1661.1 L1208.1,1661.1 L1209.6,1661.1 L1211.1,1661.1 L1212.6,1661.1 L1214.1,1661.1 L1215.6,1661.1 L1217.1,1661.1 L1218.6,1661.1 L1220.1,1661.1 L1221.6,1661.1 L1223.1,1661.1 L1224.6,1661.1 L1226.1,1661.1 L1227.6,1661.1 L1229.1,1661.1 L1230.6,1661.1 L1232.1,1661.1 L1233.6,1661.1 L1235.1,1661.1 L1236.6,1661.1 L1238.1,1661.1 L1239.6,1661.1 L1241.1,1661.1 L1242.6,1661.1 L1244.1,1661.1 L1245.6,1661.1 L1247.1,1661.1 L1248.6,1661.1 L1250.1,1661.1 L1251.6,1661.1 L1253.1,1661.1 L1254.6,1661.1 L1256.1,1661.1 L1257.6,1661.1 L1259.1,1661.1 L1260.6,1661.1 L1262.1,1661.1 L1263.6,1661.1 L1265.1,1661.1 L1266.6,1661.1 L1268.1,1661.1 L1269.6,1661.1 L1271.1,1661.1 L1272.6,1661.1 L1274.1,1661.1 L1275.6,1661.1 L1277.1,1661.1 L1278.6,1661.1 L1280.1,1661.1 L1281.6,1661.1 L1283.1,1661.1 L1284.6,1661.1 L1286.1,1661.1 L1287.6,1661.1 L1289.1,1661.1 L1290.6,1661.1 L1292.1,1661.1 L1293.6,1661.1 L1295.1,1661.1 L1296.6,1661.1 L1296.6,1661.1Z" fill="#00A9FF" fill-opacity="0.30" stroke="#000" stroke-width="2.4" stroke-linejoin="round"/>
<path d="M197.8,1661.1 L197.8,1661.1 L199.3,1661.1 L200.8,1661.1 L202.3,1661.1 L203.8,1661.1 L205.3,1661.1 L206.8,1661.1 L208.3,1661.1 L209.8,1661.1 L211.3,1661.1 L212.8,1661.1 L214.3,1661.1 L215.8,1661.1 L217.3,1661.1 L218.8,1661.1 L220.3,1660.6 L221.8,1659.8 L223.3,1658.9 L224.8,1658.1 L226.3,1657.3 L227.8,1656.5 L229.3,1655.7 L230.8,1655.0 L232.3,1654.3 L233.8,1653.1 L235.3,1651.5 L236.8,1649.3 L238.3,1646.5 L239.8,1643.2 L241.3,1639.4 L242.8,1635.1 L244.3,1630.2 L245.8,1624.7 L247.3,1618.7 L248.8,1612.1 L250.3,1604.9 L251.8,1595.1 L253.3,1569.8 L254.8,1523.8 L256.3,1471.8 L257.8,1430.9 L259.3,1409.5 L260.8,1397.0 L262.3,1385.3 L263.8,1369.9 L265.4,1352.3 L266.9,1333.8 L268.4,1314.2 L269.9,1298.2 L271.4,1286.0 L272.9,1275.4 L274.4,1267.0 L275.9,1261.9 L277.4,1260.7 L278.9,1262.8 L280.4,1266.5 L281.9,1271.3 L283.4,1276.8 L284.9,1282.8 L286.4,1289.2 L287.9,1296.8 L289.4,1305.0 L290.9,1312.9 L292.4,1319.3 L293.9,1323.5 L295.4,1326.0 L296.9,1327.3 L298.4,1327.8 L299.9,1327.2 L301.4,1325.1 L302.9,1322.8 L304.4,1321.6 L305.9,1323.6 L307.4,1328.9 L308.9,1336.1 L310.4,1344.5 L311.9,1354.9 L313.4,1366.7 L314.9,1378.6 L316.4,1390.7 L317.9,1403.0 L319.4,1414.4 L320.9,1424.1 L322.4,1433.3 L323.9,1441.6 L325.4,1448.1 L326.9,1451.9 L328.4,1452.4 L329.9,1450.4 L331.4,1446.9 L332.9,1442.5 L334.4,1437.7 L335.9,1432.5 L337.4,1426.4 L338.9,1420.0 L340.4,1414.0 L341.9,1409.4 L343.4,1407.9 L344.9,1410.6 L346.4,1417.1 L347.9,1426.3 L349.4,1437.6 L350.9,1452.5 L352.4,1475.5 L353.9,1498.2 L355.4,1519.3 L356.9,1538.5 L358.4,1554.1 L359.9,1566.7 L361.4,1577.8 L362.9,1587.2 L364.4,1594.3 L365.9,1599.1 L367.4,1603.4 L368.9,1607.5 L370.4,1611.2 L371.9,1614.4 L373.4,1616.7 L374.9,1618.1 L376.4,1618.7 L377.9,1619.2 L379.4,1619.7 L380.9,1620.1 L382.4,1620.6 L383.9,1621.0 L385.4,1621.5 L386.9,1621.9 L388.4,1622.3 L389.9,1622.7 L391.4,1623.0 L392.9,1623.4 L394.4,1623.7 L395.9,1624.0 L397.4,1624.3 L399.0,1624.5 L400.5,1624.7 L402.0,1625.0 L403.5,1625.2 L405.0,1625.4 L406.5,1625.6 L408.0,1625.8 L409.5,1626.0 L411.0,1626.2 L412.5,1626.5 L414.0,1626.7 L415.5,1626.9 L417.0,1627.1 L418.5,1627.4 L420.0,1627.6 L421.5,1627.8 L423.0,1628.0 L424.5,1628.2 L426.0,1628.5 L427.5,1628.7 L429.0,1628.9 L430.5,1629.1 L432.0,1629.3 L433.5,1629.5 L435.0,1629.7 L436.5,1629.8 L438.0,1630.0 L439.5,1630.2 L441.0,1630.3 L442.5,1630.5 L444.0,1630.6 L445.5,1630.8 L447.0,1630.9 L448.5,1631.0 L450.0,1631.1 L451.5,1631.2 L453.0,1631.3 L454.5,1631.4 L456.0,1631.5 L457.5,1631.5 L459.0,1631.6 L460.5,1631.7 L462.0,1631.8 L463.5,1631.9 L465.0,1631.9 L466.5,1632.0 L468.0,1632.1 L469.5,1632.2 L471.0,1632.3 L472.5,1632.3 L474.0,1632.4 L475.5,1632.5 L477.0,1632.5 L478.5,1632.6 L480.0,1632.7 L481.5,1632.7 L483.0,1632.8 L484.5,1632.9 L486.0,1632.9 L487.5,1633.0 L489.0,1633.0 L490.5,1633.1 L492.0,1633.1 L493.5,1633.2 L495.0,1633.2 L496.5,1633.2 L498.0,1633.3 L499.5,1633.3 L501.0,1633.3 L502.5,1633.3 L504.0,1633.3 L505.5,1633.4 L507.0,1633.4 L508.5,1633.4 L510.0,1633.4 L511.5,1633.4 L513.0,1633.4 L514.5,1633.4 L516.0,1633.4 L517.5,1633.4 L519.0,1633.4 L520.5,1633.4 L522.0,1633.4 L523.5,1633.4 L525.0,1633.4 L526.5,1633.4 L528.0,1633.4 L529.5,1633.4 L531.1,1633.4 L532.6,1633.4 L534.1,1633.3 L535.6,1633.3 L537.1,1633.3 L538.6,1633.3 L540.1,1633.2 L541.6,1633.2 L543.1,1633.2 L544.6,1633.2 L546.1,1633.1 L547.6,1633.1 L549.1,1633.0 L550.6,1633.0 L552.1,1633.0 L553.6,1632.9 L555.1,1632.9 L556.6,1632.8 L558.1,1632.8 L559.6,1632.7 L561.1,1632.6 L562.6,1632.6 L564.1,1632.5 L565.6,1632.4 L567.1,1632.3 L568.6,1632.2 L570.1,1632.1 L571.6,1632.0 L573.1,1631.9 L574.6,1631.8 L576.1,1631.7 L577.6,1631.5 L579.1,1631.4 L580.6,1631.2 L582.1,1631.1 L583.6,1631.0 L585.1,1630.8 L586.6,1630.6 L588.1,1630.5 L589.6,1630.3 L591.1,1630.1 L592.6,1630.0 L594.1,1629.8 L595.6,1629.6 L597.1,1629.4 L598.6,1629.3 L600.1,1629.1 L601.6,1628.9 L603.1,1628.7 L604.6,1628.5 L606.1,1628.4 L607.6,1628.2 L609.1,1628.0 L610.6,1627.8 L612.1,1627.6 L613.6,1627.5 L615.1,1627.3 L616.6,1627.1 L618.1,1626.9 L619.6,1626.8 L621.1,1626.6 L622.6,1626.4 L624.1,1626.3 L625.6,1626.1 L627.1,1626.0 L628.6,1625.8 L630.1,1625.7 L631.6,1625.5 L633.1,1625.4 L634.6,1625.3 L636.1,1625.1 L637.6,1625.0 L639.1,1624.9 L640.6,1624.8 L642.1,1624.7 L643.6,1624.6 L645.1,1624.5 L646.6,1624.4 L648.1,1624.4 L649.6,1624.3 L651.1,1624.2 L652.6,1624.2 L654.1,1624.1 L655.6,1624.1 L657.1,1624.1 L658.6,1624.0 L660.1,1624.0 L661.6,1624.0 L663.1,1624.0 L664.7,1624.0 L666.2,1624.0 L667.7,1624.0 L669.2,1624.1 L670.7,1624.1 L672.2,1624.1 L673.7,1624.2 L675.2,1624.2 L676.7,1624.3 L678.2,1624.4 L679.7,1624.5 L681.2,1624.6 L682.7,1624.7 L684.2,1624.8 L685.7,1624.9 L687.2,1625.0 L688.7,1625.1 L690.2,1625.3 L691.7,1625.4 L693.2,1625.6 L694.7,1625.7 L696.2,1625.9 L697.7,1626.1 L699.2,1626.3 L700.7,1626.5 L702.2,1626.9 L703.7,1627.4 L705.2,1628.0 L706.7,1628.8 L708.2,1629.8 L709.7,1630.8 L711.2,1631.9 L712.7,1633.0 L714.2,1634.2 L715.7,1635.4 L717.2,1636.5 L718.7,1637.6 L720.2,1638.7 L721.7,1639.6 L723.2,1640.6 L724.7,1641.5 L726.2,1642.5 L727.7,1643.5 L729.2,1644.5 L730.7,1645.5 L732.2,1646.5 L733.7,1647.5 L735.2,1648.4 L736.7,1649.3 L738.2,1650.1 L739.7,1650.8 L741.2,1651.5 L742.7,1652.0 L744.2,1652.5 L745.7,1652.9 L747.2,1653.3 L748.7,1653.6 L750.2,1653.9 L751.7,1654.2 L753.2,1654.5 L754.7,1654.8 L756.2,1655.0 L757.7,1655.3 L759.2,1655.5 L760.7,1655.7 L762.2,1655.9 L763.7,1656.1 L765.2,1656.2 L766.7,1656.4 L768.2,1656.5 L769.7,1656.6 L771.2,1656.7 L772.7,1656.8 L774.2,1656.9 L775.7,1657.0 L777.2,1657.1 L778.7,1657.2 L780.2,1657.3 L781.7,1657.3 L783.2,1657.4 L784.7,1657.5 L786.2,1657.5 L787.7,1657.6 L789.2,1657.6 L790.7,1657.7 L792.2,1657.7 L793.7,1657.8 L795.2,1657.8 L796.7,1657.8 L798.3,1657.9 L799.8,1657.9 L801.3,1657.9 L802.8,1657.9 L804.3,1657.9 L805.8,1657.9 L807.3,1657.9 L808.8,1657.9 L810.3,1657.9 L811.8,1657.8 L813.3,1657.8 L814.8,1657.8 L816.3,1657.7 L817.8,1657.7 L819.3,1657.6 L820.8,1657.5 L822.3,1657.5 L823.8,1657.4 L825.3,1657.3 L826.8,1657.2 L828.3,1657.1 L829.8,1657.0 L831.3,1656.9 L832.8,1656.7 L834.3,1656.3 L835.8,1655.8 L837.3,1655.2 L838.8,1654.5 L840.3,1653.7 L841.8,1652.9 L843.3,1652.1 L844.8,1651.3 L846.3,1650.6 L847.8,1650.1 L849.3,1649.7 L850.8,1649.4 L852.3,1649.4 L853.8,1649.6 L855.3,1649.9 L856.8,1650.5 L858.3,1651.1 L859.8,1651.9 L861.3,1652.6 L862.8,1653.5 L864.3,1654.3 L865.8,1655.0 L867.3,1655.7 L868.8,1656.3 L870.3,1656.7 L871.8,1657.1 L873.3,1657.4 L874.8,1657.7 L876.3,1658.0 L877.8,1658.3 L879.3,1658.6 L880.8,1658.9 L882.3,1659.1 L883.8,1659.3 L885.3,1659.5 L886.8,1659.7 L888.3,1659.8 L889.8,1660.0 L891.3,1660.1 L892.8,1660.1 L894.3,1660.2 L895.8,1660.3 L897.3,1660.3 L898.8,1660.4 L900.3,1660.5 L901.8,1660.6 L903.3,1660.6 L904.8,1660.7 L906.3,1660.8 L907.8,1660.9 L909.3,1660.9 L910.8,1661.0 L912.3,1661.1 L913.8,1661.1 L915.3,1661.1 L916.8,1661.1 L918.3,1661.1 L919.8,1661.1 L921.3,1661.1 L922.8,1661.1 L924.3,1661.1 L925.8,1661.1 L927.3,1661.1 L928.8,1661.1 L930.4,1661.1 L931.9,1661.1 L933.4,1661.1 L934.9,1661.1 L936.4,1661.1 L937.9,1661.1 L939.4,1661.1 L940.9,1661.1 L942.4,1661.1 L943.9,1661.1 L945.4,1661.1 L946.9,1661.1 L948.4,1661.1 L949.9,1661.1 L951.4,1661.1 L952.9,1661.1 L954.4,1661.1 L955.9,1661.1 L957.4,1661.1 L958.9,1661.1 L960.4,1661.1 L961.9,1661.1 L963.4,1661.1 L964.9,1661.1 L966.4,1661.1 L967.9,1661.1 L969.4,1661.1 L970.9,1661.1 L972.4,1661.1 L973.9,1661.1 L975.4,1661.1 L976.9,1661.1 L978.4,1661.1 L979.9,1661.1 L981.4,1661.1 L982.9,1661.1 L984.4,1661.1 L985.9,1661.1 L987.4,1661.1 L988.9,1661.1 L990.4,1661.1 L991.9,1661.1 L993.4,1661.1 L994.9,1661.1 L996.4,1661.1 L997.9,1661.1 L999.4,1661.1 L1000.9,1661.1 L1002.4,1661.1 L1003.9,1661.1 L1005.4,1661.1 L1006.9,1661.1 L1008.4,1661.1 L1009.9,1661.1 L1011.4,1661.1 L1012.9,1661.1 L1014.4,1661.1 L1015.9,1661.1 L1017.4,1661.1 L1018.9,1661.1 L1020.4,1661.1 L1021.9,1661.1 L1023.4,1661.1 L1024.9,1661.1 L1026.4,1661.1 L1027.9,1661.1 L1029.4,1661.1 L1030.9,1661.1 L1032.4,1661.1 L1033.9,1661.1 L1035.4,1661.1 L1036.9,1661.1 L1038.4,1661.1 L1039.9,1661.1 L1041.4,1661.1 L1042.9,1661.1 L1044.4,1661.1 L1045.9,1661.1 L1047.4,1661.1 L1048.9,1661.1 L1050.4,1661.1 L1051.9,1661.1 L1053.4,1661.1 L1054.9,1661.1 L1056.4,1661.1 L1057.9,1661.1 L1059.4,1661.1 L1060.9,1661.1 L1062.4,1661.1 L1064.0,1661.1 L1065.5,1661.1 L1067.0,1661.1 L1068.5,1661.1 L1070.0,1661.1 L1071.5,1661.1 L1073.0,1661.1 L1074.5,1661.1 L1076.0,1661.1 L1077.5,1661.1 L1079.0,1661.1 L1080.5,1661.1 L1082.0,1661.1 L1083.5,1661.1 L1085.0,1661.1 L1086.5,1661.1 L1088.0,1661.1 L1089.5,1661.1 L1091.0,1661.1 L1092.5,1661.1 L1094.0,1661.1 L1095.5,1661.1 L1097.0,1661.1 L1098.5,1661.1 L1100.0,1661.1 L1101.5,1661.1 L1103.0,1661.1 L1104.5,1661.1 L1106.0,1661.1 L1107.5,1661.1 L1109.0,1661.1 L1110.5,1661.1 L1112.0,1661.1 L1113.5,1661.1 L1115.0,1661.1 L1116.5,1661.1 L1118.0,1661.1 L1119.5,1661.1 L1121.0,1661.1 L1122.5,1661.1 L1124.0,1661.1 L1125.5,1661.1 L1127.0,1661.1 L1128.5,1661.1 L1130.0,1661.1 L1131.5,1661.1 L1133.0,1661.1 L1134.5,1661.1 L1136.0,1661.1 L1137.5,1661.1 L1139.0,1661.1 L1140.5,1661.1 L1142.0,1661.1 L1143.5,1661.1 L1145.0,1661.1 L1146.5,1661.1 L1148.0,1661.1 L1149.5,1661.1 L1151.0,1661.1 L1152.5,1661.1 L1154.0,1661.1 L1155.5,1661.1 L1157.0,1661.1 L1158.5,1661.1 L1160.0,1661.1 L1161.5,1661.1 L1163.0,1661.1 L1164.5,1661.1 L1166.0,1661.1 L1167.5,1661.1 L1169.0,1661.1 L1170.5,1661.1 L1172.0,1661.1 L1173.5,1661.1 L1175.0,1661.1 L1176.5,1661.1 L1178.0,1661.1 L1179.5,1661.1 L1181.0,1661.1 L1182.5,1661.1 L1184.0,1661.1 L1185.5,1661.1 L1187.0,1661.1 L1188.5,1661.1 L1190.0,1661.1 L1191.5,1661.1 L1193.0,1661.1 L1194.5,1661.1 L1196.0,1661.1 L1197.6,1661.1 L1199.1,1661.1 L1200.6,1661.1 L1202.1,1661.1 L1203.6,1661.1 L1205.1,1661.1 L1206.6,1661.1 L1208.1,1661.1 L1209.6,1661.1 L1211.1,1661.1 L1212.6,1661.1 L1214.1,1661.1 L1215.6,1661.1 L1217.1,1661.1 L1218.6,1661.1 L1220.1,1661.1 L1221.6,1661.1 L1223.1,1661.1 L1224.6,1661.1 L1226.1,1661.1 L1227.6,1661.1 L1229.1,1661.1 L1230.6,1661.1 L1232.1,1661.1 L1233.6,1661.1 L1235.1,1661.1 L1236.6,1661.1 L1238.1,1661.1 L1239.6,1661.1 L1241.1,1661.1 L1242.6,1661.1 L1244.1,1661.1 L1245.6,1661.1 L1247.1,1661.1 L1248.6,1661.1 L1250.1,1661.1 L1251.6,1661.1 L1253.1,1661.1 L1254.6,1661.1 L1256.1,1661.1 L1257.6,1661.1 L1259.1,1661.1 L1260.6,1661.1 L1262.1,1661.1 L1263.6,1661.1 L1265.1,1661.1 L1266.6,1661.1 L1268.1,1661.1 L1269.6,1661.1 L1271.1,1661.1 L1272.6,1661.1 L1274.1,1661.1 L1275.6,1661.1 L1277.1,1661.1 L1278.6,1661.1 L1280.1,1661.1 L1281.6,1661.1 L1283.1,1661.1 L1284.6,1661.1 L1286.1,1661.1 L1287.6,1661.1 L1289.1,1661.1 L1290.6,1661.1 L1292.1,1661.1 L1293.6,1661.1 L1295.1,1661.1 L1296.6,1661.1 L1296.6,1661.1Z" fill="#C77CFF" fill-opacity="0.30" stroke="#000" stroke-width="2.4" stroke-linejoin="round"/>
<path d="M197.8,1661.1 L197.8,1661.1 L199.3,1661.1 L200.8,1661.1 L202.3,1661.1 L203.8,1661.1 L205.3,1661.1 L206.8,1661.1 L208.3,1661.1 L209.8,1661.1 L211.3,1661.1 L212.8,1661.1 L214.3,1661.1 L215.8,1661.1 L217.3,1661.1 L218.8,1661.1 L220.3,1661.1 L221.8,1661.1 L223.3,1661.1 L224.8,1661.1 L226.3,1661.0 L227.8,1660.9 L229.3,1660.8 L230.8,1660.7 L232.3,1660.6 L233.8,1660.5 L235.3,1660.3 L236.8,1660.2 L238.3,1660.1 L239.8,1659.9 L241.3,1659.8 L242.8,1659.6 L244.3,1659.4 L245.8,1659.3 L247.3,1659.1 L248.8,1658.9 L250.3,1658.7 L251.8,1658.5 L253.3,1658.3 L254.8,1658.0 L256.3,1657.7 L257.8,1657.4 L259.3,1657.1 L260.8,1656.7 L262.3,1656.3 L263.8,1655.9 L265.4,1655.5 L266.9,1655.1 L268.4,1654.6 L269.9,1654.1 L271.4,1653.7 L272.9,1653.2 L274.4,1652.6 L275.9,1652.1 L277.4,1651.5 L278.9,1651.0 L280.4,1650.4 L281.9,1649.8 L283.4,1649.2 L284.9,1648.6 L286.4,1648.0 L287.9,1647.4 L289.4,1646.7 L290.9,1646.1 L292.4,1645.4 L293.9,1644.8 L295.4,1644.1 L296.9,1643.4 L298.4,1642.7 L299.9,1641.9 L301.4,1641.1 L302.9,1640.2 L304.4,1639.2 L305.9,1638.2 L307.4,1637.1 L308.9,1636.0 L310.4,1634.8 L311.9,1633.5 L313.4,1632.3 L314.9,1631.0 L316.4,1629.7 L317.9,1628.3 L319.4,1626.9 L320.9,1625.5 L322.4,1624.1 L323.9,1622.7 L325.4,1621.2 L326.9,1619.8 L328.4,1618.3 L329.9,1616.9 L331.4,1615.4 L332.9,1613.9 L334.4,1612.3 L335.9,1610.7 L337.4,1609.0 L338.9,1607.3 L340.4,1605.6 L341.9,1603.9 L343.4,1602.1 L344.9,1600.3 L346.4,1598.6 L347.9,1596.8 L349.4,1595.0 L350.9,1593.3 L352.4,1591.6 L353.9,1589.9 L355.4,1588.1 L356.9,1586.4 L358.4,1584.6 L359.9,1582.9 L361.4,1581.1 L362.9,1579.3 L364.4,1577.5 L365.9,1575.7 L367.4,1574.0 L368.9,1572.2 L370.4,1570.5 L371.9,1568.8 L373.4,1567.2 L374.9,1565.6 L376.4,1564.1 L377.9,1562.6 L379.4,1561.2 L380.9,1559.6 L382.4,1558.1 L383.9,1556.6 L385.4,1555.1 L386.9,1553.8 L388.4,1552.7 L389.9,1551.9 L391.4,1551.3 L392.9,1551.0 L394.4,1551.1 L395.9,1551.5 L397.4,1552.2 L399.0,1553.0 L400.5,1554.0 L402.0,1555.1 L403.5,1556.3 L405.0,1557.6 L406.5,1559.0 L408.0,1560.4 L409.5,1561.8 L411.0,1563.3 L412.5,1564.7 L414.0,1566.0 L415.5,1567.3 L417.0,1568.5 L418.5,1569.6 L420.0,1570.8 L421.5,1571.9 L423.0,1573.1 L424.5,1574.3 L426.0,1575.4 L427.5,1576.6 L429.0,1577.9 L430.5,1579.1 L432.0,1580.4 L433.5,1581.8 L435.0,1583.2 L436.5,1584.7 L438.0,1586.2 L439.5,1587.7 L441.0,1589.2 L442.5,1590.8 L444.0,1592.3 L445.5,1593.9 L447.0,1595.4 L448.5,1596.9 L450.0,1598.5 L451.5,1600.1 L453.0,1601.7 L454.5,1603.3 L456.0,1604.9 L457.5,1606.5 L459.0,1608.1 L460.5,1609.5 L462.0,1610.8 L463.5,1612.1 L465.0,1613.2 L466.5,1614.2 L468.0,1615.3 L469.5,1616.3 L471.0,1617.2 L472.5,1618.0 L474.0,1618.7 L475.5,1619.2 L477.0,1619.5 L478.5,1619.6 L480.0,1619.5 L481.5,1619.1 L483.0,1618.6 L484.5,1617.9 L486.0,1617.2 L487.5,1616.4 L489.0,1615.5 L490.5,1614.6 L492.0,1613.7 L493.5,1612.7 L495.0,1611.8 L496.5,1611.0 L498.0,1610.2 L499.5,1609.4 L501.0,1608.6 L502.5,1607.8 L504.0,1607.0 L505.5,1606.2 L507.0,1605.4 L508.5,1604.7 L510.0,1604.0 L511.5,1603.4 L513.0,1603.0 L514.5,1602.7 L516.0,1602.5 L517.5,1602.5 L519.0,1602.8 L520.5,1603.2 L522.0,1603.7 L523.5,1604.4 L525.0,1605.2 L526.5,1606.1 L528.0,1607.1 L529.5,1608.1 L531.1,1609.2 L532.6,1610.3 L534.1,1611.4 L535.6,1612.4 L537.1,1613.5 L538.6,1614.7 L540.1,1616.0 L541.6,1617.3 L543.1,1618.8 L544.6,1620.3 L546.1,1621.8 L547.6,1623.3 L549.1,1624.7 L550.6,1626.1 L552.1,1627.4 L553.6,1628.6 L555.1,1629.7 L556.6,1630.8 L558.1,1631.9 L559.6,1633.0 L561.1,1634.0 L562.6,1635.0 L564.1,1635.9 L565.6,1636.6 L567.1,1637.1 L568.6,1637.5 L570.1,1637.6 L571.6,1637.7 L573.1,1637.7 L574.6,1637.7 L576.1,1637.8 L577.6,1637.8 L579.1,1637.8 L580.6,1637.8 L582.1,1637.8 L583.6,1637.8 L585.1,1637.7 L586.6,1637.7 L588.1,1637.7 L589.6,1637.6 L591.1,1637.6 L592.6,1637.5 L594.1,1637.5 L595.6,1637.4 L597.1,1637.3 L598.6,1637.2 L600.1,1637.2 L601.6,1637.1 L603.1,1637.0 L604.6,1636.9 L606.1,1636.7 L607.6,1636.6 L609.1,1636.5 L610.6,1636.4 L612.1,1636.3 L613.6,1636.1 L615.1,1636.0 L616.6,1635.8 L618.1,1635.7 L619.6,1635.5 L621.1,1635.4 L622.6,1635.2 L624.1,1635.1 L625.6,1634.9 L627.1,1634.8 L628.6,1634.6 L630.1,1634.4 L631.6,1634.3 L633.1,1634.1 L634.6,1633.9 L636.1,1633.8 L637.6,1633.6 L639.1,1633.4 L640.6,1633.3 L642.1,1633.1 L643.6,1632.9 L645.1,1632.7 L646.6,1632.6 L648.1,1632.4 L649.6,1632.2 L651.1,1632.0 L652.6,1631.8 L654.1,1631.7 L655.6,1631.5 L657.1,1631.3 L658.6,1631.1 L660.1,1630.9 L661.6,1630.7 L663.1,1630.5 L664.7,1630.3 L666.2,1630.1 L667.7,1629.9 L669.2,1629.7 L670.7,1629.5 L672.2,1629.3 L673.7,1629.1 L675.2,1628.9 L676.7,1628.7 L678.2,1628.5 L679.7,1628.3 L681.2,1628.1 L682.7,1627.9 L684.2,1627.7 L685.7,1627.4 L687.2,1627.2 L688.7,1627.0 L690.2,1626.8 L691.7,1626.6 L693.2,1626.4 L694.7,1626.1 L696.2,1625.9 L697.7,1625.7 L699.2,1625.4 L700.7,1625.2 L702.2,1625.0 L703.7,1624.7 L705.2,1624.4 L706.7,1624.1 L708.2,1623.8 L709.7,1623.5 L711.2,1623.2 L712.7,1622.8 L714.2,1622.5 L715.7,1622.1 L717.2,1621.7 L718.7,1621.3 L720.2,1620.9 L721.7,1620.5 L723.2,1620.0 L724.7,1619.6 L726.2,1619.1 L727.7,1618.7 L729.2,1618.2 L730.7,1617.7 L732.2,1617.2 L733.7,1616.7 L735.2,1616.1 L736.7,1615.6 L738.2,1615.0 L739.7,1614.4 L741.2,1613.8 L742.7,1613.1 L744.2,1612.3 L745.7,1611.4 L747.2,1610.6 L748.7,1609.6 L750.2,1608.7 L751.7,1607.7 L753.2,1606.7 L754.7,1605.7 L756.2,1604.6 L757.7,1603.6 L759.2,1602.6 L760.7,1601.5 L762.2,1600.5 L763.7,1599.5 L765.2,1598.5 L766.7,1597.6 L768.2,1596.6 L769.7,1595.8 L771.2,1594.9 L772.7,1594.2 L774.2,1593.4 L775.7,1592.7 L777.2,1592.0 L778.7,1591.3 L780.2,1590.6 L781.7,1589.9 L783.2,1589.2 L784.7,1588.5 L786.2,1587.8 L787.7,1587.1 L789.2,1586.4 L790.7,1585.8 L792.2,1585.1 L793.7,1584.4 L795.2,1583.8 L796.7,1583.1 L798.3,1582.5 L799.8,1581.9 L801.3,1581.3 L802.8,1580.7 L804.3,1580.1 L805.8,1579.5 L807.3,1579.0 L808.8,1578.5 L810.3,1578.0 L811.8,1577.5 L813.3,1577.0 L814.8,1576.6 L816.3,1576.2 L817.8,1575.8 L819.3,1575.4 L820.8,1575.1 L822.3,1574.8 L823.8,1574.5 L825.3,1574.3 L826.8,1574.0 L828.3,1573.8 L829.8,1573.7 L831.3,1573.6 L832.8,1573.5 L834.3,1573.5 L835.8,1573.6 L837.3,1573.7 L838.8,1574.0 L840.3,1574.3 L841.8,1574.7 L843.3,1575.1 L844.8,1575.6 L846.3,1576.1 L847.8,1576.7 L849.3,1577.4 L850.8,1578.0 L852.3,1578.7 L853.8,1579.5 L855.3,1580.2 L856.8,1581.0 L858.3,1581.8 L859.8,1582.6 L861.3,1583.4 L862.8,1584.2 L864.3,1585.1 L865.8,1586.1 L867.3,1587.1 L868.8,1588.2 L870.3,1589.3 L871.8,1590.5 L873.3,1591.7 L874.8,1592.9 L876.3,1594.1 L877.8,1595.4 L879.3,1596.6 L880.8,1597.9 L882.3,1599.1 L883.8,1600.4 L885.3,1601.6 L886.8,1602.8 L888.3,1604.0 L889.8,1605.1 L891.3,1606.2 L892.8,1607.3 L894.3,1608.4 L895.8,1609.4 L897.3,1610.4 L898.8,1611.4 L900.3,1612.5 L901.8,1613.5 L903.3,1614.6 L904.8,1615.6 L906.3,1616.7 L907.8,1617.7 L909.3,1618.7 L910.8,1619.7 L912.3,1620.7 L913.8,1621.7 L915.3,1622.6 L916.8,1623.5 L918.3,1624.3 L919.8,1625.1 L921.3,1625.9 L922.8,1626.6 L924.3,1627.2 L925.8,1627.8 L927.3,1628.4 L928.8,1628.9 L930.4,1629.3 L931.9,1629.7 L933.4,1630.2 L934.9,1630.5 L936.4,1630.9 L937.9,1631.3 L939.4,1631.7 L940.9,1632.0 L942.4,1632.3 L943.9,1632.6 L945.4,1633.0 L946.9,1633.3 L948.4,1633.6 L949.9,1633.9 L951.4,1634.1 L952.9,1634.4 L954.4,1634.7 L955.9,1635.0 L957.4,1635.2 L958.9,1635.5 L960.4,1635.8 L961.9,1636.0 L963.4,1636.3 L964.9,1636.5 L966.4,1636.8 L967.9,1637.0 L969.4,1637.2 L970.9,1637.4 L972.4,1637.7 L973.9,1637.9 L975.4,1638.1 L976.9,1638.3 L978.4,1638.6 L979.9,1638.8 L981.4,1639.0 L982.9,1639.3 L984.4,1639.6 L985.9,1639.9 L987.4,1640.2 L988.9,1640.5 L990.4,1640.8 L991.9,1641.2 L993.4,1641.6 L994.9,1642.0 L996.4,1642.4 L997.9,1642.9 L999.4,1643.4 L1000.9,1643.8 L1002.4,1644.3 L1003.9,1644.8 L1005.4,1645.3 L1006.9,1645.7 L1008.4,1646.2 L1009.9,1646.6 L1011.4,1647.0 L1012.9,1647.4 L1014.4,1647.7 L1015.9,1648.1 L1017.4,1648.4 L1018.9,1648.8 L1020.4,1649.2 L1021.9,1649.5 L1023.4,1649.9 L1024.9,1650.2 L1026.4,1650.5 L1027.9,1650.9 L1029.4,1651.2 L1030.9,1651.5 L1032.4,1651.8 L1033.9,1652.1 L1035.4,1652.4 L1036.9,1652.7 L1038.4,1652.9 L1039.9,1653.2 L1041.4,1653.4 L1042.9,1653.6 L1044.4,1653.8 L1045.9,1653.9 L1047.4,1654.1 L1048.9,1654.2 L1050.4,1654.4 L1051.9,1654.5 L1053.4,1654.6 L1054.9,1654.7 L1056.4,1654.9 L1057.9,1655.0 L1059.4,1655.1 L1060.9,1655.2 L1062.4,1655.4 L1064.0,1655.5 L1065.5,1655.6 L1067.0,1655.7 L1068.5,1655.8 L1070.0,1655.9 L1071.5,1656.0 L1073.0,1656.1 L1074.5,1656.2 L1076.0,1656.3 L1077.5,1656.4 L1079.0,1656.5 L1080.5,1656.6 L1082.0,1656.7 L1083.5,1656.8 L1085.0,1656.9 L1086.5,1656.9 L1088.0,1657.0 L1089.5,1657.1 L1091.0,1657.2 L1092.5,1657.2 L1094.0,1657.3 L1095.5,1657.4 L1097.0,1657.4 L1098.5,1657.5 L1100.0,1657.5 L1101.5,1657.6 L1103.0,1657.7 L1104.5,1657.7 L1106.0,1657.8 L1107.5,1657.8 L1109.0,1657.9 L1110.5,1657.9 L1112.0,1658.0 L1113.5,1658.1 L1115.0,1658.1 L1116.5,1658.2 L1118.0,1658.2 L1119.5,1658.3 L1121.0,1658.3 L1122.5,1658.4 L1124.0,1658.4 L1125.5,1658.5 L1127.0,1658.5 L1128.5,1658.6 L1130.0,1658.6 L1131.5,1658.7 L1133.0,1658.7 L1134.5,1658.8 L1136.0,1658.8 L1137.5,1658.9 L1139.0,1658.9 L1140.5,1659.0 L1142.0,1659.0 L1143.5,1659.0 L1145.0,1659.1 L1146.5,1659.1 L1148.0,1659.2 L1149.5,1659.2 L1151.0,1659.2 L1152.5,1659.3 L1154.0,1659.3 L1155.5,1659.3 L1157.0,1659.4 L1158.5,1659.4 L1160.0,1659.4 L1161.5,1659.5 L1163.0,1659.5 L1164.5,1659.6 L1166.0,1659.6 L1167.5,1659.6 L1169.0,1659.7 L1170.5,1659.7 L1172.0,1659.7 L1173.5,1659.8 L1175.0,1659.8 L1176.5,1659.8 L1178.0,1659.9 L1179.5,1659.9 L1181.0,1659.9 L1182.5,1660.0 L1184.0,1660.0 L1185.5,1660.0 L1187.0,1660.1 L1188.5,1660.1 L1190.0,1660.1 L1191.5,1660.1 L1193.0,1660.2 L1194.5,1660.2 L1196.0,1660.2 L1197.6,1660.2 L1199.1,1660.2 L1200.6,1660.3 L1202.1,1660.3 L1203.6,1660.3 L1205.1,1660.3 L1206.6,1660.3 L1208.1,1660.3 L1209.6,1660.3 L1211.1,1660.4 L1212.6,1660.4 L1214.1,1660.4 L1215.6,1660.4 L1217.1,1660.4 L1218.6,1660.4 L1220.1,1660.5 L1221.6,1660.5 L1223.1,1660.5 L1224.6,1660.5 L1226.1,1660.5 L1227.6,1660.5 L1229.1,1660.5 L1230.6,1660.6 L1232.1,1660.6 L1233.6,1660.6 L1235.1,1660.6 L1236.6,1660.6 L1238.1,1660.6 L1239.6,1660.6 L1241.1,1660.6 L1242.6,1660.7 L1244.1,1660.7 L1245.6,1660.7 L1247.1,1660.7 L1248.6,1660.7 L1250.1,1660.7 L1251.6,1660.7 L1253.1,1660.7 L1254.6,1660.7 L1256.1,1660.8 L1257.6,1660.8 L1259.1,1660.8 L1260.6,1660.8 L1262.1,1660.8 L1263.6,1660.8 L1265.1,1660.8 L1266.6,1660.8 L1268.1,1660.8 L1269.6,1660.8 L1271.1,1660.8 L1272.6,1660.8 L1274.1,1660.8 L1275.6,1660.9 L1277.1,1660.9 L1278.6,1660.9 L1280.1,1660.9 L1281.6,1660.9 L1283.1,1660.9 L1284.6,1660.9 L1286.1,1660.9 L1287.6,1660.9 L1289.1,1660.9 L1290.6,1660.9 L1292.1,1660.9 L1293.6,1660.9 L1295.1,1660.9 L1296.6,1660.9 L1296.6,1661.1Z" fill="#FF61CC" fill-opacity="0.30" stroke="#000" stroke-width="2.4" stroke-linejoin="round"/>
<rect x="142.9" y="965.3" width="1208.0" height="729.5" fill="none" stroke="#2b2b2b" stroke-width="2.7"/>
<line x1="197.8" y1="1694.8" x2="197.8" y2="1699.3" stroke="#2b2b2b" stroke-width="1.6"/>
<text x="197.8" y="1739.4" text-anchor="middle" font-size="36.0" font-weight="bold" fill="#4d4d4d">0</text>
<line x1="282.3" y1="1694.8" x2="282.3" y2="1699.3" stroke="#2b2b2b" stroke-width="1.6"/>
<text x="282.3" y="1739.4" text-anchor="middle" font-size="36.0" font-weight="bold" fill="#4d4d4d">5</text>
<line x1="366.9" y1="1694.8" x2="366.9" y2="1699.3" stroke="#2b2b2b" stroke-width="1.6"/>
<text x="366.9" y="1739.4" text-anchor="middle" font-size="36.0" font-weight="bold" fill="#4d4d4d">10</text>
<line x1="451.4" y1="1694.8" x2="451.4" y2="1699.3" stroke="#2b2b2b" stroke-width="1.6"/>
<text x="451.4" y="1739.4" text-anchor="middle" font-size="36.0" font-weight="bold" fill="#4d4d4d">15</text>
<line x1="535.9" y1="1694.8" x2="535.9" y2="1699.3" stroke="#2b2b2b" stroke-width="1.6"/>
<text x="535.9" y="1739.4" text-anchor="middle" font-size="36.0" font-weight="bold" fill="#4d4d4d">20</text>
<line x1="620.4" y1="1694.8" x2="620.4" y2="1699.3" stroke="#2b2b2b" stroke-width="1.6"/>
<text x="620.4" y="1739.4" text-anchor="middle" font-size="36.0" font-weight="bold" fill="#4d4d4d">25</text>
<line x1="705.0" y1="1694.8" x2="705.0" y2="1699.3" stroke="#2b2b2b" stroke-width="1.6"/>
<text x="705.0" y="1739.4" text-anchor="middle" font-size="36.0" font-weight="bold" fill="#4d4d4d">30</text>
<line x1="789.5" y1="1694.8" x2="789.5" y2="1699.3" stroke="#2b2b2b" stroke-width="1.6"/>
<text x="789.5" y="1739.4" text-anchor="middle" font-size="36.0" font-weight="bold" fill="#4d4d4d">35</text>
<line x1="874.0" y1="1694.8" x2="874.0" y2="1699.3" stroke="#2b2b2b" stroke-width="1.6"/>
<text x="874.0" y="1739.4" text-anchor="middle" font-size="36.0" font-weight="bold" fill="#4d4d4d">40</text>
<line x1="958.5" y1="1694.8" x2="958.5" y2="1699.3" stroke="#2b2b2b" stroke-width="1.6"/>
<text x="958.5" y="1739.4" text-anchor="middle" font-size="36.0" font-weight="bold" fill="#4d4d4d">45</text>
<line x1="1043.0" y1="1694.8" x2="1043.0" y2="1699.3" stroke="#2b2b2b" stroke-width="1.6"/>
<text x="1043.0" y="1739.4" text-anchor="middle" font-size="36.0" font-weight="bold" fill="#4d4d4d">50</text>
<line x1="1127.6" y1="1694.8" x2="1127.6" y2="1699.3" stroke="#2b2b2b" stroke-width="1.6"/>
<text x="1127.6" y="1739.4" text-anchor="middle" font-size="36.0" font-weight="bold" fill="#4d4d4d">55</text>
<line x1="1212.1" y1="1694.8" x2="1212.1" y2="1699.3" stroke="#2b2b2b" stroke-width="1.6"/>
<text x="1212.1" y="1739.4" text-anchor="middle" font-size="36.0" font-weight="bold" fill="#4d4d4d">60</text>
<line x1="1296.6" y1="1694.8" x2="1296.6" y2="1699.3" stroke="#2b2b2b" stroke-width="1.6"/>
<text x="1296.6" y="1739.4" text-anchor="middle" font-size="36.0" font-weight="bold" fill="#4d4d4d">65</text>
<line x1="138.4" y1="1661.1" x2="142.9" y2="1661.1" stroke="#2b2b2b" stroke-width="1.6"/>
<text x="114.5" y="1673.7" text-anchor="end" font-size="36.0" font-weight="bold" fill="#4d4d4d">0.0</text>
<line x1="138.4" y1="1447.4" x2="142.9" y2="1447.4" stroke="#2b2b2b" stroke-width="1.6"/>
<text x="114.5" y="1460.0" text-anchor="end" font-size="36.0" font-weight="bold" fill="#4d4d4d">0.1</text>
<line x1="138.4" y1="1233.8" x2="142.9" y2="1233.8" stroke="#2b2b2b" stroke-width="1.6"/>
<text x="114.5" y="1246.4" text-anchor="end" font-size="36.0" font-weight="bold" fill="#4d4d4d">0.2</text>
<line x1="138.4" y1="1020.1" x2="142.9" y2="1020.1" stroke="#2b2b2b" stroke-width="1.6"/>
<text x="114.5" y="1032.7" text-anchor="end" font-size="36.0" font-weight="bold" fill="#4d4d4d">0.3</text>
<text x="1184" y="1018" font-size="41" font-weight="bold" fill="#000">Fish ID</text>
<rect x="1220" y="1044.5" width="36" height="36.5" fill="#fff"/>
<rect x="1220" y="1044.5" width="36" height="36.5" fill="#F8766D" fill-opacity="0.30" stroke="#000" stroke-width="2.7"/>
<text x="1278" y="1075.0" font-size="33" fill="#000">1</text>
<rect x="1220" y="1084.1" width="36" height="36.5" fill="#fff"/>
<rect x="1220" y="1084.1" width="36" height="36.5" fill="#CD9600" fill-opacity="0.30" stroke="#000" stroke-width="2.7"/>
<text x="1278" y="1114.6" font-size="33" fill="#000">2</text>
<rect x="1220" y="1123.7" width="36" height="36.5" fill="#fff"/>
<rect x="1220" y="1123.7" width="36" height="36.5" fill="#7CAE00" fill-opacity="0.30" stroke="#000" stroke-width="2.7"/>
<text x="1278" y="1154.2" font-size="33" fill="#000">3</text>
<rect x="1220" y="1163.3" width="36" height="36.5" fill="#fff"/>
<rect x="1220" y="1163.3" width="36" height="36.5" fill="#00BE67" fill-opacity="0.30" stroke="#000" stroke-width="2.7"/>
<text x="1278" y="1193.8" font-size="33" fill="#000">4</text>
<rect x="1220" y="1202.9" width="36" height="36.5" fill="#fff"/>
<rect x="1220" y="1202.9" width="36" height="36.5" fill="#00BFC4" fill-opacity="0.30" stroke="#000" stroke-width="2.7"/>
<text x="1278" y="1233.4" font-size="33" fill="#000">5</text>
<rect x="1220" y="1242.5" width="36" height="36.5" fill="#fff"/>
<rect x="1220" y="1242.5" width="36" height="36.5" fill="#00A9FF" fill-opacity="0.30" stroke="#000" stroke-width="2.7"/>
<text x="1278" y="1273.0" font-size="33" fill="#000">6</text>
<rect x="1220" y="1282.1" width="36" height="36.5" fill="#fff"/>
<rect x="1220" y="1282.1" width="36" height="36.5" fill="#C77CFF" fill-opacity="0.30" stroke="#000" stroke-width="2.7"/>
<text x="1278" y="1312.6" font-size="33" fill="#000">7</text>
<rect x="1220" y="1321.7" width="36" height="36.5" fill="#fff"/>
<rect x="1220" y="1321.7" width="36" height="36.5" fill="#FF61CC" fill-opacity="0.30" stroke="#000" stroke-width="2.7"/>
<text x="1278" y="1352.2" font-size="33" fill="#000">8</text>
<text x="140" y="32" font-size="35" font-weight="bold" fill="#000">A</text>
<text x="754.5" y="32" font-size="35" font-weight="bold" fill="#000">B</text>
<text x="140" y="943" font-size="34" font-weight="bold" fill="#000">C</text>
<text x="442" y="873" text-anchor="middle" font-size="37" font-weight="bold" fill="#000">Hours from sunrise</text>
<text x="1059.5" y="873" text-anchor="middle" font-size="37" font-weight="bold" fill="#000" textLength="307" lengthAdjust="spacingAndGlyphs">Hours from sunset</text>
<text x="762" y="1797" text-anchor="middle" font-size="41" font-weight="bold" fill="#000">Depth (m)</text>
<text transform="translate(30,446) rotate(-90)" text-anchor="middle" font-size="37" font-weight="bold" fill="#000">Density</text>
<text transform="translate(31,1345) rotate(-90)" text-anchor="middle" font-size="40.5" font-weight="bold" fill="#000">Density</text>
</g></svg></body></html>
